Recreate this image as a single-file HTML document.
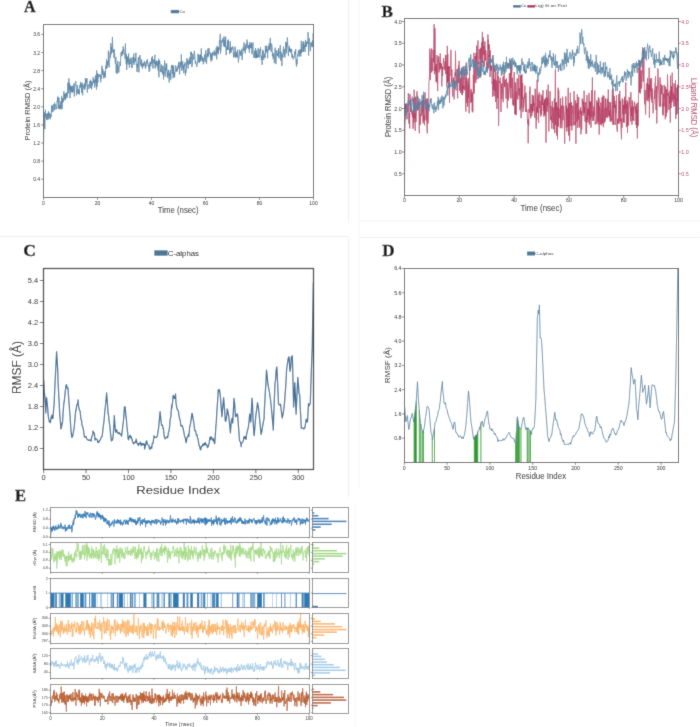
<!DOCTYPE html>
<html><head><meta charset="utf-8"><style>
html,body{margin:0;padding:0;background:#fff;width:700px;height:727px;overflow:hidden;}
svg{display:block;}
#w{}
text{-webkit-font-smoothing:antialiased;}
</style></head><body><div id="w"><svg width="700" height="727" viewBox="0 0 700 727"><defs><clipPath id="c0"><rect x="50.50" y="507.50" width="258.70" height="29.70"/></clipPath><clipPath id="c1"><rect x="50.50" y="542.90" width="258.70" height="29.50"/></clipPath><clipPath id="c2"><rect x="50.50" y="613.60" width="258.70" height="29.40"/></clipPath><clipPath id="c3"><rect x="50.50" y="648.90" width="258.70" height="29.40"/></clipPath><clipPath id="c4"><rect x="50.50" y="684.20" width="258.70" height="29.40"/></clipPath><filter id="bl" x="-0.02" y="-0.02" width="1.04" height="1.04"><feConvolveMatrix order="3" kernelMatrix="0.02 0.08 0.02 0.08 0.6 0.08 0.02 0.08 0.02" divisor="1" edgeMode="duplicate" preserveAlpha="true"/></filter></defs><g filter="url(#bl)"><rect x="-10" y="-10" width="720" height="747" fill="#fff"/><line x1="348.4" y1="0" x2="348.4" y2="223" stroke="#efefef" stroke-width="1"/><line x1="348.4" y1="236.6" x2="348.4" y2="497" stroke="#efefef" stroke-width="1"/><line x1="0" y1="236.6" x2="348" y2="236.6" stroke="#efefef" stroke-width="1"/><line x1="359.5" y1="221" x2="700" y2="221" stroke="#efefef" stroke-width="1"/><line x1="359.5" y1="237.4" x2="700" y2="237.4" stroke="#efefef" stroke-width="1"/><line x1="359.3" y1="0" x2="359.3" y2="488" stroke="#f6f6f6" stroke-width="1"/><line x1="355" y1="504" x2="355" y2="727" stroke="#f6f6f6" stroke-width="1"/><polyline points="43.5,145.3 43.8,129.4 44.0,122.6 44.3,112.4 44.6,128.0 44.9,129.0 45.1,118.0 45.4,109.7 45.7,116.2 45.9,117.3 46.2,113.7 46.5,119.1 46.7,115.8 47.0,120.1 47.3,116.3 47.6,113.2 47.8,115.0 48.1,119.7 48.4,111.2 48.6,111.7 48.9,117.9 49.2,117.8 49.4,112.7 49.7,113.7 50.0,118.9 50.3,119.3 50.5,113.9 50.8,114.6 51.1,117.2 51.3,113.8 51.6,105.0 51.9,112.3 52.1,109.7 52.4,106.0 52.7,108.5 53.0,111.7 53.2,106.3 53.5,104.1 53.8,106.7 54.0,107.1 54.3,110.3 54.6,102.7 54.9,104.2 55.1,106.1 55.4,104.8 55.7,106.5 55.9,109.4 56.2,108.7 56.5,106.8 56.7,108.6 57.0,101.1 57.3,101.7 57.6,96.6 57.8,101.6 58.1,97.8 58.4,108.9 58.6,106.4 58.9,97.4 59.2,107.2 59.4,105.1 59.7,109.2 60.0,106.4 60.3,106.5 60.5,107.8 60.8,101.4 61.1,109.5 61.3,108.8 61.6,95.9 61.9,105.0 62.1,108.9 62.4,101.2 62.7,98.3 63.0,102.2 63.2,101.1 63.5,102.1 63.8,91.4 64.0,98.3 64.3,99.1 64.6,93.8 64.9,95.2 65.1,100.3 65.4,94.0 65.7,98.9 65.9,93.2 66.2,92.6 66.5,95.7 66.7,93.5 67.0,98.1 67.3,97.3 67.6,91.5 67.8,82.7 68.1,93.5 68.4,93.0 68.6,90.5 68.9,78.3 69.2,89.8 69.4,83.7 69.7,83.0 70.0,98.1 70.3,85.4 70.5,90.3 70.8,86.2 71.1,92.5 71.3,86.2 71.6,89.7 71.9,91.8 72.1,88.9 72.4,92.5 72.7,85.7 73.0,92.0 73.2,92.1 73.5,87.8 73.8,86.4 74.0,83.5 74.3,96.5 74.6,87.0 74.9,85.8 75.1,84.2 75.4,82.5 75.7,81.0 75.9,82.1 76.2,87.9 76.5,95.4 76.7,90.6 77.0,89.7 77.3,85.1 77.6,85.3 77.8,93.8 78.1,89.1 78.4,90.0 78.6,93.6 78.9,91.9 79.2,90.2 79.4,94.7 79.7,86.2 80.0,85.0 80.3,87.5 80.5,81.9 80.8,86.0 81.1,83.9 81.3,84.5 81.6,93.0 81.9,84.3 82.1,82.6 82.4,90.7 82.7,95.3 83.0,84.3 83.2,85.7 83.5,87.4 83.8,86.8 84.0,87.1 84.3,89.4 84.6,83.5 84.9,89.4 85.1,85.2 85.4,78.2 85.7,86.6 85.9,78.2 86.2,83.3 86.5,81.3 86.7,82.8 87.0,78.3 87.3,92.5 87.6,87.0 87.8,85.9 88.1,84.2 88.4,87.8 88.6,88.0 88.9,88.9 89.2,88.8 89.4,87.3 89.7,81.0 90.0,82.4 90.3,82.6 90.5,79.7 90.8,88.0 91.1,81.1 91.3,85.3 91.6,89.4 91.9,87.0 92.1,81.9 92.4,85.5 92.7,82.7 93.0,80.2 93.2,77.1 93.5,82.3 93.8,81.0 94.0,83.1 94.3,79.5 94.6,87.6 94.9,84.6 95.1,85.0 95.4,75.4 95.7,82.4 95.9,79.5 96.2,84.4 96.5,89.6 96.7,70.3 97.0,87.0 97.3,73.3 97.6,78.3 97.8,82.7 98.1,79.7 98.4,77.2 98.6,74.1 98.9,74.9 99.2,74.1 99.4,76.7 99.7,76.6 100.0,77.0 100.3,74.7 100.5,80.9 100.8,82.2 101.1,75.4 101.3,78.6 101.6,77.8 101.9,65.8 102.1,70.3 102.4,74.9 102.7,68.6 103.0,71.6 103.2,70.9 103.5,74.0 103.8,78.6 104.0,74.6 104.3,76.7 104.6,72.7 104.9,74.5 105.1,71.0 105.4,77.4 105.7,66.0 105.9,65.5 106.2,69.0 106.5,59.2 106.7,63.2 107.0,68.1 107.3,62.9 107.6,61.3 107.8,65.0 108.1,62.5 108.4,50.5 108.6,62.1 108.9,66.1 109.2,67.4 109.4,62.5 109.7,59.8 110.0,53.0 110.3,51.7 110.5,58.0 110.8,43.3 111.1,54.3 111.3,46.8 111.6,49.9 111.9,50.9 112.1,52.7 112.4,36.9 112.7,45.4 113.0,51.0 113.2,50.3 113.5,52.0 113.8,50.1 114.0,57.9 114.3,49.3 114.6,53.6 114.9,57.5 115.1,60.9 115.4,64.1 115.7,59.9 115.9,57.1 116.2,73.1 116.5,64.0 116.7,65.7 117.0,69.2 117.3,74.0 117.6,64.3 117.8,61.1 118.1,65.5 118.4,65.8 118.6,69.9 118.9,72.5 119.2,67.1 119.4,66.2 119.7,66.4 120.0,61.8 120.3,63.7 120.5,65.6 120.8,54.2 121.1,52.1 121.3,52.0 121.6,54.9 121.9,56.2 122.1,51.2 122.4,54.3 122.7,49.9 123.0,52.8 123.2,46.3 123.5,50.5 123.8,49.0 124.0,54.5 124.3,53.6 124.6,54.3 124.9,55.6 125.1,58.9 125.4,43.6 125.7,54.3 125.9,54.5 126.2,64.1 126.5,54.0 126.7,69.9 127.0,56.3 127.3,62.4 127.6,60.2 127.8,57.0 128.1,64.6 128.4,62.2 128.6,53.4 128.9,60.2 129.2,59.9 129.4,67.8 129.7,62.4 130.0,58.7 130.3,62.9 130.5,64.1 130.8,62.0 131.1,57.6 131.3,59.5 131.6,67.9 131.9,65.8 132.1,68.0 132.4,63.2 132.7,62.5 133.0,57.0 133.2,62.9 133.5,55.5 133.8,53.6 134.0,64.8 134.3,61.1 134.6,57.9 134.9,58.2 135.1,58.6 135.4,61.6 135.7,56.9 135.9,52.7 136.2,62.5 136.5,66.2 136.7,66.3 137.0,72.0 137.3,64.0 137.6,67.6 137.8,62.8 138.1,60.5 138.4,57.0 138.6,58.2 138.9,72.4 139.2,60.8 139.4,58.0 139.7,55.8 140.0,55.0 140.3,59.1 140.5,64.3 140.8,62.6 141.1,65.3 141.3,66.3 141.6,59.2 141.9,66.3 142.1,63.6 142.4,68.8 142.7,63.9 143.0,64.6 143.2,66.6 143.5,63.1 143.8,62.7 144.0,65.3 144.3,61.0 144.6,62.3 144.9,64.0 145.1,66.2 145.4,68.5 145.7,63.4 145.9,67.2 146.2,61.3 146.5,61.6 146.7,60.7 147.0,63.1 147.3,59.2 147.6,63.9 147.8,62.8 148.1,65.9 148.4,64.9 148.6,67.4 148.9,67.3 149.2,71.8 149.4,64.9 149.7,70.6 150.0,61.7 150.3,64.5 150.5,62.9 150.8,66.3 151.1,61.5 151.3,60.9 151.6,57.7 151.9,64.0 152.1,58.1 152.4,56.2 152.7,63.6 153.0,68.5 153.2,62.5 153.5,60.7 153.8,59.4 154.0,62.0 154.3,63.6 154.6,58.7 154.9,54.8 155.1,68.5 155.4,65.4 155.7,61.8 155.9,66.6 156.2,60.5 156.5,63.5 156.7,65.3 157.0,63.2 157.3,61.1 157.6,68.5 157.8,69.2 158.1,70.6 158.4,69.7 158.6,58.7 158.9,77.3 159.2,60.1 159.4,63.9 159.7,61.1 160.0,63.7 160.3,67.1 160.5,71.7 160.8,69.8 161.1,72.2 161.3,71.2 161.6,64.6 161.9,66.3 162.1,67.0 162.4,74.2 162.7,74.0 163.0,65.9 163.2,68.6 163.5,79.5 163.8,71.8 164.0,73.1 164.3,67.1 164.6,60.5 164.9,65.1 165.1,76.5 165.4,69.8 165.7,67.9 165.9,69.6 166.2,63.5 166.5,70.7 166.7,63.7 167.0,71.5 167.3,77.3 167.6,71.6 167.8,77.5 168.1,72.7 168.4,69.8 168.6,73.6 168.9,76.6 169.2,82.5 169.4,73.2 169.7,76.3 170.0,72.1 170.3,70.1 170.5,72.8 170.8,79.7 171.1,71.4 171.3,66.2 171.6,65.3 171.9,67.5 172.1,64.9 172.4,73.6 172.7,65.9 173.0,66.4 173.2,78.1 173.5,65.7 173.8,75.5 174.0,73.5 174.3,72.3 174.6,77.4 174.9,73.6 175.1,71.7 175.4,65.4 175.7,66.8 175.9,66.2 176.2,71.9 176.5,68.9 176.7,70.1 177.0,71.6 177.3,67.6 177.6,69.5 177.8,66.6 178.1,65.4 178.4,66.7 178.6,62.2 178.9,68.3 179.2,67.1 179.4,70.1 179.7,74.4 180.0,61.7 180.3,67.4 180.5,62.7 180.8,63.8 181.1,65.1 181.3,54.4 181.6,62.0 181.9,70.7 182.1,65.4 182.4,65.5 182.7,61.3 183.0,69.1 183.2,66.7 183.5,65.2 183.8,73.3 184.0,69.5 184.3,64.0 184.6,65.7 184.9,65.7 185.1,62.3 185.4,75.5 185.7,70.1 185.9,72.9 186.2,70.6 186.5,67.8 186.7,59.2 187.0,58.1 187.3,62.8 187.6,64.3 187.8,60.4 188.1,68.5 188.4,65.9 188.6,63.4 188.9,60.7 189.2,59.3 189.4,64.3 189.7,61.1 190.0,56.8 190.3,61.8 190.5,63.9 190.8,51.8 191.1,55.1 191.3,51.8 191.6,60.5 191.9,67.1 192.1,64.7 192.4,65.2 192.7,53.7 193.0,55.1 193.2,57.0 193.5,59.5 193.8,59.4 194.0,58.4 194.3,50.8 194.6,52.7 194.9,57.2 195.1,61.3 195.4,63.8 195.7,61.1 195.9,61.5 196.2,64.0 196.5,65.8 196.7,67.0 197.0,64.7 197.3,64.5 197.6,64.5 197.8,54.0 198.1,53.9 198.4,54.7 198.6,56.0 198.9,62.2 199.2,54.8 199.4,62.9 199.7,58.6 200.0,61.2 200.3,57.0 200.5,54.5 200.8,61.3 201.1,53.3 201.3,48.5 201.6,58.6 201.9,56.3 202.1,60.4 202.4,58.3 202.7,61.5 203.0,57.7 203.2,64.3 203.5,64.0 203.8,62.1 204.0,58.6 204.3,59.0 204.6,54.5 204.9,58.2 205.1,61.9 205.4,57.0 205.7,50.3 205.9,51.7 206.2,60.9 206.5,64.1 206.7,62.3 207.0,56.2 207.3,53.4 207.6,57.2 207.8,48.7 208.1,52.3 208.4,56.3 208.6,56.5 208.9,48.0 209.2,49.7 209.4,51.4 209.7,53.5 210.0,52.3 210.3,55.1 210.5,59.3 210.8,53.3 211.1,61.5 211.3,57.7 211.6,53.8 211.9,59.2 212.1,60.1 212.4,54.0 212.7,51.9 213.0,55.5 213.2,53.7 213.5,52.7 213.8,53.6 214.0,52.2 214.3,50.5 214.6,51.0 214.9,56.2 215.1,52.1 215.4,52.5 215.7,54.9 215.9,54.2 216.2,47.7 216.5,52.0 216.7,59.3 217.0,46.3 217.3,45.9 217.6,52.8 217.8,51.4 218.1,47.4 218.4,54.3 218.6,47.2 218.9,49.5 219.2,50.2 219.4,40.6 219.7,43.2 220.0,37.9 220.3,33.8 220.5,53.7 220.8,51.0 221.1,47.3 221.3,47.3 221.6,44.4 221.9,40.2 222.1,42.3 222.4,40.9 222.7,38.2 223.0,38.6 223.2,39.8 223.5,45.7 223.8,43.9 224.0,36.5 224.3,47.1 224.6,43.4 224.9,40.2 225.1,47.1 225.4,46.3 225.7,36.7 225.9,48.6 226.2,55.1 226.5,51.6 226.7,46.8 227.0,49.9 227.3,48.6 227.6,40.6 227.8,49.8 228.1,48.7 228.4,39.5 228.6,46.8 228.9,49.9 229.2,48.8 229.4,49.2 229.7,54.1 230.0,44.2 230.3,41.2 230.5,51.5 230.8,47.6 231.1,52.7 231.3,47.8 231.6,47.7 231.9,50.1 232.1,49.2 232.4,46.3 232.7,46.9 233.0,46.6 233.2,47.8 233.5,57.7 233.8,52.3 234.0,55.6 234.3,55.5 234.6,56.8 234.9,51.7 235.1,46.7 235.4,55.0 235.7,58.0 235.9,56.2 236.2,51.6 236.5,55.8 236.7,56.8 237.0,54.1 237.3,57.4 237.6,49.5 237.8,51.6 238.1,57.4 238.4,62.5 238.6,60.2 238.9,57.9 239.2,57.9 239.4,53.8 239.7,49.7 240.0,53.3 240.3,54.7 240.5,51.5 240.8,53.9 241.1,56.1 241.3,54.1 241.6,50.2 241.9,48.9 242.1,60.1 242.4,54.7 242.7,54.2 243.0,50.5 243.2,46.9 243.5,47.5 243.8,50.9 244.0,42.5 244.3,50.2 244.6,49.5 244.9,48.6 245.1,52.7 245.4,53.3 245.7,44.6 245.9,48.9 246.2,49.1 246.5,42.5 246.7,41.7 247.0,39.6 247.3,44.4 247.6,42.7 247.8,47.8 248.1,45.3 248.4,49.1 248.6,48.2 248.9,45.0 249.2,49.5 249.4,52.7 249.7,42.2 250.0,43.2 250.3,47.8 250.5,48.2 250.8,44.1 251.1,47.8 251.3,42.5 251.6,46.1 251.9,54.3 252.1,52.3 252.4,48.4 252.7,45.5 253.0,42.5 253.2,52.7 253.5,54.5 253.8,57.9 254.0,57.7 254.3,54.4 254.6,52.1 254.9,50.7 255.1,58.0 255.4,48.0 255.7,50.3 255.9,58.3 256.2,50.3 256.5,57.7 256.7,52.7 257.0,56.8 257.3,57.9 257.6,54.9 257.8,57.5 258.1,48.2 258.4,54.9 258.6,56.4 258.9,56.0 259.2,57.4 259.4,54.9 259.7,49.5 260.0,50.9 260.3,51.8 260.5,47.2 260.8,54.9 261.1,58.1 261.3,60.1 261.6,57.8 261.9,55.5 262.1,64.8 262.4,55.8 262.7,49.7 263.0,54.6 263.2,51.0 263.5,58.3 263.8,59.9 264.0,56.3 264.3,57.1 264.6,53.8 264.9,55.2 265.1,57.8 265.4,45.8 265.7,53.6 265.9,48.9 266.2,49.2 266.5,51.4 266.7,45.7 267.0,51.8 267.3,49.5 267.6,58.3 267.8,52.3 268.1,51.4 268.4,46.0 268.6,47.3 268.9,50.1 269.2,43.4 269.4,46.8 269.7,49.7 270.0,44.3 270.3,37.9 270.5,46.9 270.8,46.5 271.1,51.7 271.3,44.5 271.6,43.5 271.9,45.0 272.1,46.7 272.4,56.5 272.7,54.0 273.0,52.8 273.2,59.2 273.5,57.6 273.8,53.7 274.0,55.7 274.3,63.1 274.6,60.9 274.9,61.1 275.1,47.7 275.4,59.4 275.7,61.8 275.9,64.1 276.2,60.9 276.5,50.2 276.7,50.0 277.0,50.4 277.3,55.7 277.6,53.3 277.8,53.6 278.1,55.5 278.4,56.8 278.6,48.0 278.9,58.3 279.2,52.4 279.4,52.3 279.7,52.9 280.0,49.5 280.3,45.0 280.5,50.3 280.8,60.6 281.1,51.8 281.3,57.0 281.6,57.0 281.9,65.9 282.1,55.0 282.4,54.0 282.7,56.4 283.0,57.6 283.2,49.7 283.5,46.5 283.8,54.2 284.0,52.4 284.3,49.2 284.6,56.9 284.9,57.0 285.1,57.4 285.4,51.7 285.7,41.9 285.9,47.1 286.2,46.5 286.5,53.4 286.7,42.6 287.0,45.9 287.3,37.5 287.6,41.0 287.8,47.4 288.1,49.6 288.4,56.1 288.6,52.4 288.9,48.8 289.2,45.9 289.4,51.4 289.7,47.9 290.0,48.4 290.3,52.2 290.5,49.2 290.8,51.3 291.1,51.8 291.3,53.2 291.6,48.9 291.9,57.5 292.1,54.8 292.4,54.1 292.7,57.7 293.0,56.3 293.2,59.4 293.5,58.8 293.8,58.2 294.0,58.3 294.3,57.8 294.6,51.9 294.9,55.3 295.1,51.0 295.4,52.7 295.7,49.0 295.9,60.0 296.2,64.4 296.5,66.7 296.7,59.3 297.0,64.4 297.3,56.8 297.6,54.6 297.8,55.8 298.1,54.9 298.4,50.2 298.6,52.6 298.9,52.6 299.2,56.7 299.4,51.4 299.7,53.8 300.0,49.2 300.3,52.8 300.5,50.0 300.8,56.4 301.1,48.0 301.3,40.8 301.6,53.0 301.9,49.5 302.1,51.9 302.4,49.6 302.7,44.3 303.0,45.0 303.2,41.2 303.5,51.8 303.8,42.5 304.0,47.5 304.3,45.0 304.6,48.8 304.9,50.2 305.1,52.0 305.4,39.9 305.7,41.4 305.9,46.8 306.2,43.1 306.5,47.0 306.7,41.6 307.0,41.6 307.3,43.6 307.6,42.9 307.8,43.3 308.1,32.1 308.4,45.6 308.6,55.6 308.9,43.8 309.2,40.9 309.4,38.4 309.7,41.4 310.0,46.3 310.3,51.2 310.5,50.0 310.8,42.9 311.1,44.5 311.3,42.5 311.6,45.4 311.9,45.4 312.1,47.2 312.4,40.5 312.7,40.5 313.0,46.6 313.2,33.4 313.5,42.9" fill="none" stroke="#5a87a6" stroke-width="0.85" stroke-linejoin="round"/><rect x="43.5" y="24.5" width="270" height="173" fill="none" stroke="#5a5a5a" stroke-width="1.0"/><line x1="41" y1="179.2" x2="43.5" y2="179.2" stroke="#444" stroke-width="0.6"/><text x="40.1" y="179.2" font-family='"Liberation Sans", sans-serif' font-size="5" font-weight="normal" fill="#222" text-anchor="end" dominant-baseline="central">0.4</text><line x1="41" y1="161.1" x2="43.5" y2="161.1" stroke="#444" stroke-width="0.6"/><text x="40.1" y="161.1" font-family='"Liberation Sans", sans-serif' font-size="5" font-weight="normal" fill="#222" text-anchor="end" dominant-baseline="central">0.8</text><line x1="41" y1="143" x2="43.5" y2="143" stroke="#444" stroke-width="0.6"/><text x="40.1" y="143" font-family='"Liberation Sans", sans-serif' font-size="5" font-weight="normal" fill="#222" text-anchor="end" dominant-baseline="central">1.2</text><line x1="41" y1="124.9" x2="43.5" y2="124.9" stroke="#444" stroke-width="0.6"/><text x="40.1" y="124.9" font-family='"Liberation Sans", sans-serif' font-size="5" font-weight="normal" fill="#222" text-anchor="end" dominant-baseline="central">1.6</text><line x1="41" y1="106.8" x2="43.5" y2="106.8" stroke="#444" stroke-width="0.6"/><text x="40.1" y="106.8" font-family='"Liberation Sans", sans-serif' font-size="5" font-weight="normal" fill="#222" text-anchor="end" dominant-baseline="central">2.0</text><line x1="41" y1="88.7" x2="43.5" y2="88.7" stroke="#444" stroke-width="0.6"/><text x="40.1" y="88.7" font-family='"Liberation Sans", sans-serif' font-size="5" font-weight="normal" fill="#222" text-anchor="end" dominant-baseline="central">2.4</text><line x1="41" y1="70.6" x2="43.5" y2="70.6" stroke="#444" stroke-width="0.6"/><text x="40.1" y="70.6" font-family='"Liberation Sans", sans-serif' font-size="5" font-weight="normal" fill="#222" text-anchor="end" dominant-baseline="central">2.8</text><line x1="41" y1="52.5" x2="43.5" y2="52.5" stroke="#444" stroke-width="0.6"/><text x="40.1" y="52.5" font-family='"Liberation Sans", sans-serif' font-size="5" font-weight="normal" fill="#222" text-anchor="end" dominant-baseline="central">3.2</text><line x1="41" y1="34.4" x2="43.5" y2="34.4" stroke="#444" stroke-width="0.6"/><text x="40.1" y="34.4" font-family='"Liberation Sans", sans-serif' font-size="5" font-weight="normal" fill="#222" text-anchor="end" dominant-baseline="central">3.6</text><line x1="43.5" y1="197.5" x2="43.5" y2="200" stroke="#444" stroke-width="0.6"/><text x="43.5" y="202.6" font-family='"Liberation Sans", sans-serif' font-size="5" font-weight="normal" fill="#222" text-anchor="middle" dominant-baseline="central">0</text><line x1="97.5" y1="197.5" x2="97.5" y2="200" stroke="#444" stroke-width="0.6"/><text x="97.5" y="202.6" font-family='"Liberation Sans", sans-serif' font-size="5" font-weight="normal" fill="#222" text-anchor="middle" dominant-baseline="central">20</text><line x1="151.5" y1="197.5" x2="151.5" y2="200" stroke="#444" stroke-width="0.6"/><text x="151.5" y="202.6" font-family='"Liberation Sans", sans-serif' font-size="5" font-weight="normal" fill="#222" text-anchor="middle" dominant-baseline="central">40</text><line x1="205.5" y1="197.5" x2="205.5" y2="200" stroke="#444" stroke-width="0.6"/><text x="205.5" y="202.6" font-family='"Liberation Sans", sans-serif' font-size="5" font-weight="normal" fill="#222" text-anchor="middle" dominant-baseline="central">60</text><line x1="259.5" y1="197.5" x2="259.5" y2="200" stroke="#444" stroke-width="0.6"/><text x="259.5" y="202.6" font-family='"Liberation Sans", sans-serif' font-size="5" font-weight="normal" fill="#222" text-anchor="middle" dominant-baseline="central">80</text><line x1="313.5" y1="197.5" x2="313.5" y2="200" stroke="#444" stroke-width="0.6"/><text x="313.5" y="202.6" font-family='"Liberation Sans", sans-serif' font-size="5" font-weight="normal" fill="#222" text-anchor="middle" dominant-baseline="central">100</text><text x="178.2" y="210" font-family='"Liberation Sans", sans-serif' font-size="8.6" font-weight="normal" fill="#222" text-anchor="middle" dominant-baseline="central" textLength="40.8" lengthAdjust="spacingAndGlyphs">Time (nsec)</text><text x="27.7" y="110.5" font-family='"Liberation Sans", sans-serif' font-size="7.6" font-weight="normal" fill="#222" text-anchor="middle" dominant-baseline="central" transform="rotate(-90 27.7 110.5)" textLength="60" lengthAdjust="spacingAndGlyphs">Protein RMSD (Å)</text><rect x="170.8" y="9.9" width="8.3" height="3.4" fill="#4f7c9c"/><text x="179.6" y="11.7" font-family='"Liberation Sans", sans-serif' font-size="4" font-weight="normal" fill="#333" text-anchor="start" dominant-baseline="central">Cα</text><text x="24" y="12.1" font-family='"Liberation Serif", serif' font-size="16" font-weight="bold" fill="#111" text-anchor="start" dominant-baseline="auto" stroke="#111" stroke-width="0.35">A</text><polyline points="404.5,195.5 404.8,138.9 405.0,121.8 405.3,117.8 405.6,103.9 405.9,109.4 406.1,104.2 406.4,103.0 406.7,113.5 407.0,119.3 407.2,110.4 407.5,108.4 407.8,111.7 408.1,107.3 408.3,93.1 408.6,108.6 408.9,123.6 409.2,117.5 409.4,113.0 409.7,128.4 410.0,94.0 410.3,104.8 410.5,111.9 410.8,98.9 411.1,111.1 411.4,108.7 411.6,113.8 411.9,113.0 412.2,116.2 412.5,117.4 412.7,110.6 413.0,128.8 413.3,118.4 413.6,98.2 413.8,122.6 414.1,89.7 414.4,96.1 414.6,118.6 414.9,113.5 415.2,131.0 415.5,101.9 415.7,96.7 416.0,122.1 416.3,115.4 416.6,109.4 416.8,92.2 417.1,91.2 417.4,110.5 417.7,101.9 417.9,97.1 418.2,101.9 418.5,109.4 418.8,101.3 419.0,115.9 419.3,133.2 419.6,108.4 419.9,102.8 420.1,106.1 420.4,124.8 420.7,117.7 421.0,114.2 421.2,115.8 421.5,110.5 421.8,114.3 422.1,101.4 422.3,112.2 422.6,100.3 422.9,123.2 423.2,123.3 423.4,94.7 423.7,120.5 424.0,115.3 424.2,117.2 424.5,125.4 424.8,101.4 425.1,92.5 425.3,103.3 425.6,100.3 425.9,119.5 426.2,120.6 426.4,102.6 426.7,121.6 427.0,129.9 427.3,133.4 427.5,98.6 427.8,107.4 428.1,123.4 428.4,116.1 428.6,109.3 428.9,82.2 429.2,80.2 429.5,75.0 429.7,48.7 430.0,68.9 430.3,80.1 430.6,60.5 430.8,55.0 431.1,51.7 431.4,48.4 431.7,72.5 431.9,58.1 432.2,63.1 432.5,65.6 432.8,70.9 433.0,49.7 433.3,57.8 433.6,62.3 433.8,48.2 434.1,24.2 434.4,74.3 434.7,53.5 434.9,28.1 435.2,35.5 435.5,71.2 435.8,66.7 436.0,81.6 436.3,63.9 436.6,81.2 436.9,82.7 437.1,55.0 437.4,84.0 437.7,91.1 438.0,68.1 438.2,59.9 438.5,61.9 438.8,56.5 439.1,72.5 439.3,64.7 439.6,62.3 439.9,69.9 440.2,53.4 440.4,57.6 440.7,68.5 441.0,64.3 441.3,66.5 441.5,63.0 441.8,86.5 442.1,74.5 442.3,66.5 442.6,76.1 442.9,67.7 443.2,69.0 443.4,58.2 443.7,62.3 444.0,61.7 444.3,62.4 444.5,68.3 444.8,70.3 445.1,67.6 445.4,55.2 445.6,74.2 445.9,54.8 446.2,59.2 446.5,66.0 446.7,86.4 447.0,83.0 447.3,45.8 447.6,82.5 447.8,54.0 448.1,81.4 448.4,69.6 448.7,66.4 448.9,84.2 449.2,66.1 449.5,102.9 449.8,74.2 450.0,75.3 450.3,69.8 450.6,59.5 450.9,49.8 451.1,55.4 451.4,76.0 451.7,81.8 451.9,69.6 452.2,83.8 452.5,96.4 452.8,95.0 453.0,79.8 453.3,81.3 453.6,77.6 453.9,77.4 454.1,99.4 454.4,81.2 454.7,88.3 455.0,72.4 455.2,76.6 455.5,50.8 455.8,71.3 456.1,79.8 456.3,84.3 456.6,81.1 456.9,69.5 457.2,69.2 457.4,93.7 457.7,98.3 458.0,71.6 458.3,83.0 458.5,65.5 458.8,71.7 459.1,60.8 459.4,72.8 459.6,90.6 459.9,83.7 460.2,78.0 460.5,93.0 460.7,82.9 461.0,75.9 461.3,67.9 461.5,70.7 461.8,94.7 462.1,68.9 462.4,95.2 462.6,85.3 462.9,93.0 463.2,77.6 463.5,88.9 463.7,87.8 464.0,86.5 464.3,90.3 464.6,84.9 464.8,69.4 465.1,79.3 465.4,78.4 465.7,108.7 465.9,111.6 466.2,62.6 466.5,80.0 466.8,102.8 467.0,80.7 467.3,92.3 467.6,106.6 467.9,100.5 468.1,78.1 468.4,98.2 468.7,84.7 469.0,98.6 469.2,113.3 469.5,65.4 469.8,87.8 470.1,89.3 470.3,94.3 470.6,94.3 470.9,103.0 471.1,90.1 471.4,89.3 471.7,101.7 472.0,92.6 472.2,111.4 472.5,92.8 472.8,112.3 473.1,90.5 473.3,74.9 473.6,92.4 473.9,52.9 474.2,93.6 474.4,73.2 474.7,68.5 475.0,56.0 475.3,56.7 475.5,62.8 475.8,83.0 476.1,52.8 476.4,60.8 476.6,45.7 476.9,79.5 477.2,60.0 477.5,59.7 477.7,45.5 478.0,40.4 478.3,63.1 478.6,64.2 478.8,61.9 479.1,75.1 479.4,49.1 479.7,50.2 479.9,54.8 480.2,58.9 480.5,47.8 480.7,77.5 481.0,57.0 481.3,48.9 481.6,42.4 481.8,67.9 482.1,45.6 482.4,31.9 482.7,62.7 482.9,37.1 483.2,38.2 483.5,38.5 483.8,54.8 484.0,46.0 484.3,66.8 484.6,56.5 484.9,41.4 485.1,45.8 485.4,60.5 485.7,50.0 486.0,52.1 486.2,55.3 486.5,69.1 486.8,71.6 487.1,62.4 487.3,70.0 487.6,49.5 487.9,34.5 488.2,49.3 488.4,39.6 488.7,67.9 489.0,54.8 489.3,57.0 489.5,44.5 489.8,57.8 490.1,76.9 490.3,50.6 490.6,70.2 490.9,65.3 491.2,70.9 491.4,65.8 491.7,67.0 492.0,83.3 492.3,82.0 492.5,96.9 492.8,96.2 493.1,67.4 493.4,89.8 493.6,62.9 493.9,94.0 494.2,96.3 494.5,79.1 494.7,86.5 495.0,91.1 495.3,70.1 495.6,102.1 495.8,92.6 496.1,80.4 496.4,82.0 496.7,100.3 496.9,109.0 497.2,71.7 497.5,98.2 497.8,97.5 498.0,94.2 498.3,75.6 498.6,125.8 498.9,100.4 499.1,83.5 499.4,80.9 499.7,81.8 499.9,83.0 500.2,77.5 500.5,80.7 500.8,102.1 501.0,112.0 501.3,83.4 501.6,89.8 501.9,99.2 502.1,95.5 502.4,92.0 502.7,82.5 503.0,76.5 503.2,102.3 503.5,96.0 503.8,82.3 504.1,69.9 504.3,80.4 504.6,87.1 504.9,80.2 505.2,79.5 505.4,79.8 505.7,88.2 506.0,98.7 506.3,86.0 506.5,78.1 506.8,86.5 507.1,99.5 507.4,108.3 507.6,84.7 507.9,82.6 508.2,90.3 508.4,100.4 508.7,89.8 509.0,87.5 509.3,73.3 509.5,79.6 509.8,88.8 510.1,94.2 510.4,98.3 510.6,60.4 510.9,88.2 511.2,63.7 511.5,74.8 511.7,70.8 512.0,98.5 512.3,77.6 512.6,98.5 512.8,104.5 513.1,99.4 513.4,105.9 513.7,92.5 513.9,85.1 514.2,72.0 514.5,100.7 514.8,114.3 515.0,88.5 515.3,82.4 515.6,114.6 515.9,91.5 516.1,111.3 516.4,115.2 516.7,86.6 517.0,83.2 517.2,78.4 517.5,96.3 517.8,99.5 518.0,97.1 518.3,93.0 518.6,87.8 518.9,74.6 519.1,95.5 519.4,89.7 519.7,88.4 520.0,110.2 520.2,89.4 520.5,75.3 520.8,88.2 521.1,118.2 521.3,75.1 521.6,107.6 521.9,74.2 522.2,82.1 522.4,99.0 522.7,83.1 523.0,112.1 523.3,97.8 523.5,108.3 523.8,103.1 524.1,99.8 524.4,95.2 524.6,97.7 524.9,85.6 525.2,105.9 525.5,111.8 525.7,97.0 526.0,92.7 526.3,95.9 526.6,112.0 526.8,109.6 527.1,111.5 527.4,118.1 527.6,123.8 527.9,119.2 528.2,143.3 528.5,119.5 528.7,125.8 529.0,108.8 529.3,112.7 529.6,91.5 529.8,93.2 530.1,86.6 530.4,112.0 530.7,118.3 530.9,103.9 531.2,110.5 531.5,104.4 531.8,116.2 532.0,109.1 532.3,94.8 532.6,112.7 532.9,99.8 533.1,111.2 533.4,102.3 533.7,95.5 534.0,105.2 534.2,103.0 534.5,108.3 534.8,117.7 535.1,88.7 535.3,93.7 535.6,99.1 535.9,115.5 536.2,128.7 536.4,107.0 536.7,120.3 537.0,84.7 537.2,79.7 537.5,112.6 537.8,96.3 538.1,95.0 538.3,107.6 538.6,122.9 538.9,98.8 539.2,92.4 539.4,98.5 539.7,108.3 540.0,100.7 540.3,113.3 540.5,109.8 540.8,116.6 541.1,94.4 541.4,100.7 541.6,114.9 541.9,105.4 542.2,96.3 542.5,103.6 542.7,105.0 543.0,90.1 543.3,110.9 543.6,103.3 543.8,116.7 544.1,105.6 544.4,99.3 544.7,115.5 544.9,100.8 545.2,113.7 545.5,97.7 545.8,125.3 546.0,142.7 546.3,120.4 546.6,89.8 546.8,107.3 547.1,111.7 547.4,105.6 547.7,97.8 547.9,105.8 548.2,84.5 548.5,109.3 548.8,131.4 549.0,124.2 549.3,109.0 549.6,104.3 549.9,96.7 550.1,91.2 550.4,98.6 550.7,120.3 551.0,106.2 551.2,119.0 551.5,116.8 551.8,128.8 552.1,107.1 552.3,101.0 552.6,112.2 552.9,122.9 553.2,107.5 553.4,113.1 553.7,129.4 554.0,115.0 554.3,98.6 554.5,102.5 554.8,133.1 555.1,96.0 555.4,69.4 555.6,125.1 555.9,103.3 556.2,110.0 556.4,102.0 556.7,135.5 557.0,117.7 557.3,106.9 557.5,139.5 557.8,114.2 558.1,87.7 558.4,126.5 558.6,89.8 558.9,92.2 559.2,116.6 559.5,116.9 559.7,118.2 560.0,108.6 560.3,128.2 560.6,98.2 560.8,124.0 561.1,109.7 561.4,107.7 561.7,105.5 561.9,128.3 562.2,122.6 562.5,96.7 562.8,97.8 563.0,120.2 563.3,115.7 563.6,105.8 563.9,111.2 564.1,113.2 564.4,126.7 564.7,143.8 565.0,116.1 565.2,114.9 565.5,101.2 565.8,96.4 566.0,98.3 566.3,127.5 566.6,105.7 566.9,131.5 567.1,113.1 567.4,108.4 567.7,127.2 568.0,123.3 568.2,87.8 568.5,135.5 568.8,103.7 569.1,126.0 569.3,102.9 569.6,141.1 569.9,126.6 570.2,113.3 570.4,92.7 570.7,120.4 571.0,125.9 571.3,117.1 571.5,102.0 571.8,130.5 572.1,113.6 572.4,111.9 572.6,112.3 572.9,105.4 573.2,125.7 573.5,112.2 573.7,112.5 574.0,91.1 574.3,105.8 574.6,111.9 574.8,125.2 575.1,121.8 575.4,124.9 575.6,100.3 575.9,143.7 576.2,105.7 576.5,103.4 576.7,103.5 577.0,122.0 577.3,94.3 577.6,114.9 577.8,128.0 578.1,112.2 578.4,119.4 578.7,97.1 578.9,116.4 579.2,116.7 579.5,127.4 579.8,112.8 580.0,109.7 580.3,114.1 580.6,107.0 580.9,134.4 581.1,128.2 581.4,110.9 581.7,129.6 582.0,108.5 582.2,98.5 582.5,104.1 582.8,100.3 583.1,115.7 583.3,102.2 583.6,107.8 583.9,112.9 584.1,90.7 584.4,112.9 584.7,107.1 585.0,121.6 585.2,104.5 585.5,102.1 585.8,107.7 586.1,133.7 586.3,116.7 586.6,133.9 586.9,94.9 587.2,116.9 587.4,119.7 587.7,108.4 588.0,122.6 588.3,109.0 588.5,115.6 588.8,105.8 589.1,92.9 589.4,124.8 589.6,101.4 589.9,108.4 590.2,119.5 590.5,101.6 590.7,109.2 591.0,127.7 591.3,103.6 591.6,90.2 591.8,117.4 592.1,109.6 592.4,77.4 592.7,102.3 592.9,120.9 593.2,111.1 593.5,120.7 593.7,121.0 594.0,106.4 594.3,115.9 594.6,100.9 594.8,90.5 595.1,124.6 595.4,124.0 595.7,121.7 595.9,122.6 596.2,123.8 596.5,107.3 596.8,100.3 597.0,121.8 597.3,107.5 597.6,102.4 597.9,102.8 598.1,124.4 598.4,96.9 598.7,121.8 599.0,98.5 599.2,134.5 599.5,106.1 599.8,107.5 600.1,107.8 600.3,113.6 600.6,124.5 600.9,102.3 601.2,107.7 601.4,108.7 601.7,125.4 602.0,97.1 602.3,104.6 602.5,123.2 602.8,100.7 603.1,95.2 603.3,127.3 603.6,126.6 603.9,96.0 604.2,113.1 604.4,114.7 604.7,123.0 605.0,108.5 605.3,120.8 605.5,98.4 605.8,110.2 606.1,107.5 606.4,109.6 606.6,117.6 606.9,105.8 607.2,98.7 607.5,110.7 607.7,117.9 608.0,105.7 608.3,89.5 608.6,111.8 608.8,115.9 609.1,101.8 609.4,117.1 609.7,110.7 609.9,115.6 610.2,121.4 610.5,102.0 610.8,122.0 611.0,117.8 611.3,120.4 611.6,114.0 611.9,107.2 612.1,100.9 612.4,89.8 612.7,122.2 612.9,124.7 613.2,88.4 613.5,125.0 613.8,106.2 614.0,107.7 614.3,95.9 614.6,107.4 614.9,100.9 615.1,125.0 615.4,118.6 615.7,104.8 616.0,111.9 616.2,112.8 616.5,95.0 616.8,128.4 617.1,127.9 617.3,131.9 617.6,118.8 617.9,122.3 618.2,123.6 618.4,122.2 618.7,94.2 619.0,123.7 619.3,116.7 619.5,104.1 619.8,90.8 620.1,121.5 620.4,118.8 620.6,100.8 620.9,125.1 621.2,133.4 621.5,139.3 621.7,118.6 622.0,127.8 622.3,98.2 622.5,113.9 622.8,99.6 623.1,108.9 623.4,122.3 623.6,104.9 623.9,106.2 624.2,122.9 624.5,96.8 624.7,109.1 625.0,100.9 625.3,113.9 625.6,87.8 625.8,82.4 626.1,112.0 626.4,127.1 626.7,104.1 626.9,109.2 627.2,100.4 627.5,133.1 627.8,102.4 628.0,106.6 628.3,112.1 628.6,125.5 628.9,105.1 629.1,96.9 629.4,100.4 629.7,104.7 630.0,107.3 630.2,108.6 630.5,121.4 630.8,92.0 631.1,98.2 631.3,116.1 631.6,106.8 631.9,124.7 632.1,121.0 632.4,100.5 632.7,120.1 633.0,120.0 633.2,106.5 633.5,108.5 633.8,121.0 634.1,102.5 634.3,102.3 634.6,101.6 634.9,109.5 635.2,109.8 635.4,113.1 635.7,106.0 636.0,124.8 636.3,103.6 636.5,127.9 636.8,118.6 637.1,109.8 637.4,138.5 637.6,110.3 637.9,102.5 638.2,125.9 638.5,98.9 638.7,68.0 639.0,69.4 639.3,60.0 639.6,92.6 639.8,78.4 640.1,63.1 640.4,93.4 640.7,90.7 640.9,73.9 641.2,70.3 641.5,88.4 641.7,86.0 642.0,75.1 642.3,72.8 642.6,47.1 642.8,67.2 643.1,81.0 643.4,81.6 643.7,69.6 643.9,49.9 644.2,83.5 644.5,102.5 644.8,104.4 645.0,90.1 645.3,107.0 645.6,114.6 645.9,100.6 646.1,98.4 646.4,84.1 646.7,83.1 647.0,100.5 647.2,91.5 647.5,77.9 647.8,91.5 648.1,101.4 648.3,84.5 648.6,97.6 648.9,91.9 649.2,67.7 649.4,117.8 649.7,85.1 650.0,91.4 650.2,78.4 650.5,81.1 650.8,95.7 651.1,97.2 651.3,99.5 651.6,78.0 651.9,102.6 652.2,88.7 652.4,88.6 652.7,102.2 653.0,113.4 653.3,110.9 653.5,105.7 653.8,103.9 654.1,100.4 654.4,89.8 654.6,98.6 654.9,83.1 655.2,82.4 655.5,76.0 655.7,93.7 656.0,110.0 656.3,86.1 656.6,87.7 656.8,123.5 657.1,98.4 657.4,88.9 657.7,78.0 657.9,68.5 658.2,77.8 658.5,84.5 658.8,92.1 659.0,99.4 659.3,106.5 659.6,105.2 659.8,94.4 660.1,77.4 660.4,94.0 660.7,106.7 660.9,89.9 661.2,84.1 661.5,94.1 661.8,94.0 662.0,88.0 662.3,85.7 662.6,114.3 662.9,103.4 663.1,115.5 663.4,93.5 663.7,93.8 664.0,106.5 664.2,84.9 664.5,97.9 664.8,97.4 665.1,108.4 665.3,119.3 665.6,86.6 665.9,101.5 666.2,116.7 666.4,92.6 666.7,89.3 667.0,112.8 667.3,92.9 667.5,74.2 667.8,87.7 668.1,96.2 668.4,93.6 668.6,92.8 668.9,109.9 669.2,101.8 669.4,96.4 669.7,103.5 670.0,90.5 670.3,122.7 670.5,75.6 670.8,101.1 671.1,108.1 671.4,98.9 671.6,86.1 671.9,102.5 672.2,72.7 672.5,83.9 672.7,100.1 673.0,99.9 673.3,92.8 673.6,93.4 673.8,106.9 674.1,83.2 674.4,98.5 674.7,95.6 674.9,105.7 675.2,104.1 675.5,80.1 675.8,118.9 676.0,98.3 676.3,104.8 676.6,114.8 676.9,87.5 677.1,101.0 677.4,84.7 677.7,98.2 678.0,113.9 678.2,97.5 678.5,116.9" fill="none" stroke="#b43a62" stroke-width="0.75" stroke-linejoin="round"/><polyline points="404.5,125.9 404.8,121.2 405.0,118.4 405.3,112.7 405.6,108.8 405.9,114.5 406.1,110.9 406.4,114.8 406.7,114.1 407.0,110.4 407.2,104.0 407.5,108.3 407.8,106.3 408.1,100.5 408.3,102.0 408.6,103.2 408.9,101.0 409.2,100.3 409.4,104.6 409.7,104.0 410.0,102.7 410.3,101.1 410.5,105.7 410.8,108.9 411.1,110.6 411.4,105.2 411.6,106.0 411.9,101.8 412.2,96.6 412.5,100.9 412.7,100.2 413.0,105.1 413.3,113.1 413.6,104.2 413.8,102.8 414.1,100.4 414.4,103.0 414.6,111.8 414.9,111.5 415.2,108.1 415.5,109.7 415.7,108.8 416.0,105.2 416.3,106.3 416.6,105.6 416.8,104.7 417.1,109.4 417.4,105.4 417.7,95.6 417.9,102.8 418.2,109.7 418.5,104.2 418.8,103.4 419.0,107.9 419.3,101.7 419.6,98.8 419.9,99.2 420.1,103.0 420.4,102.6 420.7,104.6 421.0,101.0 421.2,102.6 421.5,113.4 421.8,103.9 422.1,95.1 422.3,102.7 422.6,105.9 422.9,104.9 423.2,102.6 423.4,100.5 423.7,91.7 424.0,96.0 424.2,99.7 424.5,104.7 424.8,104.3 425.1,109.2 425.3,107.9 425.6,106.2 425.9,105.3 426.2,105.4 426.4,98.5 426.7,106.7 427.0,105.9 427.3,107.8 427.5,105.7 427.8,109.8 428.1,104.7 428.4,108.7 428.6,103.4 428.9,111.4 429.2,109.7 429.5,104.5 429.7,107.3 430.0,102.7 430.3,98.9 430.6,101.4 430.8,103.1 431.1,98.1 431.4,103.2 431.7,105.8 431.9,106.6 432.2,108.4 432.5,109.2 432.8,104.4 433.0,105.1 433.3,106.9 433.6,107.2 433.8,113.3 434.1,103.0 434.4,102.5 434.7,103.9 434.9,109.4 435.2,108.6 435.5,107.3 435.8,111.9 436.0,106.1 436.3,106.7 436.6,109.1 436.9,109.3 437.1,105.1 437.4,101.2 437.7,105.6 438.0,102.4 438.2,96.9 438.5,110.2 438.8,103.8 439.1,99.5 439.3,104.2 439.6,103.5 439.9,101.3 440.2,103.0 440.4,99.9 440.7,103.8 441.0,97.2 441.3,97.6 441.5,101.7 441.8,98.8 442.1,95.6 442.3,98.1 442.6,100.4 442.9,108.3 443.2,103.2 443.4,99.2 443.7,96.8 444.0,105.6 444.3,101.5 444.5,98.3 444.8,96.8 445.1,99.2 445.4,94.5 445.6,95.9 445.9,96.0 446.2,97.0 446.5,91.4 446.7,91.8 447.0,90.4 447.3,86.0 447.6,91.2 447.8,95.4 448.1,88.0 448.4,83.2 448.7,88.1 448.9,83.9 449.2,85.3 449.5,87.3 449.8,86.8 450.0,83.5 450.3,86.3 450.6,85.4 450.9,86.4 451.1,86.8 451.4,81.5 451.7,82.7 451.9,81.6 452.2,82.4 452.5,83.8 452.8,87.7 453.0,86.8 453.3,82.8 453.6,79.9 453.9,80.9 454.1,81.5 454.4,84.4 454.7,85.5 455.0,89.1 455.2,86.1 455.5,80.7 455.8,82.8 456.1,90.5 456.3,81.2 456.6,85.3 456.9,81.3 457.2,80.8 457.4,80.7 457.7,68.7 458.0,71.1 458.3,68.8 458.5,73.7 458.8,74.5 459.1,73.2 459.4,79.2 459.6,77.9 459.9,70.7 460.2,70.7 460.5,74.5 460.7,73.2 461.0,73.4 461.3,74.5 461.5,73.1 461.8,74.2 462.1,67.5 462.4,69.4 462.6,74.9 462.9,69.0 463.2,66.3 463.5,79.4 463.7,70.0 464.0,66.0 464.3,69.6 464.6,74.9 464.8,73.5 465.1,75.9 465.4,66.5 465.7,65.6 465.9,70.4 466.2,68.7 466.5,69.8 466.8,73.6 467.0,72.3 467.3,74.9 467.6,69.3 467.9,68.5 468.1,65.5 468.4,60.9 468.7,59.9 469.0,60.8 469.2,57.7 469.5,64.7 469.8,68.5 470.1,64.6 470.3,70.7 470.6,54.6 470.9,54.4 471.1,63.0 471.4,64.4 471.7,66.9 472.0,64.2 472.2,60.7 472.5,59.0 472.8,62.9 473.1,62.9 473.3,68.4 473.6,60.5 473.9,67.2 474.2,66.6 474.4,63.0 474.7,61.8 475.0,66.5 475.3,63.3 475.5,64.5 475.8,66.9 476.1,67.6 476.4,69.9 476.6,70.7 476.9,64.3 477.2,60.9 477.5,64.2 477.7,75.5 478.0,66.1 478.3,78.7 478.6,76.9 478.8,77.7 479.1,70.7 479.4,77.6 479.7,70.6 479.9,67.5 480.2,74.5 480.5,75.4 480.7,66.5 481.0,75.3 481.3,60.4 481.6,61.3 481.8,67.9 482.1,71.6 482.4,70.5 482.7,70.4 482.9,68.1 483.2,67.5 483.5,61.1 483.8,74.3 484.0,71.0 484.3,74.9 484.6,71.9 484.9,73.8 485.1,70.8 485.4,75.2 485.7,71.1 486.0,67.3 486.2,68.3 486.5,68.7 486.8,70.7 487.1,66.3 487.3,72.8 487.6,65.2 487.9,69.6 488.2,67.8 488.4,66.5 488.7,61.5 489.0,62.5 489.3,58.9 489.5,64.6 489.8,63.2 490.1,62.3 490.3,61.9 490.6,62.9 490.9,62.0 491.2,58.9 491.4,62.1 491.7,62.7 492.0,61.4 492.3,58.9 492.5,55.5 492.8,67.9 493.1,55.2 493.4,61.7 493.6,61.2 493.9,66.0 494.2,65.6 494.5,71.9 494.7,65.7 495.0,70.7 495.3,71.1 495.6,65.3 495.8,65.8 496.1,65.9 496.4,63.7 496.7,70.9 496.9,68.0 497.2,68.0 497.5,65.8 497.8,64.5 498.0,74.4 498.3,69.3 498.6,67.1 498.9,68.4 499.1,68.0 499.4,69.5 499.7,70.4 499.9,69.3 500.2,64.5 500.5,69.2 500.8,68.4 501.0,67.7 501.3,75.9 501.6,74.8 501.9,66.9 502.1,74.5 502.4,66.4 502.7,64.5 503.0,69.6 503.2,65.8 503.5,61.7 503.8,71.4 504.1,65.5 504.3,67.4 504.6,70.4 504.9,73.5 505.2,63.3 505.4,62.1 505.7,69.3 506.0,71.6 506.3,69.6 506.5,56.8 506.8,66.8 507.1,68.0 507.4,66.2 507.6,62.8 507.9,69.0 508.2,63.4 508.4,67.2 508.7,65.2 509.0,63.1 509.3,68.6 509.5,58.4 509.8,63.8 510.1,63.6 510.4,62.0 510.6,65.1 510.9,64.2 511.2,58.4 511.5,58.6 511.7,64.1 512.0,70.6 512.3,64.3 512.6,64.7 512.8,57.8 513.1,63.8 513.4,63.0 513.7,61.6 513.9,65.3 514.2,62.6 514.5,59.9 514.8,62.6 515.0,67.1 515.3,62.0 515.6,66.1 515.9,62.7 516.1,66.4 516.4,65.7 516.7,68.4 517.0,66.0 517.2,74.3 517.5,65.7 517.8,68.5 518.0,66.0 518.3,65.4 518.6,70.7 518.9,65.0 519.1,67.5 519.4,72.6 519.7,65.1 520.0,65.2 520.2,74.2 520.5,65.1 520.8,65.6 521.1,70.4 521.3,63.7 521.6,63.2 521.9,58.3 522.2,64.0 522.4,65.0 522.7,62.1 523.0,61.8 523.3,62.7 523.5,71.1 523.8,70.2 524.1,67.8 524.4,66.0 524.6,72.2 524.9,64.1 525.2,73.1 525.5,71.6 525.7,73.6 526.0,70.4 526.3,72.8 526.6,69.7 526.8,67.1 527.1,64.6 527.4,68.0 527.6,67.8 527.9,61.6 528.2,68.4 528.5,64.9 528.7,63.9 529.0,59.7 529.3,58.2 529.6,65.4 529.8,62.3 530.1,66.2 530.4,69.2 530.7,67.2 530.9,71.5 531.2,64.0 531.5,63.9 531.8,62.1 532.0,62.4 532.3,62.4 532.6,62.0 532.9,71.2 533.1,66.0 533.4,69.9 533.7,70.3 534.0,69.0 534.2,64.0 534.5,71.0 534.8,66.0 535.1,72.0 535.3,68.7 535.6,65.1 535.9,73.7 536.2,69.9 536.4,70.6 536.7,68.2 537.0,66.0 537.2,72.2 537.5,74.5 537.8,78.8 538.1,81.9 538.3,72.7 538.6,74.7 538.9,75.1 539.2,75.2 539.4,71.6 539.7,67.9 540.0,73.9 540.3,72.5 540.5,70.0 540.8,70.4 541.1,66.3 541.4,67.5 541.6,60.7 541.9,57.5 542.2,64.1 542.5,63.9 542.7,61.1 543.0,56.7 543.3,58.2 543.6,60.2 543.8,62.5 544.1,55.5 544.4,64.5 544.7,60.1 544.9,65.5 545.2,67.6 545.5,52.8 545.8,56.4 546.0,65.4 546.3,62.8 546.6,57.7 546.8,66.3 547.1,60.0 547.4,61.3 547.7,59.0 547.9,59.0 548.2,63.9 548.5,55.8 548.8,57.7 549.0,54.7 549.3,55.0 549.6,57.0 549.9,50.4 550.1,51.3 550.4,56.1 550.7,57.8 551.0,60.2 551.2,56.4 551.5,58.5 551.8,66.2 552.1,68.0 552.3,57.2 552.6,56.9 552.9,57.6 553.2,61.8 553.4,53.0 553.7,58.9 554.0,64.8 554.3,62.4 554.5,65.7 554.8,65.0 555.1,59.8 555.4,54.7 555.6,60.9 555.9,68.3 556.2,67.7 556.4,61.2 556.7,62.6 557.0,65.1 557.3,61.0 557.5,65.4 557.8,67.8 558.1,65.8 558.4,71.8 558.6,68.9 558.9,68.7 559.2,64.8 559.5,65.9 559.7,66.0 560.0,65.4 560.3,70.0 560.6,63.5 560.8,70.8 561.1,70.8 561.4,69.6 561.7,70.3 561.9,70.7 562.2,59.3 562.5,65.3 562.8,64.3 563.0,59.5 563.3,62.2 563.6,62.7 563.9,64.7 564.1,69.6 564.4,52.4 564.7,60.1 565.0,55.2 565.2,63.8 565.5,57.1 565.8,55.7 566.0,52.9 566.3,60.2 566.6,66.7 566.9,51.8 567.1,48.9 567.4,57.9 567.7,62.2 568.0,59.8 568.2,58.4 568.5,63.0 568.8,57.2 569.1,58.3 569.3,54.8 569.6,55.3 569.9,52.0 570.2,53.1 570.4,57.2 570.7,58.3 571.0,59.3 571.3,59.6 571.5,58.3 571.8,54.5 572.1,55.5 572.4,49.7 572.6,54.3 572.9,51.6 573.2,59.2 573.5,56.7 573.7,66.2 574.0,56.3 574.3,62.9 574.6,53.6 574.8,53.8 575.1,52.7 575.4,53.4 575.6,55.5 575.9,56.1 576.2,55.5 576.5,54.4 576.7,49.1 577.0,53.7 577.3,49.9 577.6,45.8 577.8,47.1 578.1,52.3 578.4,52.9 578.7,53.4 578.9,53.0 579.2,49.2 579.5,47.5 579.8,42.5 580.0,32.6 580.3,39.0 580.6,44.0 580.9,36.7 581.1,35.3 581.4,35.3 581.7,29.2 582.0,32.4 582.2,43.7 582.5,41.9 582.8,36.8 583.1,41.2 583.3,42.8 583.6,45.4 583.9,43.5 584.1,48.4 584.4,53.2 584.7,54.1 585.0,49.3 585.2,49.8 585.5,47.4 585.8,50.1 586.1,51.5 586.3,60.8 586.6,54.3 586.9,57.1 587.2,50.9 587.4,63.2 587.7,58.6 588.0,56.0 588.3,68.4 588.5,57.9 588.8,59.4 589.1,68.8 589.4,59.5 589.6,61.2 589.9,62.1 590.2,63.9 590.5,66.7 590.7,54.1 591.0,64.5 591.3,64.0 591.6,61.8 591.8,62.7 592.1,67.0 592.4,60.3 592.7,62.9 592.9,64.4 593.2,64.2 593.5,66.4 593.7,67.4 594.0,68.4 594.3,67.7 594.6,63.4 594.8,62.9 595.1,61.7 595.4,71.5 595.7,66.7 595.9,63.4 596.2,54.9 596.5,61.1 596.8,63.9 597.0,74.7 597.3,62.8 597.6,64.1 597.9,69.7 598.1,73.5 598.4,70.8 598.7,64.7 599.0,72.5 599.2,72.7 599.5,71.2 599.8,71.9 600.1,68.1 600.3,61.1 600.6,63.5 600.9,74.3 601.2,68.1 601.4,68.8 601.7,67.3 602.0,69.9 602.3,73.1 602.5,70.7 602.8,67.3 603.1,70.4 603.3,62.6 603.6,68.7 603.9,74.2 604.2,77.1 604.4,71.2 604.7,72.8 605.0,73.6 605.3,62.0 605.5,76.3 605.8,68.7 606.1,68.1 606.4,69.1 606.6,68.2 606.9,66.5 607.2,72.5 607.5,77.4 607.7,76.4 608.0,71.8 608.3,74.8 608.6,76.2 608.8,75.0 609.1,77.4 609.4,76.0 609.7,79.8 609.9,68.2 610.2,78.8 610.5,76.2 610.8,76.9 611.0,78.0 611.3,80.1 611.6,74.6 611.9,84.4 612.1,81.0 612.4,84.0 612.7,89.8 612.9,82.1 613.2,79.5 613.5,82.7 613.8,85.4 614.0,86.5 614.3,84.1 614.6,85.8 614.9,86.6 615.1,86.3 615.4,83.6 615.7,91.2 616.0,85.6 616.2,84.6 616.5,78.1 616.8,75.4 617.1,86.8 617.3,91.0 617.6,86.8 617.9,83.0 618.2,82.6 618.4,81.9 618.7,81.5 619.0,83.9 619.3,81.3 619.5,86.6 619.8,81.9 620.1,81.6 620.4,82.4 620.6,80.7 620.9,79.2 621.2,79.8 621.5,79.6 621.7,76.9 622.0,80.5 622.3,82.2 622.5,81.9 622.8,75.8 623.1,82.2 623.4,79.4 623.6,79.4 623.9,79.0 624.2,79.2 624.5,71.1 624.7,76.4 625.0,73.0 625.3,74.9 625.6,72.3 625.8,75.5 626.1,80.8 626.4,79.4 626.7,77.2 626.9,77.0 627.2,69.3 627.5,70.6 627.8,76.6 628.0,78.2 628.3,77.7 628.6,71.0 628.9,72.6 629.1,72.7 629.4,75.1 629.7,72.0 630.0,71.9 630.2,76.7 630.5,78.1 630.8,75.5 631.1,85.4 631.3,71.6 631.6,70.9 631.9,73.3 632.1,64.6 632.4,71.3 632.7,76.5 633.0,67.3 633.2,63.0 633.5,67.7 633.8,67.7 634.1,67.4 634.3,66.0 634.6,72.7 634.9,62.9 635.2,63.7 635.4,68.1 635.7,66.5 636.0,66.6 636.3,66.7 636.5,61.5 636.8,68.7 637.1,72.9 637.4,70.4 637.6,67.2 637.9,63.0 638.2,66.1 638.5,64.4 638.7,59.8 639.0,65.9 639.3,66.2 639.6,62.6 639.8,61.1 640.1,66.5 640.4,61.8 640.7,60.3 640.9,67.3 641.2,64.2 641.5,60.4 641.7,58.2 642.0,63.6 642.3,51.6 642.6,57.6 642.8,57.1 643.1,50.9 643.4,53.6 643.7,48.4 643.9,58.4 644.2,53.2 644.5,52.6 644.8,47.1 645.0,59.0 645.3,55.1 645.6,53.3 645.9,50.9 646.1,53.9 646.4,60.5 646.7,50.6 647.0,49.9 647.2,48.6 647.5,43.7 647.8,46.3 648.1,48.1 648.3,54.3 648.6,59.2 648.9,48.8 649.2,48.7 649.4,48.0 649.7,45.4 650.0,48.0 650.2,52.3 650.5,51.7 650.8,50.1 651.1,52.9 651.3,56.7 651.6,54.8 651.9,54.1 652.2,53.4 652.4,52.4 652.7,48.3 653.0,59.6 653.3,59.7 653.5,59.3 653.8,64.5 654.1,59.9 654.4,53.6 654.6,66.3 654.9,68.1 655.2,60.7 655.5,60.9 655.7,59.7 656.0,63.1 656.3,53.7 656.6,59.2 656.8,60.3 657.1,59.8 657.4,59.7 657.7,61.5 657.9,59.2 658.2,62.8 658.5,62.3 658.8,59.9 659.0,56.7 659.3,51.6 659.6,59.0 659.8,65.8 660.1,60.6 660.4,59.0 660.7,64.9 660.9,61.8 661.2,64.4 661.5,60.7 661.8,65.1 662.0,62.8 662.3,62.5 662.6,62.1 662.9,60.7 663.1,57.5 663.4,60.7 663.7,58.7 664.0,65.0 664.2,61.3 664.5,57.3 664.8,54.9 665.1,60.3 665.3,57.6 665.6,58.9 665.9,60.4 666.2,58.0 666.4,60.9 666.7,59.4 667.0,60.5 667.3,58.8 667.5,62.5 667.8,58.7 668.1,60.1 668.4,60.1 668.6,58.7 668.9,65.7 669.2,65.6 669.4,56.9 669.7,56.6 670.0,66.3 670.3,50.2 670.5,57.9 670.8,51.2 671.1,53.3 671.4,51.5 671.6,54.2 671.9,54.5 672.2,56.5 672.5,57.8 672.7,56.2 673.0,51.4 673.3,57.8 673.6,59.5 673.8,55.4 674.1,57.2 674.4,56.4 674.7,54.7 674.9,51.0 675.2,53.0 675.5,51.4 675.8,47.4 676.0,50.0 676.3,48.6 676.6,54.4 676.9,52.1 677.1,60.2 677.4,65.8 677.7,68.8 678.0,54.3 678.2,57.5 678.5,59.1" fill="none" stroke="#5684a3" stroke-width="0.8" stroke-linejoin="round"/><rect x="404.5" y="18.5" width="274" height="177" fill="none" stroke="#5a5a5a" stroke-width="1.0"/><line x1="402" y1="173.75" x2="404.5" y2="173.75" stroke="#444" stroke-width="0.6"/><text x="401.7" y="173.75" font-family='"Liberation Sans", sans-serif' font-size="5.4" font-weight="normal" fill="#222" text-anchor="end" dominant-baseline="central">0.5</text><line x1="678.5" y1="173.75" x2="681" y2="173.75" stroke="#b43a62" stroke-width="0.6"/><text x="681.3" y="173.75" font-family='"Liberation Sans", sans-serif' font-size="5.4" font-weight="normal" fill="#b43a62" text-anchor="start" dominant-baseline="central">0.5</text><line x1="402" y1="152" x2="404.5" y2="152" stroke="#444" stroke-width="0.6"/><text x="401.7" y="152" font-family='"Liberation Sans", sans-serif' font-size="5.4" font-weight="normal" fill="#222" text-anchor="end" dominant-baseline="central">1.0</text><line x1="678.5" y1="152" x2="681" y2="152" stroke="#b43a62" stroke-width="0.6"/><text x="681.3" y="152" font-family='"Liberation Sans", sans-serif' font-size="5.4" font-weight="normal" fill="#b43a62" text-anchor="start" dominant-baseline="central">1.0</text><line x1="402" y1="130.25" x2="404.5" y2="130.25" stroke="#444" stroke-width="0.6"/><text x="401.7" y="130.25" font-family='"Liberation Sans", sans-serif' font-size="5.4" font-weight="normal" fill="#222" text-anchor="end" dominant-baseline="central">1.5</text><line x1="678.5" y1="130.25" x2="681" y2="130.25" stroke="#b43a62" stroke-width="0.6"/><text x="681.3" y="130.25" font-family='"Liberation Sans", sans-serif' font-size="5.4" font-weight="normal" fill="#b43a62" text-anchor="start" dominant-baseline="central">1.5</text><line x1="402" y1="108.5" x2="404.5" y2="108.5" stroke="#444" stroke-width="0.6"/><text x="401.7" y="108.5" font-family='"Liberation Sans", sans-serif' font-size="5.4" font-weight="normal" fill="#222" text-anchor="end" dominant-baseline="central">2.0</text><line x1="678.5" y1="108.5" x2="681" y2="108.5" stroke="#b43a62" stroke-width="0.6"/><text x="681.3" y="108.5" font-family='"Liberation Sans", sans-serif' font-size="5.4" font-weight="normal" fill="#b43a62" text-anchor="start" dominant-baseline="central">2.0</text><line x1="402" y1="86.75" x2="404.5" y2="86.75" stroke="#444" stroke-width="0.6"/><text x="401.7" y="86.75" font-family='"Liberation Sans", sans-serif' font-size="5.4" font-weight="normal" fill="#222" text-anchor="end" dominant-baseline="central">2.5</text><line x1="678.5" y1="86.75" x2="681" y2="86.75" stroke="#b43a62" stroke-width="0.6"/><text x="681.3" y="86.75" font-family='"Liberation Sans", sans-serif' font-size="5.4" font-weight="normal" fill="#b43a62" text-anchor="start" dominant-baseline="central">2.5</text><line x1="402" y1="65" x2="404.5" y2="65" stroke="#444" stroke-width="0.6"/><text x="401.7" y="65" font-family='"Liberation Sans", sans-serif' font-size="5.4" font-weight="normal" fill="#222" text-anchor="end" dominant-baseline="central">3.0</text><line x1="678.5" y1="65" x2="681" y2="65" stroke="#b43a62" stroke-width="0.6"/><text x="681.3" y="65" font-family='"Liberation Sans", sans-serif' font-size="5.4" font-weight="normal" fill="#b43a62" text-anchor="start" dominant-baseline="central">3.0</text><line x1="402" y1="43.25" x2="404.5" y2="43.25" stroke="#444" stroke-width="0.6"/><text x="401.7" y="43.25" font-family='"Liberation Sans", sans-serif' font-size="5.4" font-weight="normal" fill="#222" text-anchor="end" dominant-baseline="central">3.5</text><line x1="678.5" y1="43.25" x2="681" y2="43.25" stroke="#b43a62" stroke-width="0.6"/><text x="681.3" y="43.25" font-family='"Liberation Sans", sans-serif' font-size="5.4" font-weight="normal" fill="#b43a62" text-anchor="start" dominant-baseline="central">3.5</text><line x1="402" y1="21.5" x2="404.5" y2="21.5" stroke="#444" stroke-width="0.6"/><text x="401.7" y="21.5" font-family='"Liberation Sans", sans-serif' font-size="5.4" font-weight="normal" fill="#222" text-anchor="end" dominant-baseline="central">4.0</text><line x1="678.5" y1="21.5" x2="681" y2="21.5" stroke="#b43a62" stroke-width="0.6"/><text x="681.3" y="21.5" font-family='"Liberation Sans", sans-serif' font-size="5.4" font-weight="normal" fill="#b43a62" text-anchor="start" dominant-baseline="central">4.0</text><line x1="404.5" y1="195.5" x2="404.5" y2="198" stroke="#444" stroke-width="0.6"/><text x="404.5" y="200.4" font-family='"Liberation Sans", sans-serif' font-size="5.2" font-weight="normal" fill="#222" text-anchor="middle" dominant-baseline="central">0</text><line x1="459.3" y1="195.5" x2="459.3" y2="198" stroke="#444" stroke-width="0.6"/><text x="459.3" y="200.4" font-family='"Liberation Sans", sans-serif' font-size="5.2" font-weight="normal" fill="#222" text-anchor="middle" dominant-baseline="central">20</text><line x1="514.1" y1="195.5" x2="514.1" y2="198" stroke="#444" stroke-width="0.6"/><text x="514.1" y="200.4" font-family='"Liberation Sans", sans-serif' font-size="5.2" font-weight="normal" fill="#222" text-anchor="middle" dominant-baseline="central">40</text><line x1="568.9" y1="195.5" x2="568.9" y2="198" stroke="#444" stroke-width="0.6"/><text x="568.9" y="200.4" font-family='"Liberation Sans", sans-serif' font-size="5.2" font-weight="normal" fill="#222" text-anchor="middle" dominant-baseline="central">60</text><line x1="623.7" y1="195.5" x2="623.7" y2="198" stroke="#444" stroke-width="0.6"/><text x="623.7" y="200.4" font-family='"Liberation Sans", sans-serif' font-size="5.2" font-weight="normal" fill="#222" text-anchor="middle" dominant-baseline="central">80</text><line x1="678.5" y1="195.5" x2="678.5" y2="198" stroke="#444" stroke-width="0.6"/><text x="678.5" y="200.4" font-family='"Liberation Sans", sans-serif' font-size="5.2" font-weight="normal" fill="#222" text-anchor="middle" dominant-baseline="central">100</text><text x="541.3" y="207.8" font-family='"Liberation Sans", sans-serif' font-size="8.8" font-weight="normal" fill="#222" text-anchor="middle" dominant-baseline="central" textLength="41.5" lengthAdjust="spacingAndGlyphs">Time (nsec)</text><text x="387.9" y="106.8" font-family='"Liberation Sans", sans-serif' font-size="8.4" font-weight="normal" fill="#222" text-anchor="middle" dominant-baseline="central" transform="rotate(-90 387.9 106.8)" textLength="60.4" lengthAdjust="spacingAndGlyphs">Protein RMSD (Å)</text><text x="693.5" y="107.7" font-family='"Liberation Sans", sans-serif' font-size="8.4" font-weight="normal" fill="#b43a62" text-anchor="middle" dominant-baseline="central" transform="rotate(90 693.5 107.7)" textLength="59.4" lengthAdjust="spacingAndGlyphs">Ligand RMSD (Å)</text><rect x="513.1" y="5" width="7.6" height="2.6" fill="#4f7c9c"/><text x="521" y="6.3" font-family='"Liberation Sans", sans-serif' font-size="3.8" font-weight="normal" fill="#333" text-anchor="start" dominant-baseline="central">Cα</text><rect x="527.3" y="5" width="7.7" height="2.6" fill="#b4345e"/><text x="535.3" y="6.3" font-family='"Liberation Sans", sans-serif' font-size="3.8" font-weight="normal" fill="#333" text-anchor="start" dominant-baseline="central" textLength="31.5" lengthAdjust="spacingAndGlyphs">Lig) fit on Prot</text><text x="381.5" y="17.1" font-family='"Liberation Serif", serif' font-size="17" font-weight="bold" fill="#111" text-anchor="start" dominant-baseline="auto" stroke="#111" stroke-width="0.35">B</text><polyline points="43.6,380.0 44.4,392.6 44.8,395.5 45.3,403.5 45.8,412.9 46.1,403.4 46.6,397.5 47.0,401.3 47.8,409.2 48.2,415.2 48.7,419.2 49.5,422.2 49.9,421.2 50.4,422.7 51.2,417.1 51.8,415.1 52.1,418.1 52.9,418.5 53.8,407.0 54.1,404.4 54.6,393.1 55.5,373.4 56.3,357.8 56.6,351.7 57.2,360.0 57.8,372.1 58.0,380.3 58.9,398.8 59.0,398.2 59.7,414.4 60.6,423.8 60.9,428.9 61.4,427.7 62.3,422.3 62.5,422.8 63.1,412.4 64.0,401.6 64.2,402.1 64.8,395.9 65.7,387.7 66.1,385.0 66.5,384.7 67.4,388.7 68.1,388.2 68.2,391.8 69.1,403.6 69.7,412.5 69.9,414.0 70.8,427.7 71.6,436.1 71.7,437.1 72.5,436.9 73.3,432.7 74.2,427.3 75.0,418.4 75.7,410.2 75.9,411.1 76.7,405.2 77.6,403.8 78.1,399.9 78.4,405.5 79.3,409.6 80.1,411.3 81.0,419.6 81.7,421.1 81.8,424.2 82.7,427.0 83.5,430.2 84.1,434.9 84.4,436.9 85.2,437.3 86.0,436.4 86.9,439.1 87.7,439.8 88.6,440.4 89.4,439.9 90.3,440.3 91.1,441.2 91.3,439.0 92.0,436.0 92.8,434.6 93.0,431.0 93.7,432.2 94.5,434.0 95.0,440.2 95.4,438.6 96.2,438.9 97.1,439.5 97.9,442.5 98.6,441.5 98.8,442.5 99.6,440.5 100.5,439.6 101.3,437.0 102.2,436.4 103.0,428.5 103.9,422.0 104.6,414.3 104.7,412.2 105.6,404.7 106.4,395.5 106.6,392.8 107.3,401.5 108.1,413.4 108.3,413.1 109.0,420.1 109.8,426.0 110.7,435.3 111.4,440.9 111.5,440.9 112.4,440.1 113.0,437.8 113.2,435.3 114.1,421.4 114.3,415.5 114.9,424.6 115.5,431.6 115.8,432.3 116.6,429.7 117.5,432.7 117.9,432.6 118.3,433.7 119.2,432.5 120.0,434.1 120.9,434.2 121.5,436.3 121.7,434.9 122.6,428.1 122.7,426.5 123.4,421.7 124.3,409.0 124.4,407.0 125.1,406.7 126.0,417.1 126.4,419.0 126.8,425.0 127.7,433.2 128.1,438.3 128.5,439.8 129.3,436.7 130.2,435.2 131.0,438.1 131.2,436.6 131.9,439.3 132.7,442.0 133.6,443.9 134.4,442.4 135.3,442.6 136.0,439.9 136.1,439.0 137.0,443.0 137.8,444.0 138.4,445.6 138.7,443.7 139.5,444.0 140.4,442.1 140.8,443.7 141.2,445.6 142.1,443.3 142.9,445.1 143.8,443.7 144.5,444.7 144.6,449.0 145.5,445.9 146.3,441.0 146.8,440.8 147.2,444.1 148.0,444.7 148.9,445.2 149.2,447.3 149.7,449.4 150.6,447.8 151.4,446.7 151.7,448.4 152.3,443.2 153.1,443.2 154.0,435.8 154.1,436.2 154.8,437.3 155.7,437.4 156.5,437.3 157.4,435.9 158.2,430.5 158.5,429.2 159.1,422.8 159.9,413.4 160.1,411.6 160.8,418.8 161.4,423.5 161.6,425.4 162.5,425.1 163.1,428.8 163.3,428.1 164.2,436.0 165.0,438.8 165.9,437.7 166.7,436.9 167.4,436.8 167.6,437.8 168.4,433.1 169.3,428.9 169.8,424.6 170.1,419.8 170.9,416.4 171.7,404.9 171.8,408.3 172.6,401.7 173.1,395.9 173.5,395.3 174.3,398.3 175.2,398.2 175.5,393.9 176.0,403.0 176.7,406.9 176.9,408.3 177.7,410.3 178.4,410.6 178.6,413.2 179.4,418.0 180.3,420.7 180.8,425.5 181.1,426.1 182.0,425.4 182.8,427.3 183.3,429.5 183.7,431.3 184.5,435.9 185.4,438.4 185.7,440.8 186.2,442.9 187.1,437.4 187.9,436.0 188.8,433.6 188.9,436.5 189.6,427.7 190.5,423.8 191.3,418.6 191.8,413.5 192.2,413.3 193.0,418.1 193.9,423.1 194.7,430.6 195.0,430.3 195.6,430.9 196.4,435.2 197.3,435.2 197.4,437.8 198.1,439.1 199.0,445.4 199.8,446.7 200.2,449.2 200.7,449.9 201.5,446.1 202.4,446.2 202.6,444.2 203.2,445.6 204.1,443.6 204.9,445.1 205.1,442.3 205.8,444.1 206.6,444.5 207.5,447.6 208.3,446.6 209.2,442.9 210.0,437.2 210.6,439.7 210.9,436.8 211.7,437.2 212.6,440.3 213.0,440.0 213.4,438.8 214.2,442.7 214.7,443.8 215.1,438.4 215.9,426.1 216.4,420.7 216.8,412.5 217.6,401.2 218.3,389.8 218.5,391.8 219.3,389.3 220.2,394.1 221.0,405.0 221.9,416.7 222.7,408.3 223.6,397.6 224.4,407.5 225.3,420.6 225.5,421.4 226.1,420.2 227.0,413.6 227.2,408.9 227.8,410.8 228.7,415.8 229.5,423.0 230.4,432.9 231.2,422.3 231.6,419.8 232.1,418.3 232.8,423.0 232.9,419.5 233.8,401.8 234.0,398.4 234.6,402.9 235.5,416.7 235.6,416.5 236.3,416.1 237.2,413.6 237.6,414.9 238.0,419.6 238.9,431.9 239.5,440.1 239.7,441.2 240.6,442.2 241.2,446.6 241.4,443.0 242.3,442.7 243.1,441.5 243.6,439.2 244.0,436.5 244.8,438.5 245.7,436.6 246.1,439.4 246.5,434.9 247.4,430.9 248.2,427.8 248.5,426.3 249.1,420.9 249.7,414.0 249.9,415.8 250.8,420.6 250.8,422.0 251.6,405.2 252.0,398.1 252.5,404.6 253.3,424.6 254.0,435.2 254.2,435.5 255.0,425.7 255.7,417.0 255.8,415.3 256.7,409.6 257.5,402.7 258.4,407.3 259.2,414.7 259.8,421.3 260.1,423.6 260.9,433.3 261.2,434.4 261.8,431.4 262.6,426.2 263.5,421.4 264.1,418.6 264.3,411.2 265.2,394.9 266.0,381.4 266.5,370.1 266.9,372.9 267.7,381.6 268.2,385.6 268.6,387.8 269.4,391.6 270.1,397.5 270.3,397.5 271.1,405.2 272.0,414.9 272.8,423.9 273.3,430.1 273.7,416.8 274.5,395.6 275.0,383.1 275.4,381.7 276.2,370.1 276.8,366.9 277.1,371.7 277.9,389.0 278.5,403.5 278.8,404.5 279.6,405.0 280.5,404.1 281.3,410.8 282.2,418.0 283.0,414.3 283.9,408.5 284.5,402.7 284.7,399.8 285.6,388.1 286.4,374.4 286.5,371.1 287.3,364.5 288.1,359.2 288.6,356.9 289.0,357.0 289.8,369.1 290.1,371.4 290.7,367.2 291.3,357.3 291.5,356.6 292.4,355.9 292.4,357.6 293.2,389.6 293.6,407.0 294.1,397.5 294.8,382.6 294.9,384.7 295.8,407.5 296.1,414.1 296.6,402.8 297.5,383.8 297.8,377.4 298.3,382.8 299.1,393.7 299.7,394.8 300.0,402.7 300.8,417.9 301.4,428.4 301.7,427.8 302.5,428.0 303.3,428.1 303.4,428.9 304.2,428.5 304.5,428.7 305.1,426.5 305.9,421.0 306.2,419.2 306.8,421.5 307.4,422.1 307.6,420.1 308.5,403.6 308.6,406.5 309.3,405.2 310.2,403.5 310.3,403.5 311.0,380.6 311.9,355.1 312.2,349.1 312.7,320.1 313.4,282.2" fill="none" stroke="#3e6e96" stroke-width="1.25" stroke-linejoin="round"/><rect x="43.5" y="268.5" width="270" height="201" fill="none" stroke="#1e1e1e" stroke-width="1.25"/><line x1="39.8" y1="448.5" x2="43.6" y2="448.5" stroke="#333" stroke-width="0.7"/><text x="38.3" y="448.5" font-family='"Liberation Sans", sans-serif' font-size="7.5" font-weight="normal" fill="#222" text-anchor="end" dominant-baseline="central">0.6</text><line x1="39.8" y1="427.5" x2="43.6" y2="427.5" stroke="#333" stroke-width="0.7"/><text x="38.3" y="427.5" font-family='"Liberation Sans", sans-serif' font-size="7.5" font-weight="normal" fill="#222" text-anchor="end" dominant-baseline="central">1.2</text><line x1="39.8" y1="406.5" x2="43.6" y2="406.5" stroke="#333" stroke-width="0.7"/><text x="38.3" y="406.5" font-family='"Liberation Sans", sans-serif' font-size="7.5" font-weight="normal" fill="#222" text-anchor="end" dominant-baseline="central">1.8</text><line x1="39.8" y1="385.5" x2="43.6" y2="385.5" stroke="#333" stroke-width="0.7"/><text x="38.3" y="385.5" font-family='"Liberation Sans", sans-serif' font-size="7.5" font-weight="normal" fill="#222" text-anchor="end" dominant-baseline="central">2.4</text><line x1="39.8" y1="364.5" x2="43.6" y2="364.5" stroke="#333" stroke-width="0.7"/><text x="38.3" y="364.5" font-family='"Liberation Sans", sans-serif' font-size="7.5" font-weight="normal" fill="#222" text-anchor="end" dominant-baseline="central">3.0</text><line x1="39.8" y1="343.5" x2="43.6" y2="343.5" stroke="#333" stroke-width="0.7"/><text x="38.3" y="343.5" font-family='"Liberation Sans", sans-serif' font-size="7.5" font-weight="normal" fill="#222" text-anchor="end" dominant-baseline="central">3.6</text><line x1="39.8" y1="322.5" x2="43.6" y2="322.5" stroke="#333" stroke-width="0.7"/><text x="38.3" y="322.5" font-family='"Liberation Sans", sans-serif' font-size="7.5" font-weight="normal" fill="#222" text-anchor="end" dominant-baseline="central">4.2</text><line x1="39.8" y1="301.5" x2="43.6" y2="301.5" stroke="#333" stroke-width="0.7"/><text x="38.3" y="301.5" font-family='"Liberation Sans", sans-serif' font-size="7.5" font-weight="normal" fill="#222" text-anchor="end" dominant-baseline="central">4.8</text><line x1="39.8" y1="280.5" x2="43.6" y2="280.5" stroke="#333" stroke-width="0.7"/><text x="38.3" y="280.5" font-family='"Liberation Sans", sans-serif' font-size="7.5" font-weight="normal" fill="#222" text-anchor="end" dominant-baseline="central">5.4</text><line x1="43.6" y1="469.5" x2="43.6" y2="473.3" stroke="#333" stroke-width="0.7"/><text x="43.6" y="477.6" font-family='"Liberation Sans", sans-serif' font-size="7.5" font-weight="normal" fill="#222" text-anchor="middle" dominant-baseline="central">0</text><line x1="86.05" y1="469.5" x2="86.05" y2="473.3" stroke="#333" stroke-width="0.7"/><text x="86.05" y="477.6" font-family='"Liberation Sans", sans-serif' font-size="7.5" font-weight="normal" fill="#222" text-anchor="middle" dominant-baseline="central">50</text><line x1="128.5" y1="469.5" x2="128.5" y2="473.3" stroke="#333" stroke-width="0.7"/><text x="128.5" y="477.6" font-family='"Liberation Sans", sans-serif' font-size="7.5" font-weight="normal" fill="#222" text-anchor="middle" dominant-baseline="central">100</text><line x1="170.95" y1="469.5" x2="170.95" y2="473.3" stroke="#333" stroke-width="0.7"/><text x="170.95" y="477.6" font-family='"Liberation Sans", sans-serif' font-size="7.5" font-weight="normal" fill="#222" text-anchor="middle" dominant-baseline="central">150</text><line x1="213.4" y1="469.5" x2="213.4" y2="473.3" stroke="#333" stroke-width="0.7"/><text x="213.4" y="477.6" font-family='"Liberation Sans", sans-serif' font-size="7.5" font-weight="normal" fill="#222" text-anchor="middle" dominant-baseline="central">200</text><line x1="255.85" y1="469.5" x2="255.85" y2="473.3" stroke="#333" stroke-width="0.7"/><text x="255.85" y="477.6" font-family='"Liberation Sans", sans-serif' font-size="7.5" font-weight="normal" fill="#222" text-anchor="middle" dominant-baseline="central">250</text><line x1="298.3" y1="469.5" x2="298.3" y2="473.3" stroke="#333" stroke-width="0.7"/><text x="298.3" y="477.6" font-family='"Liberation Sans", sans-serif' font-size="7.5" font-weight="normal" fill="#222" text-anchor="middle" dominant-baseline="central">300</text><text x="178.2" y="489.6" font-family='"Liberation Sans", sans-serif' font-size="11.6" font-weight="normal" fill="#111" text-anchor="middle" dominant-baseline="central" textLength="83.7" lengthAdjust="spacingAndGlyphs">Residue Index</text><text x="16.6" y="367.5" font-family='"Liberation Sans", sans-serif' font-size="12.4" font-weight="normal" fill="#111" text-anchor="middle" dominant-baseline="central" transform="rotate(-90 16.6 367.5)" textLength="53" lengthAdjust="spacingAndGlyphs">RMSF (Å)</text><rect x="154.3" y="250.3" width="13.3" height="5.4" fill="#4a7796"/><text x="167.8" y="253.2" font-family='"Liberation Sans", sans-serif' font-size="6.8" font-weight="normal" fill="#111" text-anchor="start" dominant-baseline="central" textLength="31.2" lengthAdjust="spacingAndGlyphs">C-alphas</text><text x="23.2" y="255.8" font-family='"Liberation Serif", serif' font-size="17.5" font-weight="bold" fill="#111" text-anchor="start" dominant-baseline="auto" stroke="#111" stroke-width="0.35">C</text><line x1="414.14" y1="462.4" x2="414.14" y2="419.74" stroke="#2a9a2a" stroke-width="0.9"/><line x1="414.57" y1="462.4" x2="414.57" y2="416.19" stroke="#2a9a2a" stroke-width="0.9"/><line x1="415" y1="462.4" x2="415" y2="412.49" stroke="#2a9a2a" stroke-width="0.9"/><line x1="415.43" y1="462.4" x2="415.43" y2="408.78" stroke="#2a9a2a" stroke-width="0.9"/><line x1="415.86" y1="462.4" x2="415.86" y2="405.39" stroke="#2a9a2a" stroke-width="0.9"/><line x1="416.28" y1="462.4" x2="416.28" y2="400.57" stroke="#2a9a2a" stroke-width="0.9"/><line x1="419.28" y1="462.4" x2="419.28" y2="410.24" stroke="#2a9a2a" stroke-width="0.9"/><line x1="420.74" y1="462.4" x2="420.74" y2="423.91" stroke="#2a9a2a" stroke-width="0.9"/><line x1="422.28" y1="462.4" x2="422.28" y2="431.16" stroke="#2a9a2a" stroke-width="0.9"/><line x1="423.56" y1="462.4" x2="423.56" y2="430.31" stroke="#2a9a2a" stroke-width="0.9"/><line x1="432.29" y1="462.4" x2="432.29" y2="438.36" stroke="#2a9a2a" stroke-width="0.9"/><line x1="434.52" y1="462.4" x2="434.52" y2="427.33" stroke="#2a9a2a" stroke-width="0.9"/><line x1="474.32" y1="462.4" x2="474.32" y2="438.36" stroke="#2a9a2a" stroke-width="0.9"/><line x1="474.75" y1="462.4" x2="474.75" y2="437.85" stroke="#2a9a2a" stroke-width="0.9"/><line x1="475.18" y1="462.4" x2="475.18" y2="436.22" stroke="#2a9a2a" stroke-width="0.9"/><line x1="475.6" y1="462.4" x2="475.6" y2="435.69" stroke="#2a9a2a" stroke-width="0.9"/><line x1="476.03" y1="462.4" x2="476.03" y2="435.9" stroke="#2a9a2a" stroke-width="0.9"/><line x1="476.46" y1="462.4" x2="476.46" y2="435.45" stroke="#2a9a2a" stroke-width="0.9"/><line x1="476.89" y1="462.4" x2="476.89" y2="434.57" stroke="#2a9a2a" stroke-width="0.9"/><line x1="477.32" y1="462.4" x2="477.32" y2="434.07" stroke="#2a9a2a" stroke-width="0.9"/><line x1="477.74" y1="462.4" x2="477.74" y2="431.89" stroke="#2a9a2a" stroke-width="0.9"/><line x1="480.91" y1="462.4" x2="480.91" y2="423.28" stroke="#2a9a2a" stroke-width="0.9"/><line x1="515.58" y1="462.4" x2="515.58" y2="442.74" stroke="#2a9a2a" stroke-width="0.9"/><line x1="516.44" y1="462.4" x2="516.44" y2="432.66" stroke="#2a9a2a" stroke-width="0.9"/><line x1="517.29" y1="462.4" x2="517.29" y2="417.63" stroke="#2a9a2a" stroke-width="0.9"/><line x1="517.98" y1="462.4" x2="517.98" y2="420.37" stroke="#2a9a2a" stroke-width="0.9"/><line x1="518.58" y1="462.4" x2="518.58" y2="424.62" stroke="#2a9a2a" stroke-width="0.9"/><line x1="519.26" y1="462.4" x2="519.26" y2="427.47" stroke="#2a9a2a" stroke-width="0.9"/><line x1="520.97" y1="462.4" x2="520.97" y2="429.72" stroke="#2a9a2a" stroke-width="0.9"/><line x1="527.22" y1="462.4" x2="527.22" y2="427.9" stroke="#2a9a2a" stroke-width="0.9"/><line x1="528.08" y1="462.4" x2="528.08" y2="428.08" stroke="#2a9a2a" stroke-width="0.9"/><line x1="529.96" y1="462.4" x2="529.96" y2="430.53" stroke="#2a9a2a" stroke-width="0.9"/><line x1="530.39" y1="462.4" x2="530.39" y2="431.36" stroke="#2a9a2a" stroke-width="0.9"/><polyline points="404.3,402.6 405.2,413.4 405.9,421.8 406.0,420.7 406.9,417.6 407.5,415.5 407.7,419.0 408.6,428.3 408.8,429.6 409.4,426.9 410.3,420.6 410.9,417.7 411.1,417.8 412.0,414.4 412.3,413.3 412.9,416.8 413.7,422.0 413.9,421.9 414.6,416.2 415.4,408.8 415.9,405.4 416.3,400.6 417.1,387.6 417.5,381.6 418.0,392.6 418.9,405.3 419.7,415.1 420.6,423.1 420.9,424.7 421.4,427.9 422.3,431.2 422.9,432.8 423.1,432.0 424.0,428.7 424.8,424.1 424.9,422.0 425.7,416.4 426.6,409.5 426.9,406.7 427.4,406.5 428.3,407.0 428.9,408.6 429.1,410.4 430.0,420.9 430.8,429.5 430.9,432.3 431.7,434.3 432.5,440.1 433.4,433.4 434.3,428.9 434.9,424.7 435.1,422.6 436.0,421.4 436.8,417.8 437.7,415.4 437.9,413.6 438.5,410.6 439.4,408.5 439.9,403.3 440.3,401.4 441.1,391.3 442.0,384.7 442.3,381.5 442.8,390.8 443.7,397.4 443.9,402.0 444.5,404.0 445.4,403.5 445.5,402.7 446.2,408.4 447.1,409.5 448.0,414.2 448.8,416.7 449.7,418.9 450.5,421.6 451.0,421.9 451.4,423.6 452.2,426.3 452.9,428.7 453.1,429.3 453.9,423.3 454.5,421.9 454.8,422.4 455.7,431.0 455.9,432.6 456.5,432.3 457.4,434.7 458.2,434.7 458.9,437.3 459.1,436.8 459.9,436.2 460.8,435.9 461.7,438.8 462.5,437.0 463.4,438.7 463.5,437.1 464.2,435.6 465.1,431.1 465.9,425.7 466.8,415.3 467.6,402.5 468.5,390.9 469.4,400.1 470.2,411.4 470.9,421.1 471.1,422.2 471.9,427.4 472.8,433.8 473.6,439.3 473.9,437.2 474.5,438.8 475.3,435.6 476.2,436.0 476.9,434.6 477.1,435.4 477.9,431.0 478.8,430.8 479.6,427.2 479.9,428.8 480.5,424.9 481.3,421.7 481.9,422.2 482.2,421.3 483.1,425.5 483.5,427.1 483.9,424.1 484.8,420.0 484.9,418.8 485.6,417.9 486.5,413.6 487.3,411.0 487.5,410.9 488.2,417.7 489.0,424.4 489.5,425.0 489.9,429.3 490.8,429.3 491.6,430.6 491.9,428.7 492.5,429.6 493.3,431.8 493.9,432.4 494.2,434.4 495.0,433.2 495.9,435.9 496.7,436.4 497.6,439.1 497.9,441.8 498.5,439.7 499.3,440.7 499.9,440.3 500.2,440.4 501.0,440.5 501.9,440.9 502.7,440.3 502.9,438.7 503.6,440.0 504.5,440.0 505.3,438.0 505.9,438.4 506.2,437.6 507.0,435.6 507.9,433.8 508.7,433.1 508.9,432.3 509.6,433.0 510.4,436.3 511.0,437.5 511.3,437.2 512.2,437.6 513.0,438.8 513.9,438.5 514.0,439.1 514.7,442.3 515.6,442.7 516.4,432.7 517.3,417.6 517.5,416.7 518.1,421.8 519.0,427.4 519.9,427.6 520.7,428.4 521.0,429.7 521.6,425.9 522.4,421.8 523.3,417.9 523.7,417.1 524.1,418.4 525.0,426.1 525.9,429.9 526.7,427.5 527.6,428.2 528.4,428.0 528.7,428.7 529.3,429.6 530.1,430.8 531.0,432.7 531.6,434.5 531.8,430.9 532.7,428.4 533.6,428.6 534.4,425.4 535.3,411.1 535.9,398.5 536.1,385.8 537.0,336.1 537.3,317.8 537.8,314.7 538.2,310.1 538.7,311.6 538.9,313.9 539.4,304.9 539.5,311.4 540.2,337.8 540.4,337.1 541.3,339.1 541.7,343.1 542.1,349.1 543.0,368.5 543.8,384.9 544.0,389.6 544.7,396.8 545.5,407.7 546.1,414.2 546.4,418.2 547.3,431.1 547.5,435.4 548.1,437.7 549.0,441.6 549.8,438.6 550.7,437.4 551.5,434.2 551.8,434.7 552.4,429.2 553.2,423.5 554.1,417.2 554.7,412.1 555.0,414.0 555.8,420.1 556.7,419.6 557.5,424.1 557.6,423.8 558.4,427.7 559.2,428.8 560.1,430.9 560.4,434.8 560.9,433.7 561.8,438.2 562.7,440.5 563.3,441.8 563.5,440.1 564.4,444.5 565.2,444.4 566.1,444.6 566.3,444.2 566.9,444.7 567.8,443.9 568.7,444.9 569.5,443.0 570.4,442.4 570.5,444.3 571.2,442.3 572.1,439.1 572.9,437.0 573.4,435.6 573.8,436.8 574.6,435.3 575.5,434.6 576.4,432.1 577.2,431.6 578.1,430.1 578.9,428.6 579.2,427.3 579.8,422.4 580.6,419.5 581.2,414.1 581.5,414.1 582.3,413.9 583.2,416.2 583.5,416.0 584.1,419.0 584.9,423.2 585.8,426.2 586.5,427.9 586.6,427.6 587.5,430.1 588.3,432.4 589.2,432.5 589.4,436.7 590.1,435.2 590.9,431.7 591.8,433.2 592.2,433.9 592.6,434.1 593.5,431.7 594.3,431.3 594.5,431.1 595.2,427.6 596.0,419.6 596.6,416.0 596.9,416.8 597.8,422.4 598.6,424.0 599.5,424.2 600.3,427.9 600.8,426.5 601.2,426.9 602.0,430.7 602.9,434.6 603.7,437.4 604.6,439.3 605.5,439.9 606.3,442.3 606.7,441.8 607.2,441.6 608.0,440.4 608.9,436.0 609.6,437.7 609.7,434.0 610.6,435.4 611.5,430.3 612.3,428.8 613.0,428.7 613.2,428.3 614.0,431.4 614.9,434.1 615.3,433.7 615.7,435.0 616.6,434.4 617.4,430.4 618.2,429.9 618.3,430.0 619.2,427.2 620.0,423.3 620.9,420.5 621.1,420.1 621.7,421.8 622.6,422.0 623.4,423.5 624.0,425.6 624.3,422.5 625.1,422.4 626.0,419.7 626.9,415.9 627.7,411.1 628.6,405.3 629.2,401.8 629.4,396.7 630.3,384.2 631.1,368.8 631.2,367.6 632.0,374.4 632.9,377.8 633.5,384.2 633.7,384.1 634.6,379.5 635.0,379.3 635.4,385.9 636.3,402.5 636.4,408.6 637.1,412.1 637.9,419.8 638.0,417.6 638.8,405.0 639.3,399.2 639.7,395.1 640.6,384.9 641.3,375.6 641.4,375.2 642.3,385.9 642.8,392.4 643.1,389.9 644.0,389.3 644.8,385.0 645.7,395.1 646.5,404.2 647.4,398.4 648.3,390.1 648.6,385.4 649.1,393.0 650.0,404.6 650.1,407.8 650.8,399.1 651.7,387.7 652.0,384.8 652.5,384.6 653.4,385.7 654.3,386.0 654.3,385.3 655.1,388.6 655.8,391.8 656.0,394.2 656.8,400.2 657.2,404.6 657.7,406.6 658.5,410.4 659.2,412.0 659.4,411.6 660.2,414.6 661.1,418.4 661.5,419.4 662.0,418.7 662.8,413.1 663.6,411.3 663.7,412.6 664.5,419.8 665.4,428.6 665.9,433.0 666.2,432.4 667.1,435.8 667.9,436.6 668.7,437.7 668.8,437.7 669.7,438.5 670.2,440.9 670.5,439.3 671.4,439.7 672.2,433.7 672.5,433.0 673.1,429.3 673.9,424.9 674.5,422.0 674.8,411.6 675.7,382.0 676.0,369.6 676.5,341.3 677.4,292.7 677.8,267.9" fill="none" stroke="#4d7a9a" stroke-width="0.8" stroke-linejoin="round"/><rect x="404.5" y="268.5" width="274" height="194" fill="none" stroke="#5a5a5a" stroke-width="1.0"/><line x1="401.8" y1="438.16" x2="404.3" y2="438.16" stroke="#444" stroke-width="0.6"/><text x="401.5" y="438.16" font-family='"Liberation Sans", sans-serif' font-size="5.3" font-weight="normal" fill="#222" text-anchor="end" dominant-baseline="central">0.8</text><line x1="401.8" y1="413.92" x2="404.3" y2="413.92" stroke="#444" stroke-width="0.6"/><text x="401.5" y="413.92" font-family='"Liberation Sans", sans-serif' font-size="5.3" font-weight="normal" fill="#222" text-anchor="end" dominant-baseline="central">1.6</text><line x1="401.8" y1="389.68" x2="404.3" y2="389.68" stroke="#444" stroke-width="0.6"/><text x="401.5" y="389.68" font-family='"Liberation Sans", sans-serif' font-size="5.3" font-weight="normal" fill="#222" text-anchor="end" dominant-baseline="central">2.4</text><line x1="401.8" y1="365.44" x2="404.3" y2="365.44" stroke="#444" stroke-width="0.6"/><text x="401.5" y="365.44" font-family='"Liberation Sans", sans-serif' font-size="5.3" font-weight="normal" fill="#222" text-anchor="end" dominant-baseline="central">3.2</text><line x1="401.8" y1="341.2" x2="404.3" y2="341.2" stroke="#444" stroke-width="0.6"/><text x="401.5" y="341.2" font-family='"Liberation Sans", sans-serif' font-size="5.3" font-weight="normal" fill="#222" text-anchor="end" dominant-baseline="central">4.0</text><line x1="401.8" y1="316.96" x2="404.3" y2="316.96" stroke="#444" stroke-width="0.6"/><text x="401.5" y="316.96" font-family='"Liberation Sans", sans-serif' font-size="5.3" font-weight="normal" fill="#222" text-anchor="end" dominant-baseline="central">4.8</text><line x1="401.8" y1="292.72" x2="404.3" y2="292.72" stroke="#444" stroke-width="0.6"/><text x="401.5" y="292.72" font-family='"Liberation Sans", sans-serif' font-size="5.3" font-weight="normal" fill="#222" text-anchor="end" dominant-baseline="central">5.6</text><line x1="401.8" y1="268.48" x2="404.3" y2="268.48" stroke="#444" stroke-width="0.6"/><text x="401.5" y="268.48" font-family='"Liberation Sans", sans-serif' font-size="5.3" font-weight="normal" fill="#222" text-anchor="end" dominant-baseline="central">6.4</text><line x1="404.3" y1="462.4" x2="404.3" y2="464.9" stroke="#444" stroke-width="0.6"/><text x="404.3" y="468.2" font-family='"Liberation Sans", sans-serif' font-size="5.2" font-weight="normal" fill="#222" text-anchor="middle" dominant-baseline="central">0</text><line x1="447.1" y1="462.4" x2="447.1" y2="464.9" stroke="#444" stroke-width="0.6"/><text x="447.1" y="468.2" font-family='"Liberation Sans", sans-serif' font-size="5.2" font-weight="normal" fill="#222" text-anchor="middle" dominant-baseline="central">50</text><line x1="489.9" y1="462.4" x2="489.9" y2="464.9" stroke="#444" stroke-width="0.6"/><text x="489.9" y="468.2" font-family='"Liberation Sans", sans-serif' font-size="5.2" font-weight="normal" fill="#222" text-anchor="middle" dominant-baseline="central">100</text><line x1="532.7" y1="462.4" x2="532.7" y2="464.9" stroke="#444" stroke-width="0.6"/><text x="532.7" y="468.2" font-family='"Liberation Sans", sans-serif' font-size="5.2" font-weight="normal" fill="#222" text-anchor="middle" dominant-baseline="central">150</text><line x1="575.5" y1="462.4" x2="575.5" y2="464.9" stroke="#444" stroke-width="0.6"/><text x="575.5" y="468.2" font-family='"Liberation Sans", sans-serif' font-size="5.2" font-weight="normal" fill="#222" text-anchor="middle" dominant-baseline="central">200</text><line x1="618.3" y1="462.4" x2="618.3" y2="464.9" stroke="#444" stroke-width="0.6"/><text x="618.3" y="468.2" font-family='"Liberation Sans", sans-serif' font-size="5.2" font-weight="normal" fill="#222" text-anchor="middle" dominant-baseline="central">250</text><line x1="661.1" y1="462.4" x2="661.1" y2="464.9" stroke="#444" stroke-width="0.6"/><text x="661.1" y="468.2" font-family='"Liberation Sans", sans-serif' font-size="5.2" font-weight="normal" fill="#222" text-anchor="middle" dominant-baseline="central">300</text><text x="540.9" y="476.4" font-family='"Liberation Sans", sans-serif' font-size="8.8" font-weight="normal" fill="#222" text-anchor="middle" dominant-baseline="central" textLength="50.4" lengthAdjust="spacingAndGlyphs">Residue Index</text><text x="387.8" y="365.2" font-family='"Liberation Sans", sans-serif' font-size="8" font-weight="normal" fill="#222" text-anchor="middle" dominant-baseline="central" transform="rotate(-90 387.8 365.2)" textLength="36" lengthAdjust="spacingAndGlyphs">RMSF (Å)</text><rect x="527" y="251.5" width="8" height="4" fill="#4a7796"/><text x="535.3" y="253.6" font-family='"Liberation Sans", sans-serif' font-size="4.4" font-weight="normal" fill="#333" text-anchor="start" dominant-baseline="central" textLength="18.3" lengthAdjust="spacingAndGlyphs">C-alphas</text><text x="382.3" y="255.7" font-family='"Liberation Serif", serif' font-size="17" font-weight="bold" fill="#111" text-anchor="start" dominant-baseline="auto" stroke="#111" stroke-width="0.35">D</text><polyline points="50.6,537.1 50.9,532.8 51.1,528.8 51.4,527.6 51.6,531.2 51.9,528.5 52.2,527.0 52.4,531.4 52.7,528.9 52.9,526.3 53.2,527.4 53.4,525.7 53.7,529.6 54.0,528.0 54.2,526.6 54.5,529.9 54.7,530.9 55.0,528.8 55.3,529.5 55.5,528.3 55.8,525.5 56.0,527.8 56.3,528.8 56.6,527.5 56.8,529.8 57.1,529.9 57.3,527.4 57.6,527.4 57.8,528.4 58.1,526.2 58.4,524.3 58.6,528.9 58.9,526.1 59.1,525.7 59.4,526.2 59.7,527.1 59.9,527.6 60.2,528.6 60.4,525.5 60.7,522.8 61.0,523.8 61.2,527.4 61.5,524.7 61.7,526.7 62.0,526.1 62.2,528.8 62.5,527.5 62.8,528.4 63.0,529.3 63.3,527.4 63.5,526.7 63.8,528.5 64.1,527.4 64.3,527.0 64.6,528.4 64.8,526.7 65.1,524.7 65.3,531.5 65.6,528.2 65.9,528.4 66.1,527.3 66.4,528.2 66.6,530.8 66.9,528.6 67.2,529.4 67.4,527.2 67.7,528.7 67.9,528.4 68.2,525.7 68.5,526.1 68.7,525.7 69.0,529.0 69.2,524.6 69.5,524.7 69.7,527.2 70.0,528.4 70.3,528.4 70.5,527.6 70.8,529.0 71.0,528.0 71.3,525.2 71.6,526.9 71.8,532.3 72.1,530.3 72.3,529.9 72.6,523.2 72.9,523.9 73.1,521.0 73.4,520.4 73.6,525.2 73.9,523.4 74.1,518.4 74.4,520.2 74.7,518.2 74.9,517.6 75.2,514.7 75.4,518.8 75.7,514.8 76.0,511.4 76.2,510.1 76.5,513.0 76.7,514.6 77.0,511.3 77.3,513.9 77.5,514.0 77.8,517.9 78.0,515.3 78.3,513.7 78.5,516.8 78.8,515.5 79.1,516.0 79.3,514.3 79.6,516.0 79.8,513.5 80.1,517.2 80.4,516.3 80.6,517.9 80.9,517.6 81.1,514.3 81.4,515.2 81.7,515.7 81.9,517.6 82.2,513.9 82.4,514.6 82.7,514.3 82.9,518.4 83.2,517.0 83.5,513.8 83.7,514.6 84.0,515.2 84.2,513.8 84.5,517.0 84.8,516.5 85.0,511.0 85.3,513.8 85.5,516.1 85.8,515.6 86.0,517.8 86.3,518.2 86.6,515.4 86.8,512.1 87.1,514.4 87.3,515.0 87.6,513.7 87.9,512.5 88.1,515.1 88.4,515.5 88.6,515.5 88.9,516.7 89.2,515.8 89.4,514.3 89.7,517.0 89.9,517.7 90.2,517.0 90.4,512.7 90.7,513.7 91.0,514.3 91.2,513.2 91.5,515.1 91.7,515.3 92.0,517.9 92.3,514.4 92.5,513.0 92.8,513.3 93.0,514.7 93.3,515.3 93.6,513.3 93.8,517.4 94.1,516.9 94.3,514.1 94.6,514.1 94.8,515.7 95.1,515.7 95.4,519.8 95.6,519.1 95.9,518.1 96.1,517.8 96.4,514.1 96.7,512.6 96.9,516.0 97.2,511.2 97.4,513.8 97.7,512.0 98.0,515.5 98.2,517.4 98.5,513.4 98.7,516.9 99.0,516.4 99.2,513.4 99.5,515.0 99.8,517.5 100.0,515.1 100.3,517.2 100.5,514.8 100.8,519.7 101.1,517.6 101.3,515.1 101.6,516.0 101.8,517.4 102.1,517.5 102.4,518.6 102.6,514.9 102.9,519.2 103.1,516.4 103.4,518.8 103.6,521.5 103.9,519.3 104.2,520.8 104.4,517.5 104.7,518.5 104.9,518.9 105.2,522.3 105.5,518.4 105.7,520.6 106.0,520.1 106.2,518.5 106.5,520.6 106.8,521.3 107.0,524.4 107.3,522.2 107.5,523.4 107.8,520.4 108.0,521.1 108.3,522.8 108.6,522.2 108.8,525.3 109.1,520.6 109.3,526.6 109.6,527.6 109.9,525.5 110.1,523.8 110.4,525.2 110.6,524.1 110.9,524.7 111.1,525.6 111.4,522.4 111.7,523.2 111.9,524.1 112.2,521.9 112.4,522.3 112.7,522.4 113.0,520.6 113.2,525.1 113.5,525.4 113.7,526.7 114.0,526.3 114.3,522.2 114.5,519.1 114.8,523.5 115.0,522.7 115.3,522.3 115.5,522.4 115.8,521.9 116.1,520.6 116.3,523.4 116.6,522.8 116.8,523.8 117.1,520.2 117.4,519.4 117.6,522.9 117.9,522.4 118.1,522.5 118.4,519.7 118.7,522.3 118.9,523.5 119.2,523.0 119.4,520.4 119.7,521.3 119.9,523.4 120.2,523.3 120.5,525.2 120.7,519.7 121.0,524.0 121.2,522.3 121.5,524.2 121.8,522.4 122.0,523.9 122.3,524.3 122.5,525.6 122.8,525.0 123.1,522.1 123.3,524.2 123.6,521.2 123.8,522.0 124.1,520.0 124.3,520.5 124.6,519.6 124.9,519.8 125.1,521.0 125.4,524.5 125.6,520.9 125.9,524.1 126.2,523.8 126.4,522.0 126.7,519.7 126.9,522.8 127.2,523.9 127.5,520.8 127.7,520.8 128.0,523.0 128.2,525.0 128.5,520.4 128.7,521.0 129.0,521.3 129.3,519.0 129.5,517.7 129.8,520.2 130.0,521.6 130.3,520.7 130.6,517.5 130.8,517.9 131.1,520.4 131.3,518.5 131.6,522.2 131.9,521.4 132.1,521.9 132.4,518.7 132.6,519.8 132.9,521.2 133.1,520.7 133.4,519.7 133.7,522.7 133.9,519.2 134.2,520.9 134.4,522.7 134.7,520.4 135.0,519.5 135.2,519.2 135.5,521.2 135.7,524.8 136.0,520.8 136.2,520.9 136.5,525.1 136.8,523.1 137.0,521.2 137.3,522.1 137.5,520.4 137.8,523.5 138.1,517.6 138.3,520.8 138.6,521.3 138.8,519.7 139.1,520.3 139.4,520.3 139.6,518.7 139.9,517.0 140.1,520.5 140.4,525.9 140.6,522.3 140.9,520.5 141.2,520.8 141.4,522.4 141.7,523.7 141.9,521.9 142.2,519.5 142.5,524.7 142.7,522.0 143.0,521.7 143.2,519.4 143.5,521.8 143.8,521.6 144.0,522.3 144.3,520.7 144.5,518.1 144.8,521.0 145.0,522.4 145.3,520.6 145.6,527.2 145.8,523.0 146.1,522.8 146.3,520.5 146.6,523.3 146.9,524.0 147.1,523.0 147.4,521.3 147.6,523.6 147.9,520.3 148.2,521.9 148.4,520.7 148.7,522.3 148.9,521.8 149.2,522.7 149.4,520.4 149.7,522.9 150.0,523.6 150.2,522.8 150.5,521.6 150.7,521.1 151.0,525.4 151.3,521.3 151.5,521.6 151.8,519.8 152.0,522.8 152.3,520.4 152.6,521.2 152.8,520.4 153.1,523.2 153.3,522.9 153.6,521.1 153.8,520.3 154.1,522.1 154.4,522.6 154.6,521.6 154.9,523.9 155.1,519.2 155.4,519.3 155.7,521.4 155.9,521.8 156.2,522.9 156.4,524.3 156.7,519.0 156.9,520.3 157.2,521.7 157.5,523.2 157.7,522.4 158.0,520.5 158.2,521.8 158.5,519.7 158.8,520.1 159.0,520.1 159.3,522.0 159.5,522.3 159.8,520.3 160.1,520.7 160.3,521.5 160.6,524.9 160.8,522.5 161.1,523.2 161.3,521.9 161.6,522.6 161.9,522.4 162.1,517.6 162.4,521.1 162.6,522.0 162.9,521.2 163.2,525.5 163.4,522.5 163.7,519.1 163.9,520.6 164.2,522.4 164.5,522.4 164.7,521.6 165.0,522.5 165.2,519.3 165.5,525.7 165.7,523.3 166.0,521.2 166.3,524.1 166.5,520.6 166.8,520.3 167.0,521.1 167.3,519.7 167.6,520.3 167.8,522.7 168.1,520.4 168.3,520.7 168.6,522.8 168.9,523.3 169.1,521.2 169.4,520.6 169.6,519.7 169.9,522.5 170.1,522.0 170.4,515.2 170.7,517.2 170.9,518.3 171.2,519.3 171.4,520.2 171.7,522.5 172.0,519.7 172.2,522.5 172.5,521.1 172.7,520.7 173.0,518.6 173.3,521.1 173.5,521.8 173.8,522.0 174.0,520.5 174.3,521.0 174.5,521.1 174.8,520.0 175.1,522.7 175.3,519.0 175.6,520.0 175.8,521.9 176.1,522.9 176.4,522.8 176.6,524.4 176.9,521.2 177.1,523.5 177.4,521.2 177.7,518.4 177.9,520.3 178.2,523.4 178.4,520.2 178.7,518.4 178.9,518.9 179.2,520.3 179.5,521.6 179.7,521.0 180.0,520.5 180.2,520.9 180.5,523.0 180.8,521.9 181.0,520.2 181.3,521.6 181.5,520.9 181.8,520.9 182.0,519.7 182.3,521.2 182.6,520.3 182.8,522.0 183.1,521.0 183.3,518.8 183.6,523.5 183.9,521.5 184.1,519.1 184.4,519.1 184.6,520.1 184.9,518.9 185.2,520.6 185.4,521.0 185.7,520.2 185.9,518.6 186.2,521.2 186.4,524.9 186.7,519.4 187.0,519.8 187.2,519.5 187.5,518.7 187.7,521.6 188.0,522.2 188.3,521.9 188.5,521.8 188.8,519.2 189.0,522.8 189.3,521.5 189.6,522.4 189.8,522.2 190.1,523.4 190.3,516.0 190.6,520.5 190.8,518.5 191.1,523.4 191.4,523.1 191.6,523.5 191.9,521.8 192.1,522.1 192.4,519.9 192.7,520.1 192.9,523.2 193.2,521.8 193.4,520.6 193.7,519.0 194.0,523.2 194.2,520.2 194.5,524.2 194.7,519.9 195.0,521.0 195.2,521.5 195.5,521.7 195.8,520.9 196.0,523.0 196.3,520.7 196.5,523.2 196.8,521.7 197.1,521.5 197.3,522.6 197.6,518.6 197.8,519.0 198.1,522.7 198.4,522.6 198.6,521.1 198.9,517.5 199.1,523.1 199.4,520.9 199.6,524.1 199.9,522.5 200.2,519.8 200.4,518.6 200.7,521.1 200.9,520.6 201.2,521.4 201.5,522.4 201.7,518.0 202.0,521.9 202.2,522.9 202.5,519.0 202.8,521.4 203.0,520.7 203.3,520.0 203.5,518.7 203.8,521.0 204.0,523.6 204.3,521.4 204.6,517.7 204.8,518.8 205.1,520.4 205.3,525.3 205.6,517.6 205.9,520.1 206.1,521.6 206.4,518.2 206.6,524.3 206.9,520.8 207.1,523.2 207.4,521.6 207.7,521.6 207.9,518.9 208.2,521.5 208.4,520.7 208.7,522.1 209.0,519.4 209.2,520.7 209.5,519.4 209.7,521.5 210.0,520.1 210.3,521.4 210.5,520.8 210.8,520.9 211.0,519.6 211.3,517.5 211.5,525.9 211.8,519.9 212.1,523.9 212.3,523.3 212.6,521.5 212.8,520.6 213.1,521.1 213.4,525.2 213.6,520.8 213.9,519.1 214.1,522.4 214.4,523.3 214.7,520.2 214.9,519.7 215.2,520.9 215.4,521.9 215.7,520.3 215.9,518.9 216.2,515.7 216.5,520.1 216.7,524.1 217.0,519.8 217.2,518.4 217.5,525.1 217.8,521.9 218.0,520.5 218.3,520.6 218.5,519.9 218.8,517.0 219.1,519.6 219.3,520.7 219.6,518.5 219.8,524.8 220.1,523.4 220.3,523.3 220.6,523.0 220.9,525.6 221.1,518.8 221.4,523.7 221.6,522.5 221.9,521.0 222.2,522.4 222.4,520.9 222.7,520.2 222.9,521.4 223.2,519.2 223.5,520.9 223.7,521.4 224.0,519.2 224.2,517.7 224.5,518.6 224.7,524.0 225.0,520.2 225.3,525.1 225.5,523.5 225.8,522.1 226.0,518.1 226.3,521.6 226.6,521.8 226.8,520.9 227.1,524.0 227.3,521.2 227.6,520.3 227.8,522.4 228.1,521.3 228.4,523.1 228.6,522.3 228.9,522.0 229.1,520.5 229.4,522.8 229.7,521.1 229.9,522.8 230.2,520.0 230.4,522.1 230.7,521.1 231.0,517.8 231.2,524.6 231.5,522.2 231.7,522.5 232.0,518.8 232.2,519.6 232.5,516.0 232.8,522.2 233.0,521.0 233.3,521.3 233.5,519.7 233.8,522.1 234.1,522.5 234.3,520.5 234.6,517.4 234.8,519.7 235.1,518.2 235.4,519.8 235.6,520.9 235.9,522.7 236.1,521.5 236.4,523.4 236.6,523.2 236.9,521.9 237.2,520.5 237.4,519.8 237.7,523.2 237.9,521.3 238.2,519.2 238.5,521.7 238.7,519.1 239.0,518.3 239.2,519.8 239.5,519.6 239.8,521.5 240.0,517.1 240.3,520.4 240.5,519.9 240.8,520.7 241.0,518.5 241.3,518.3 241.6,523.2 241.8,522.4 242.1,520.4 242.3,524.0 242.6,520.8 242.9,523.0 243.1,522.1 243.4,523.8 243.6,522.6 243.9,521.4 244.2,524.2 244.4,522.3 244.7,522.2 244.9,518.6 245.2,520.1 245.4,523.5 245.7,524.3 246.0,520.7 246.2,520.7 246.5,520.5 246.7,520.0 247.0,521.8 247.3,523.6 247.5,520.7 247.8,521.6 248.0,522.4 248.3,522.9 248.6,519.9 248.8,522.6 249.1,523.7 249.3,518.4 249.6,520.7 249.8,521.4 250.1,521.8 250.4,519.4 250.6,520.0 250.9,520.1 251.1,519.3 251.4,521.0 251.7,522.8 251.9,519.9 252.2,523.1 252.4,521.8 252.7,519.6 252.9,519.9 253.2,520.4 253.5,520.1 253.7,519.2 254.0,518.1 254.2,519.6 254.5,521.3 254.8,522.9 255.0,523.0 255.3,523.5 255.5,520.0 255.8,521.8 256.1,520.8 256.3,524.6 256.6,520.0 256.8,520.4 257.1,522.8 257.3,523.4 257.6,521.4 257.9,521.2 258.1,519.7 258.4,521.6 258.6,521.5 258.9,519.2 259.2,523.1 259.4,519.9 259.7,520.4 259.9,523.7 260.2,522.0 260.5,523.1 260.7,519.8 261.0,520.4 261.2,520.3 261.5,521.2 261.7,523.0 262.0,517.4 262.3,517.5 262.5,522.4 262.8,520.6 263.0,520.5 263.3,518.7 263.6,515.3 263.8,519.4 264.1,521.3 264.3,520.7 264.6,522.5 264.9,523.3 265.1,522.9 265.4,521.5 265.6,524.5 265.9,520.2 266.1,518.5 266.4,520.4 266.7,521.2 266.9,525.5 267.2,517.3 267.4,518.5 267.7,518.9 268.0,518.1 268.2,520.9 268.5,520.4 268.7,518.6 269.0,521.3 269.3,519.6 269.5,521.0 269.8,521.0 270.0,521.4 270.3,525.4 270.5,523.9 270.8,522.8 271.1,522.9 271.3,524.7 271.6,520.0 271.8,521.4 272.1,521.2 272.4,518.7 272.6,523.6 272.9,519.7 273.1,518.6 273.4,520.5 273.7,519.1 273.9,522.1 274.2,521.6 274.4,519.5 274.7,519.9 274.9,524.2 275.2,519.8 275.5,517.6 275.7,521.9 276.0,521.1 276.2,521.7 276.5,520.4 276.8,524.4 277.0,521.2 277.3,522.8 277.5,521.4 277.8,517.3 278.0,522.0 278.3,518.8 278.6,521.3 278.8,522.9 279.1,521.0 279.3,520.8 279.6,520.3 279.9,521.3 280.1,518.4 280.4,518.4 280.6,520.6 280.9,521.0 281.2,521.7 281.4,520.8 281.7,521.5 281.9,522.8 282.2,521.1 282.4,517.6 282.7,523.3 283.0,522.8 283.2,517.6 283.5,516.3 283.7,521.9 284.0,521.0 284.3,521.6 284.5,519.7 284.8,518.4 285.0,522.3 285.3,521.9 285.6,521.6 285.8,520.1 286.1,520.9 286.3,521.0 286.6,520.9 286.8,523.2 287.1,522.8 287.4,522.8 287.6,519.6 287.9,518.2 288.1,521.5 288.4,520.6 288.7,520.8 288.9,519.7 289.2,523.8 289.4,522.7 289.7,521.9 290.0,520.0 290.2,521.3 290.5,520.0 290.7,521.6 291.0,521.7 291.2,522.8 291.5,525.5 291.8,523.8 292.0,519.9 292.3,520.3 292.5,521.5 292.8,519.1 293.1,519.3 293.3,520.1 293.6,519.4 293.8,517.7 294.1,520.8 294.4,518.1 294.6,517.8 294.9,522.6 295.1,521.3 295.4,520.7 295.6,522.6 295.9,520.1 296.2,519.5 296.4,520.5 296.7,524.8 296.9,520.4 297.2,520.6 297.5,521.0 297.7,521.3 298.0,520.5 298.2,517.9 298.5,520.1 298.7,518.1 299.0,519.9 299.3,520.3 299.5,518.2 299.8,520.3 300.0,521.0 300.3,525.2 300.6,523.4 300.8,519.4 301.1,522.8 301.3,523.0 301.6,523.1 301.9,523.8 302.1,518.4 302.4,523.3 302.6,521.9 302.9,524.0 303.1,521.4 303.4,521.0 303.7,519.0 303.9,520.2 304.2,522.7 304.4,521.2 304.7,519.8 305.0,520.9 305.2,520.3 305.5,524.7 305.7,521.7 306.0,518.8 306.3,518.9 306.5,521.3 306.8,517.6 307.0,518.7 307.3,518.5 307.5,520.4 307.8,519.8 308.1,521.9 308.3,520.8 308.6,520.5 308.8,519.4 309.1,519.0" fill="none" stroke="#2a7ab6" stroke-width="0.85" stroke-linejoin="round" clip-path="url(#c0)"/><rect x="50.5" y="507.5" width="259" height="30" fill="none" stroke="#6e6e6e" stroke-width="0.8"/><rect x="312.4" y="512.15" width="1.9" height="1.5" fill="#2a7ab6"/><rect x="312.4" y="514.95" width="5.9" height="1.5" fill="#2a7ab6"/><rect x="312.4" y="517.85" width="16.2" height="1.5" fill="#2a7ab6"/><rect x="312.4" y="520.65" width="34" height="1.5" fill="#2a7ab6"/><rect x="312.4" y="523.55" width="19.3" height="1.5" fill="#2a7ab6"/><rect x="312.4" y="526.35" width="8.3" height="1.5" fill="#2a7ab6"/><rect x="312.4" y="529.25" width="3" height="1.5" fill="#2a7ab6"/><rect x="312.5" y="507.5" width="36" height="30" fill="none" stroke="#6e6e6e" stroke-width="0.8"/><line x1="48.5" y1="537.1" x2="50.5" y2="537.1" stroke="#444" stroke-width="0.5"/><line x1="310.9" y1="537.1" x2="312.4" y2="537.1" stroke="#444" stroke-width="0.5"/><text x="47.7" y="537.1" font-family='"Liberation Sans", sans-serif' font-size="3.6" font-weight="normal" fill="#333" text-anchor="end" dominant-baseline="central">0.0</text><line x1="48.5" y1="528.18" x2="50.5" y2="528.18" stroke="#444" stroke-width="0.5"/><line x1="310.9" y1="528.18" x2="312.4" y2="528.18" stroke="#444" stroke-width="0.5"/><text x="47.7" y="528.18" font-family='"Liberation Sans", sans-serif' font-size="3.6" font-weight="normal" fill="#333" text-anchor="end" dominant-baseline="central">0.4</text><line x1="48.5" y1="519.26" x2="50.5" y2="519.26" stroke="#444" stroke-width="0.5"/><line x1="310.9" y1="519.26" x2="312.4" y2="519.26" stroke="#444" stroke-width="0.5"/><text x="47.7" y="519.26" font-family='"Liberation Sans", sans-serif' font-size="3.6" font-weight="normal" fill="#333" text-anchor="end" dominant-baseline="central">0.8</text><line x1="48.5" y1="510.34" x2="50.5" y2="510.34" stroke="#444" stroke-width="0.5"/><line x1="310.9" y1="510.34" x2="312.4" y2="510.34" stroke="#444" stroke-width="0.5"/><text x="47.7" y="510.34" font-family='"Liberation Sans", sans-serif' font-size="3.6" font-weight="normal" fill="#333" text-anchor="end" dominant-baseline="central">1.2</text><text x="34.6" y="522.35" font-family='"Liberation Sans", sans-serif' font-size="4.4" font-weight="normal" fill="#333" text-anchor="middle" dominant-baseline="central" transform="rotate(-90 34.6 522.35)">RMSD (Å)</text><polyline points="50.6,550.7 50.9,554.2 51.1,559.9 51.4,557.4 51.6,558.7 51.9,547.8 52.2,551.4 52.4,556.5 52.7,551.7 52.9,548.6 53.2,554.8 53.4,558.1 53.7,562.4 54.0,556.7 54.2,561.4 54.5,558.6 54.7,553.9 55.0,557.3 55.3,556.8 55.5,560.4 55.8,557.0 56.0,553.1 56.3,557.3 56.6,555.5 56.8,568.7 57.1,551.1 57.3,563.0 57.6,552.9 57.8,555.8 58.1,552.4 58.4,553.6 58.6,551.9 58.9,556.8 59.1,558.3 59.4,550.4 59.7,557.2 59.9,560.0 60.2,555.4 60.4,551.0 60.7,557.8 61.0,552.9 61.2,551.0 61.5,559.8 61.7,554.9 62.0,549.6 62.2,549.2 62.5,556.1 62.8,553.4 63.0,554.3 63.3,549.9 63.5,554.6 63.8,557.2 64.1,555.0 64.3,554.2 64.6,558.9 64.8,558.4 65.1,561.7 65.3,555.7 65.6,559.3 65.9,559.4 66.1,566.2 66.4,556.1 66.6,559.4 66.9,560.3 67.2,566.1 67.4,556.2 67.7,558.1 67.9,555.7 68.2,556.0 68.5,561.5 68.7,551.5 69.0,558.1 69.2,560.5 69.5,559.5 69.7,555.9 70.0,559.7 70.3,554.7 70.5,558.0 70.8,559.7 71.0,555.4 71.3,559.7 71.6,553.8 71.8,562.2 72.1,560.7 72.3,558.5 72.6,559.8 72.9,561.3 73.1,562.6 73.4,557.7 73.6,560.1 73.9,561.4 74.1,557.5 74.4,552.7 74.7,560.5 74.9,553.7 75.2,556.3 75.4,550.5 75.7,549.8 76.0,551.4 76.2,552.6 76.5,553.6 76.7,557.6 77.0,543.2 77.3,546.6 77.5,550.0 77.8,551.4 78.0,546.6 78.3,543.9 78.5,547.2 78.8,549.9 79.1,556.3 79.3,555.9 79.6,551.5 79.8,560.0 80.1,551.2 80.4,555.6 80.6,559.5 80.9,551.3 81.1,551.6 81.4,558.3 81.7,553.6 81.9,550.3 82.2,554.8 82.4,545.4 82.7,548.4 82.9,548.2 83.2,552.9 83.5,552.6 83.7,554.6 84.0,544.6 84.2,546.4 84.5,559.2 84.8,553.2 85.0,555.0 85.3,555.3 85.5,549.3 85.8,547.4 86.0,544.7 86.3,552.6 86.6,542.2 86.8,553.0 87.1,560.7 87.3,544.8 87.6,550.9 87.9,556.7 88.1,553.1 88.4,550.9 88.6,546.8 88.9,554.2 89.2,549.8 89.4,554.3 89.7,548.7 89.9,558.5 90.2,553.9 90.4,556.5 90.7,554.4 91.0,553.8 91.2,553.4 91.5,558.6 91.7,546.4 92.0,552.9 92.3,556.2 92.5,554.0 92.8,553.4 93.0,548.8 93.3,558.5 93.6,549.9 93.8,558.3 94.1,555.8 94.3,555.8 94.6,554.4 94.8,551.2 95.1,552.6 95.4,558.0 95.6,553.7 95.9,556.8 96.1,546.6 96.4,552.3 96.7,551.6 96.9,555.8 97.2,559.1 97.4,553.4 97.7,550.5 98.0,557.8 98.2,554.5 98.5,553.2 98.7,560.8 99.0,555.7 99.2,549.3 99.5,553.6 99.8,558.6 100.0,557.1 100.3,549.7 100.5,549.1 100.8,549.3 101.1,542.0 101.3,562.9 101.6,555.0 101.8,551.1 102.1,554.3 102.4,553.5 102.6,552.6 102.9,554.1 103.1,545.7 103.4,552.3 103.6,550.2 103.9,548.7 104.2,555.3 104.4,544.1 104.7,546.7 104.9,547.3 105.2,547.4 105.5,558.0 105.7,557.0 106.0,555.7 106.2,552.8 106.5,556.3 106.8,548.8 107.0,560.5 107.3,555.4 107.5,554.6 107.8,556.4 108.0,549.7 108.3,560.8 108.6,559.1 108.8,565.6 109.1,559.0 109.3,564.7 109.6,565.0 109.9,559.0 110.1,563.5 110.4,565.4 110.6,558.8 110.9,555.2 111.1,553.9 111.4,558.8 111.7,564.8 111.9,559.2 112.2,559.2 112.4,550.3 112.7,552.2 113.0,554.2 113.2,549.5 113.5,548.0 113.7,548.9 114.0,550.1 114.3,548.2 114.5,551.4 114.8,550.2 115.0,564.3 115.3,551.4 115.5,549.1 115.8,554.3 116.1,550.1 116.3,551.6 116.6,547.9 116.8,545.5 117.1,558.6 117.4,549.2 117.6,553.9 117.9,552.2 118.1,557.2 118.4,554.1 118.7,558.1 118.9,548.7 119.2,556.8 119.4,551.5 119.7,562.8 119.9,550.4 120.2,547.4 120.5,549.2 120.7,553.5 121.0,552.3 121.2,550.9 121.5,557.4 121.8,548.2 122.0,555.1 122.3,549.7 122.5,549.3 122.8,555.4 123.1,557.4 123.3,553.0 123.6,557.3 123.8,558.9 124.1,552.3 124.3,554.6 124.6,554.3 124.9,558.7 125.1,557.5 125.4,547.0 125.6,547.8 125.9,552.2 126.2,551.1 126.4,552.0 126.7,552.5 126.9,553.8 127.2,549.4 127.5,546.7 127.7,546.8 128.0,555.3 128.2,550.7 128.5,551.1 128.7,554.5 129.0,551.8 129.3,552.2 129.5,550.8 129.8,552.4 130.0,550.8 130.3,555.7 130.6,553.4 130.8,554.1 131.1,548.4 131.3,553.9 131.6,550.9 131.9,552.2 132.1,555.6 132.4,550.0 132.6,551.9 132.9,550.9 133.1,546.4 133.4,552.9 133.7,551.5 133.9,546.9 134.2,548.9 134.4,552.3 134.7,555.4 135.0,553.9 135.2,559.0 135.5,546.8 135.7,549.8 136.0,552.0 136.2,558.3 136.5,552.9 136.8,559.4 137.0,552.1 137.3,557.1 137.5,549.6 137.8,552.2 138.1,548.9 138.3,557.8 138.6,545.5 138.8,544.4 139.1,547.8 139.4,554.3 139.6,555.1 139.9,552.1 140.1,550.6 140.4,549.1 140.6,553.6 140.9,553.5 141.2,547.7 141.4,563.2 141.7,550.5 141.9,559.3 142.2,559.9 142.5,552.0 142.7,552.7 143.0,555.0 143.2,558.1 143.5,549.6 143.8,547.7 144.0,549.2 144.3,545.9 144.5,549.1 144.8,551.0 145.0,551.8 145.3,552.3 145.6,551.8 145.8,557.5 146.1,558.8 146.3,552.8 146.6,551.9 146.9,553.2 147.1,551.6 147.4,555.4 147.6,552.6 147.9,550.6 148.2,552.4 148.4,549.4 148.7,546.3 148.9,550.6 149.2,553.2 149.4,549.2 149.7,551.2 150.0,556.9 150.2,557.6 150.5,557.2 150.7,553.0 151.0,560.1 151.3,554.5 151.5,552.8 151.8,552.2 152.0,554.7 152.3,556.3 152.6,554.9 152.8,554.6 153.1,552.5 153.3,550.1 153.6,551.7 153.8,552.8 154.1,552.0 154.4,559.4 154.6,559.0 154.9,554.0 155.1,556.0 155.4,553.6 155.7,551.9 155.9,554.1 156.2,558.4 156.4,555.7 156.7,548.3 156.9,560.9 157.2,548.5 157.5,551.4 157.7,549.8 158.0,552.9 158.2,557.5 158.5,554.5 158.8,562.0 159.0,552.9 159.3,553.1 159.5,554.2 159.8,548.5 160.1,550.6 160.3,552.7 160.6,546.8 160.8,554.7 161.1,555.8 161.3,552.9 161.6,543.7 161.9,550.2 162.1,556.3 162.4,549.5 162.6,551.7 162.9,552.6 163.2,549.3 163.4,550.7 163.7,547.9 163.9,552.4 164.2,547.6 164.5,553.1 164.7,554.8 165.0,545.2 165.2,551.0 165.5,548.2 165.7,551.2 166.0,547.3 166.3,548.4 166.5,547.1 166.8,552.7 167.0,554.6 167.3,556.3 167.6,562.9 167.8,550.0 168.1,558.2 168.3,548.0 168.6,551.6 168.9,552.8 169.1,550.8 169.4,556.9 169.6,553.2 169.9,550.8 170.1,559.2 170.4,552.9 170.7,556.0 170.9,553.4 171.2,552.0 171.4,551.8 171.7,552.7 172.0,552.7 172.2,553.0 172.5,551.0 172.7,553.0 173.0,545.8 173.3,549.5 173.5,546.5 173.8,548.9 174.0,550.4 174.3,556.9 174.5,552.1 174.8,552.5 175.1,556.0 175.3,552.2 175.6,549.4 175.8,550.2 176.1,550.5 176.4,551.3 176.6,554.1 176.9,557.0 177.1,547.6 177.4,552.9 177.7,548.4 177.9,553.9 178.2,550.6 178.4,552.9 178.7,552.5 178.9,563.3 179.2,551.7 179.5,550.9 179.7,555.8 180.0,549.0 180.2,546.8 180.5,551.2 180.8,553.1 181.0,553.7 181.3,557.8 181.5,548.5 181.8,557.0 182.0,555.1 182.3,551.3 182.6,556.0 182.8,559.4 183.1,551.4 183.3,556.1 183.6,551.1 183.9,553.8 184.1,541.9 184.4,546.6 184.6,551.8 184.9,559.8 185.2,547.9 185.4,547.5 185.7,559.4 185.9,546.9 186.2,556.8 186.4,552.0 186.7,552.0 187.0,552.9 187.2,553.6 187.5,556.0 187.7,561.4 188.0,554.8 188.3,545.2 188.5,554.5 188.8,555.7 189.0,559.4 189.3,548.6 189.6,549.3 189.8,552.5 190.1,553.1 190.3,559.4 190.6,550.1 190.8,555.7 191.1,551.2 191.4,545.9 191.6,551.3 191.9,554.5 192.1,551.0 192.4,554.2 192.7,556.8 192.9,550.2 193.2,559.3 193.4,554.1 193.7,551.2 194.0,552.9 194.2,546.5 194.5,547.8 194.7,551.6 195.0,553.0 195.2,555.0 195.5,555.5 195.8,554.6 196.0,547.4 196.3,553.3 196.5,551.6 196.8,552.0 197.1,554.6 197.3,559.1 197.6,555.0 197.8,553.7 198.1,561.7 198.4,552.0 198.6,555.7 198.9,555.3 199.1,552.6 199.4,553.0 199.6,555.0 199.9,557.8 200.2,550.1 200.4,558.9 200.7,555.5 200.9,550.8 201.2,556.1 201.5,552.8 201.7,553.7 202.0,551.0 202.2,546.1 202.5,545.5 202.8,551.0 203.0,554.6 203.3,555.1 203.5,549.4 203.8,551.8 204.0,560.6 204.3,553.8 204.6,549.6 204.8,555.0 205.1,557.4 205.3,550.2 205.6,551.9 205.9,551.7 206.1,542.0 206.4,553.4 206.6,546.1 206.9,553.1 207.1,550.9 207.4,552.2 207.7,547.7 207.9,553.0 208.2,553.9 208.4,552.5 208.7,555.5 209.0,553.4 209.2,558.7 209.5,557.9 209.7,556.0 210.0,555.0 210.3,556.6 210.5,548.8 210.8,551.5 211.0,552.6 211.3,559.2 211.5,556.5 211.8,547.8 212.1,550.6 212.3,552.5 212.6,554.9 212.8,555.7 213.1,559.5 213.4,552.0 213.6,553.8 213.9,553.9 214.1,556.6 214.4,551.4 214.7,550.8 214.9,552.1 215.2,550.2 215.4,553.6 215.7,553.6 215.9,554.3 216.2,555.1 216.5,554.9 216.7,555.7 217.0,552.9 217.2,558.0 217.5,555.3 217.8,559.5 218.0,562.7 218.3,560.0 218.5,559.8 218.8,553.2 219.1,555.9 219.3,552.2 219.6,550.8 219.8,549.2 220.1,547.5 220.3,549.9 220.6,551.4 220.9,551.4 221.1,553.8 221.4,558.0 221.6,553.3 221.9,553.1 222.2,560.9 222.4,553.6 222.7,554.8 222.9,552.1 223.2,554.4 223.5,546.3 223.7,550.0 224.0,550.6 224.2,544.6 224.5,553.3 224.7,548.8 225.0,550.0 225.3,548.4 225.5,546.7 225.8,546.1 226.0,550.0 226.3,554.0 226.6,553.1 226.8,550.8 227.1,555.1 227.3,556.3 227.6,549.6 227.8,554.8 228.1,556.3 228.4,554.7 228.6,553.1 228.9,549.9 229.1,558.1 229.4,555.7 229.7,550.1 229.9,556.2 230.2,558.6 230.4,557.8 230.7,544.7 231.0,549.2 231.2,560.7 231.5,553.0 231.7,551.6 232.0,554.5 232.2,553.7 232.5,550.2 232.8,547.4 233.0,545.2 233.3,551.5 233.5,546.1 233.8,549.6 234.1,552.3 234.3,557.4 234.6,552.6 234.8,558.3 235.1,556.4 235.4,567.6 235.6,548.4 235.9,556.6 236.1,552.8 236.4,546.0 236.6,547.1 236.9,552.7 237.2,553.9 237.4,553.4 237.7,546.0 237.9,551.5 238.2,545.6 238.5,548.5 238.7,547.3 239.0,551.1 239.2,556.0 239.5,547.7 239.8,543.4 240.0,557.0 240.3,545.9 240.5,547.1 240.8,549.7 241.0,554.9 241.3,553.7 241.6,547.9 241.8,550.6 242.1,552.7 242.3,548.1 242.6,548.3 242.9,554.4 243.1,552.6 243.4,548.0 243.6,548.0 243.9,552.5 244.2,551.8 244.4,554.4 244.7,553.0 244.9,554.4 245.2,554.2 245.4,549.4 245.7,551.6 246.0,553.1 246.2,557.8 246.5,556.1 246.7,551.1 247.0,553.3 247.3,553.2 247.5,555.1 247.8,556.7 248.0,558.5 248.3,550.6 248.6,555.4 248.8,549.1 249.1,547.8 249.3,551.1 249.6,552.0 249.8,556.7 250.1,558.9 250.4,547.3 250.6,551.3 250.9,561.4 251.1,548.3 251.4,548.3 251.7,550.8 251.9,546.6 252.2,548.7 252.4,545.9 252.7,549.2 252.9,542.3 253.2,547.5 253.5,548.9 253.7,553.8 254.0,561.6 254.2,554.3 254.5,550.4 254.8,550.5 255.0,552.1 255.3,549.7 255.5,550.9 255.8,554.6 256.1,551.2 256.3,553.5 256.6,549.8 256.8,549.9 257.1,555.1 257.3,550.7 257.6,553.0 257.9,548.0 258.1,549.4 258.4,557.3 258.6,551.9 258.9,547.8 259.2,546.9 259.4,558.3 259.7,550.1 259.9,556.2 260.2,556.0 260.5,549.5 260.7,552.7 261.0,541.8 261.2,553.0 261.5,556.0 261.7,549.4 262.0,551.7 262.3,554.5 262.5,554.7 262.8,556.7 263.0,548.4 263.3,550.8 263.6,548.9 263.8,548.8 264.1,551.3 264.3,554.0 264.6,552.8 264.9,550.6 265.1,553.5 265.4,558.1 265.6,556.0 265.9,556.4 266.1,559.0 266.4,556.6 266.7,554.6 266.9,555.2 267.2,554.1 267.4,555.4 267.7,552.4 268.0,553.3 268.2,556.0 268.5,550.4 268.7,551.6 269.0,556.6 269.3,557.9 269.5,551.1 269.8,552.4 270.0,558.9 270.3,545.9 270.5,549.3 270.8,548.2 271.1,551.7 271.3,550.7 271.6,547.6 271.8,548.5 272.1,548.7 272.4,550.8 272.6,552.7 272.9,552.1 273.1,559.5 273.4,562.1 273.7,552.3 273.9,554.6 274.2,554.3 274.4,561.9 274.7,550.6 274.9,559.6 275.2,560.2 275.5,559.3 275.7,551.2 276.0,554.0 276.2,548.2 276.5,551.4 276.8,557.7 277.0,555.8 277.3,553.9 277.5,553.0 277.8,554.4 278.0,549.2 278.3,548.8 278.6,548.4 278.8,555.5 279.1,552.3 279.3,558.1 279.6,556.9 279.9,555.9 280.1,550.0 280.4,552.1 280.6,541.8 280.9,553.7 281.2,550.6 281.4,564.4 281.7,555.1 281.9,555.3 282.2,552.4 282.4,552.2 282.7,545.2 283.0,544.9 283.2,552.9 283.5,549.8 283.7,550.6 284.0,551.9 284.3,551.9 284.5,556.7 284.8,553.6 285.0,554.1 285.3,557.1 285.6,553.9 285.8,548.6 286.1,558.8 286.3,554.7 286.6,544.8 286.8,551.6 287.1,554.5 287.4,551.2 287.6,551.1 287.9,551.0 288.1,559.7 288.4,548.3 288.7,552.6 288.9,547.7 289.2,550.9 289.4,557.2 289.7,551.8 290.0,552.1 290.2,550.0 290.5,548.4 290.7,546.2 291.0,544.8 291.2,555.0 291.5,557.6 291.8,553.9 292.0,557.3 292.3,554.6 292.5,559.9 292.8,560.6 293.1,556.8 293.3,549.8 293.6,555.8 293.8,551.9 294.1,558.4 294.4,552.6 294.6,561.9 294.9,560.9 295.1,558.4 295.4,550.3 295.6,551.4 295.9,548.1 296.2,555.2 296.4,547.5 296.7,555.8 296.9,553.5 297.2,550.2 297.5,551.8 297.7,552.1 298.0,547.0 298.2,552.5 298.5,553.2 298.7,556.2 299.0,551.1 299.3,548.7 299.5,553.0 299.8,552.4 300.0,550.2 300.3,554.5 300.6,554.8 300.8,554.7 301.1,547.6 301.3,552.9 301.6,549.1 301.9,545.7 302.1,546.3 302.4,548.2 302.6,551.1 302.9,556.4 303.1,560.4 303.4,555.4 303.7,553.1 303.9,551.6 304.2,550.7 304.4,550.7 304.7,550.2 305.0,550.9 305.2,553.4 305.5,557.8 305.7,551.5 306.0,552.0 306.3,548.0 306.5,561.8 306.8,555.2 307.0,552.4 307.3,551.6 307.5,553.8 307.8,546.0 308.1,550.5 308.3,551.2 308.6,545.9 308.8,552.7 309.1,556.3" fill="none" stroke="#a6da88" stroke-width="0.8" stroke-linejoin="round" clip-path="url(#c1)"/><rect x="50.5" y="542.5" width="259" height="30" fill="none" stroke="#6e6e6e" stroke-width="0.8"/><rect x="312.4" y="544.25" width="1.6" height="1.5" fill="#9ed67e"/><rect x="312.4" y="547.35" width="6.9" height="1.5" fill="#9ed67e"/><rect x="312.4" y="549.95" width="24.5" height="1.5" fill="#9ed67e"/><rect x="312.4" y="552.85" width="34" height="1.5" fill="#9ed67e"/><rect x="312.4" y="555.35" width="30.2" height="1.5" fill="#9ed67e"/><rect x="312.4" y="558.15" width="12.6" height="1.5" fill="#9ed67e"/><rect x="312.4" y="560.85" width="6.9" height="1.5" fill="#9ed67e"/><rect x="312.4" y="563.55" width="1.9" height="1.5" fill="#9ed67e"/><rect x="312.5" y="542.5" width="36" height="30" fill="none" stroke="#6e6e6e" stroke-width="0.8"/><line x1="48.5" y1="568.2" x2="50.5" y2="568.2" stroke="#444" stroke-width="0.5"/><line x1="310.9" y1="568.2" x2="312.4" y2="568.2" stroke="#444" stroke-width="0.5"/><text x="47.7" y="568.2" font-family='"Liberation Sans", sans-serif' font-size="3.6" font-weight="normal" fill="#333" text-anchor="end" dominant-baseline="central">4.8</text><line x1="48.5" y1="560.3" x2="50.5" y2="560.3" stroke="#444" stroke-width="0.5"/><line x1="310.9" y1="560.3" x2="312.4" y2="560.3" stroke="#444" stroke-width="0.5"/><text x="47.7" y="560.3" font-family='"Liberation Sans", sans-serif' font-size="3.6" font-weight="normal" fill="#333" text-anchor="end" dominant-baseline="central">4.9</text><line x1="48.5" y1="552.4" x2="50.5" y2="552.4" stroke="#444" stroke-width="0.5"/><line x1="310.9" y1="552.4" x2="312.4" y2="552.4" stroke="#444" stroke-width="0.5"/><text x="47.7" y="552.4" font-family='"Liberation Sans", sans-serif' font-size="3.6" font-weight="normal" fill="#333" text-anchor="end" dominant-baseline="central">5.0</text><line x1="48.5" y1="544.5" x2="50.5" y2="544.5" stroke="#444" stroke-width="0.5"/><line x1="310.9" y1="544.5" x2="312.4" y2="544.5" stroke="#444" stroke-width="0.5"/><text x="47.7" y="544.5" font-family='"Liberation Sans", sans-serif' font-size="3.6" font-weight="normal" fill="#333" text-anchor="end" dominant-baseline="central">5.1</text><text x="34.6" y="557.65" font-family='"Liberation Sans", sans-serif' font-size="4.4" font-weight="normal" fill="#333" text-anchor="middle" dominant-baseline="central" transform="rotate(-90 34.6 557.65)">rGyr (Å)</text><rect x="50.60" y="593.10" width="3.95" height="14.50" fill="#2a7ab6" fill-opacity="1.00"/><rect x="55.26" y="593.10" width="1.65" height="14.50" fill="#2a7ab6" fill-opacity="1.00"/><rect x="58.79" y="593.10" width="0.76" height="14.50" fill="#2a7ab6" fill-opacity="0.85"/><rect x="60.46" y="593.10" width="3.12" height="14.50" fill="#2a7ab6" fill-opacity="1.00"/><rect x="65.19" y="593.10" width="5.64" height="14.50" fill="#2a7ab6" fill-opacity="1.00"/><rect x="71.71" y="593.10" width="0.90" height="14.50" fill="#2a7ab6" fill-opacity="1.00"/><rect x="75.13" y="593.10" width="3.81" height="14.50" fill="#2a7ab6" fill-opacity="0.60"/><rect x="80.06" y="593.10" width="3.73" height="14.50" fill="#2a7ab6" fill-opacity="1.00"/><rect x="84.59" y="593.10" width="1.71" height="14.50" fill="#2a7ab6" fill-opacity="0.85"/><rect x="89.00" y="593.10" width="1.16" height="14.50" fill="#2a7ab6" fill-opacity="0.85"/><rect x="91.31" y="593.10" width="4.79" height="14.50" fill="#2a7ab6" fill-opacity="0.85"/><rect x="97.52" y="593.10" width="0.35" height="14.50" fill="#2a7ab6" fill-opacity="0.60"/><rect x="100.62" y="593.10" width="0.79" height="14.50" fill="#2a7ab6" fill-opacity="0.85"/><rect x="107.57" y="593.10" width="0.45" height="14.50" fill="#2a7ab6" fill-opacity="0.60"/><rect x="110.66" y="593.10" width="1.12" height="14.50" fill="#2a7ab6" fill-opacity="0.85"/><rect x="112.46" y="593.10" width="1.60" height="14.50" fill="#2a7ab6" fill-opacity="1.00"/><rect x="116.89" y="593.10" width="1.31" height="14.50" fill="#2a7ab6" fill-opacity="1.00"/><rect x="118.78" y="593.10" width="4.30" height="14.50" fill="#2a7ab6" fill-opacity="1.00"/><rect x="123.76" y="593.10" width="1.03" height="14.50" fill="#2a7ab6" fill-opacity="0.60"/><rect x="126.99" y="593.10" width="0.44" height="14.50" fill="#2a7ab6" fill-opacity="0.60"/><rect x="129.91" y="593.10" width="1.63" height="14.50" fill="#2a7ab6" fill-opacity="1.00"/><rect x="132.14" y="593.10" width="1.00" height="14.50" fill="#2a7ab6" fill-opacity="1.00"/><rect x="133.98" y="593.10" width="1.87" height="14.50" fill="#2a7ab6" fill-opacity="0.60"/><rect x="139.36" y="593.10" width="0.59" height="14.50" fill="#2a7ab6" fill-opacity="0.60"/><rect x="143.36" y="593.10" width="3.16" height="14.50" fill="#2a7ab6" fill-opacity="1.00"/><rect x="151.57" y="593.10" width="0.72" height="14.50" fill="#2a7ab6" fill-opacity="0.85"/><rect x="152.90" y="593.10" width="1.49" height="14.50" fill="#2a7ab6" fill-opacity="0.85"/><rect x="156.61" y="593.10" width="2.77" height="14.50" fill="#2a7ab6" fill-opacity="0.85"/><rect x="161.57" y="593.10" width="0.80" height="14.50" fill="#2a7ab6" fill-opacity="0.60"/><rect x="163.56" y="593.10" width="1.32" height="14.50" fill="#2a7ab6" fill-opacity="1.00"/><rect x="168.44" y="593.10" width="2.04" height="14.50" fill="#2a7ab6" fill-opacity="1.00"/><rect x="171.07" y="593.10" width="0.43" height="14.50" fill="#2a7ab6" fill-opacity="1.00"/><rect x="172.98" y="593.10" width="5.67" height="14.50" fill="#2a7ab6" fill-opacity="1.00"/><rect x="182.78" y="593.10" width="2.10" height="14.50" fill="#2a7ab6" fill-opacity="1.00"/><rect x="186.55" y="593.10" width="1.80" height="14.50" fill="#2a7ab6" fill-opacity="0.85"/><rect x="190.27" y="593.10" width="2.62" height="14.50" fill="#2a7ab6" fill-opacity="1.00"/><rect x="196.97" y="593.10" width="2.26" height="14.50" fill="#2a7ab6" fill-opacity="1.00"/><rect x="200.68" y="593.10" width="1.77" height="14.50" fill="#2a7ab6" fill-opacity="0.60"/><rect x="203.24" y="593.10" width="2.02" height="14.50" fill="#2a7ab6" fill-opacity="1.00"/><rect x="207.08" y="593.10" width="0.45" height="14.50" fill="#2a7ab6" fill-opacity="1.00"/><rect x="210.75" y="593.10" width="0.45" height="14.50" fill="#2a7ab6" fill-opacity="0.85"/><rect x="211.99" y="593.10" width="3.43" height="14.50" fill="#2a7ab6" fill-opacity="0.85"/><rect x="216.07" y="593.10" width="2.60" height="14.50" fill="#2a7ab6" fill-opacity="1.00"/><rect x="220.89" y="593.10" width="0.58" height="14.50" fill="#2a7ab6" fill-opacity="0.85"/><rect x="232.26" y="593.10" width="0.87" height="14.50" fill="#2a7ab6" fill-opacity="0.85"/><rect x="236.75" y="593.10" width="1.95" height="14.50" fill="#2a7ab6" fill-opacity="1.00"/><rect x="239.39" y="593.10" width="0.47" height="14.50" fill="#2a7ab6" fill-opacity="0.85"/><rect x="242.47" y="593.10" width="0.60" height="14.50" fill="#2a7ab6" fill-opacity="0.60"/><rect x="243.74" y="593.10" width="1.11" height="14.50" fill="#2a7ab6" fill-opacity="0.60"/><rect x="250.00" y="593.10" width="5.27" height="14.50" fill="#2a7ab6" fill-opacity="0.60"/><rect x="257.12" y="593.10" width="4.88" height="14.50" fill="#2a7ab6" fill-opacity="1.00"/><rect x="263.24" y="593.10" width="1.32" height="14.50" fill="#2a7ab6" fill-opacity="1.00"/><rect x="272.20" y="593.10" width="0.46" height="14.50" fill="#2a7ab6" fill-opacity="0.60"/><rect x="276.46" y="593.10" width="0.40" height="14.50" fill="#2a7ab6" fill-opacity="0.85"/><rect x="281.01" y="593.10" width="0.87" height="14.50" fill="#2a7ab6" fill-opacity="1.00"/><rect x="284.47" y="593.10" width="0.84" height="14.50" fill="#2a7ab6" fill-opacity="1.00"/><rect x="289.97" y="593.10" width="0.35" height="14.50" fill="#2a7ab6" fill-opacity="1.00"/><rect x="295.65" y="593.10" width="1.23" height="14.50" fill="#2a7ab6" fill-opacity="1.00"/><rect x="301.62" y="593.10" width="2.02" height="14.50" fill="#2a7ab6" fill-opacity="1.00"/><rect x="304.19" y="593.10" width="4.91" height="14.50" fill="#2a7ab6" fill-opacity="1.00"/><line x1="50.6" y1="593.1" x2="309.1" y2="593.1" stroke="#2a7ab6" stroke-width="0.9"/><rect x="50.5" y="578.5" width="259" height="29" fill="none" stroke="#6e6e6e" stroke-width="0.8"/><rect x="312.4" y="593.15" width="34" height="0.9" fill="#2a7ab6"/><rect x="312.4" y="605.8" width="5.5" height="1.8" fill="#2a7ab6"/><rect x="312.5" y="578.5" width="36" height="29" fill="none" stroke="#6e6e6e" stroke-width="0.8"/><line x1="48.5" y1="607.6" x2="50.5" y2="607.6" stroke="#444" stroke-width="0.5"/><line x1="310.9" y1="607.6" x2="312.4" y2="607.6" stroke="#444" stroke-width="0.5"/><text x="47.7" y="607.6" font-family='"Liberation Sans", sans-serif' font-size="3.6" font-weight="normal" fill="#333" text-anchor="end" dominant-baseline="central">0</text><line x1="48.5" y1="593.1" x2="50.5" y2="593.1" stroke="#444" stroke-width="0.5"/><line x1="310.9" y1="593.1" x2="312.4" y2="593.1" stroke="#444" stroke-width="0.5"/><text x="47.7" y="593.1" font-family='"Liberation Sans", sans-serif' font-size="3.6" font-weight="normal" fill="#333" text-anchor="end" dominant-baseline="central">1</text><line x1="48.5" y1="578.6" x2="50.5" y2="578.6" stroke="#444" stroke-width="0.5"/><line x1="310.9" y1="578.6" x2="312.4" y2="578.6" stroke="#444" stroke-width="0.5"/><text x="47.7" y="578.6" font-family='"Liberation Sans", sans-serif' font-size="3.6" font-weight="normal" fill="#333" text-anchor="end" dominant-baseline="central">2</text><text x="34.6" y="592.9" font-family='"Liberation Sans", sans-serif' font-size="4.4" font-weight="normal" fill="#333" text-anchor="middle" dominant-baseline="central" transform="rotate(-90 34.6 592.9)">intraHB</text><polyline points="50.6,628.2 50.9,635.5 51.1,630.7 51.4,632.2 51.6,632.4 51.9,633.5 52.2,634.2 52.4,633.8 52.7,630.2 52.9,630.4 53.2,627.7 53.4,636.4 53.7,632.3 54.0,627.9 54.2,631.6 54.5,626.7 54.7,627.5 55.0,630.8 55.3,617.0 55.5,623.0 55.8,629.6 56.0,624.7 56.3,629.2 56.6,631.6 56.8,623.5 57.1,629.0 57.3,625.8 57.6,626.2 57.8,633.0 58.1,625.5 58.4,635.2 58.6,628.7 58.9,633.3 59.1,628.4 59.4,624.4 59.7,625.4 59.9,628.4 60.2,634.3 60.4,637.3 60.7,620.8 61.0,631.7 61.2,629.6 61.5,627.3 61.7,623.5 62.0,620.8 62.2,629.6 62.5,622.5 62.8,627.8 63.0,632.5 63.3,633.9 63.5,627.7 63.8,631.6 64.1,632.5 64.3,632.9 64.6,626.1 64.8,624.8 65.1,630.1 65.3,629.0 65.6,631.8 65.9,630.8 66.1,627.8 66.4,630.8 66.6,623.8 66.9,630.1 67.2,634.5 67.4,632.4 67.7,630.4 67.9,627.7 68.2,620.0 68.5,623.2 68.7,632.3 69.0,626.1 69.2,623.7 69.5,624.5 69.7,629.0 70.0,631.3 70.3,630.8 70.5,632.0 70.8,626.1 71.0,626.7 71.3,624.6 71.6,628.6 71.8,622.4 72.1,633.6 72.3,637.1 72.6,628.6 72.9,636.1 73.1,624.1 73.4,626.5 73.6,626.3 73.9,624.6 74.1,625.4 74.4,627.2 74.7,621.5 74.9,625.2 75.2,630.3 75.4,631.2 75.7,632.5 76.0,630.9 76.2,627.5 76.5,632.3 76.7,629.1 77.0,622.3 77.3,624.3 77.5,624.9 77.8,623.0 78.0,626.5 78.3,630.5 78.5,625.1 78.8,633.9 79.1,625.4 79.3,630.5 79.6,627.3 79.8,631.5 80.1,634.9 80.4,630.7 80.6,624.0 80.9,626.9 81.1,632.8 81.4,626.6 81.7,621.1 81.9,622.9 82.2,621.5 82.4,630.5 82.7,630.1 82.9,629.0 83.2,629.7 83.5,627.7 83.7,621.2 84.0,631.4 84.2,630.8 84.5,635.2 84.8,629.4 85.0,630.1 85.3,628.7 85.5,626.9 85.8,627.7 86.0,629.2 86.3,625.9 86.6,620.4 86.8,630.4 87.1,624.8 87.3,626.9 87.6,620.2 87.9,629.0 88.1,629.4 88.4,623.2 88.6,630.5 88.9,625.1 89.2,634.3 89.4,624.7 89.7,626.3 89.9,631.2 90.2,631.6 90.4,637.9 90.7,627.7 91.0,630.4 91.2,626.6 91.5,631.2 91.7,622.5 92.0,632.4 92.3,635.6 92.5,633.0 92.8,630.5 93.0,623.5 93.3,632.6 93.6,632.0 93.8,639.2 94.1,632.4 94.3,623.6 94.6,619.0 94.8,618.0 95.1,628.4 95.4,621.0 95.6,615.6 95.9,625.3 96.1,627.3 96.4,627.2 96.7,628.8 96.9,627.8 97.2,628.2 97.4,628.5 97.7,629.0 98.0,622.4 98.2,628.3 98.5,628.7 98.7,629.2 99.0,628.0 99.2,628.4 99.5,619.9 99.8,624.8 100.0,627.2 100.3,631.2 100.5,624.3 100.8,629.0 101.1,622.7 101.3,630.3 101.6,628.9 101.8,639.3 102.1,628.5 102.4,625.8 102.6,626.8 102.9,622.3 103.1,623.2 103.4,623.8 103.6,616.9 103.9,631.6 104.2,631.6 104.4,634.0 104.7,631.6 104.9,621.4 105.2,626.6 105.5,632.8 105.7,632.0 106.0,631.8 106.2,633.1 106.5,622.3 106.8,630.2 107.0,630.6 107.3,619.1 107.5,618.7 107.8,627.2 108.0,630.6 108.3,629.2 108.6,629.0 108.8,630.4 109.1,619.9 109.3,626.1 109.6,624.1 109.9,627.1 110.1,636.0 110.4,631.1 110.6,639.9 110.9,632.5 111.1,626.0 111.4,625.6 111.7,633.2 111.9,630.5 112.2,626.0 112.4,629.6 112.7,627.1 113.0,629.7 113.2,627.3 113.5,627.9 113.7,633.2 114.0,625.2 114.3,622.1 114.5,619.4 114.8,625.6 115.0,619.7 115.3,636.4 115.5,632.0 115.8,627.5 116.1,625.7 116.3,630.6 116.6,628.5 116.8,625.2 117.1,622.9 117.4,621.6 117.6,630.9 117.9,625.4 118.1,628.9 118.4,624.4 118.7,626.6 118.9,627.2 119.2,628.9 119.4,627.7 119.7,629.8 119.9,628.6 120.2,623.8 120.5,633.9 120.7,628.7 121.0,631.1 121.2,627.5 121.5,623.9 121.8,630.4 122.0,632.0 122.3,628.7 122.5,619.6 122.8,628.1 123.1,623.0 123.3,627.9 123.6,623.9 123.8,620.9 124.1,633.6 124.3,628.7 124.6,627.1 124.9,623.2 125.1,622.5 125.4,626.3 125.6,629.0 125.9,637.1 126.2,621.5 126.4,625.5 126.7,627.8 126.9,630.6 127.2,634.0 127.5,630.1 127.7,619.5 128.0,627.9 128.2,635.9 128.5,632.1 128.7,627.7 129.0,620.5 129.3,628.8 129.5,630.9 129.8,632.2 130.0,626.0 130.3,626.6 130.6,629.9 130.8,625.2 131.1,633.0 131.3,630.3 131.6,631.1 131.9,630.3 132.1,625.8 132.4,626.1 132.6,633.3 132.9,624.4 133.1,634.2 133.4,630.9 133.7,630.3 133.9,614.3 134.2,624.8 134.4,630.2 134.7,629.8 135.0,631.9 135.2,632.3 135.5,631.1 135.7,631.8 136.0,625.6 136.2,631.7 136.5,629.3 136.8,626.1 137.0,634.4 137.3,635.5 137.5,632.3 137.8,633.4 138.1,623.5 138.3,618.3 138.6,622.5 138.8,625.4 139.1,631.6 139.4,639.1 139.6,628.1 139.9,626.3 140.1,631.5 140.4,629.3 140.6,625.1 140.9,625.4 141.2,624.6 141.4,627.4 141.7,629.7 141.9,632.8 142.2,637.3 142.5,628.4 142.7,627.0 143.0,624.5 143.2,622.7 143.5,625.3 143.8,638.3 144.0,628.8 144.3,623.1 144.5,633.4 144.8,627.2 145.0,625.9 145.3,626.1 145.6,628.0 145.8,631.0 146.1,628.1 146.3,627.3 146.6,635.3 146.9,632.8 147.1,626.5 147.4,635.6 147.6,624.7 147.9,624.3 148.2,630.8 148.4,635.8 148.7,632.1 148.9,626.9 149.2,628.9 149.4,628.1 149.7,622.1 150.0,625.0 150.2,626.0 150.5,633.0 150.7,624.0 151.0,634.2 151.3,630.6 151.5,623.5 151.8,629.7 152.0,627.3 152.3,626.0 152.6,625.1 152.8,624.4 153.1,632.3 153.3,638.5 153.6,634.1 153.8,629.0 154.1,628.7 154.4,628.4 154.6,625.3 154.9,626.5 155.1,627.7 155.4,624.9 155.7,623.7 155.9,638.7 156.2,629.9 156.4,628.7 156.7,630.5 156.9,628.5 157.2,619.6 157.5,618.1 157.7,629.4 158.0,619.3 158.2,625.7 158.5,625.9 158.8,630.5 159.0,626.6 159.3,630.5 159.5,629.9 159.8,627.7 160.1,627.4 160.3,629.7 160.6,629.5 160.8,628.5 161.1,628.9 161.3,626.7 161.6,626.8 161.9,623.0 162.1,621.8 162.4,629.0 162.6,626.9 162.9,620.3 163.2,631.0 163.4,627.6 163.7,626.8 163.9,622.4 164.2,627.7 164.5,623.6 164.7,627.5 165.0,625.7 165.2,627.0 165.5,629.2 165.7,633.5 166.0,633.2 166.3,632.2 166.5,630.5 166.8,629.7 167.0,625.2 167.3,624.5 167.6,625.7 167.8,627.4 168.1,622.9 168.3,627.0 168.6,632.1 168.9,628.2 169.1,626.2 169.4,625.3 169.6,625.9 169.9,629.7 170.1,627.7 170.4,624.6 170.7,624.6 170.9,629.6 171.2,635.7 171.4,629.0 171.7,625.6 172.0,625.3 172.2,627.6 172.5,636.8 172.7,621.9 173.0,633.5 173.3,630.0 173.5,626.2 173.8,628.9 174.0,630.9 174.3,621.9 174.5,628.7 174.8,637.9 175.1,627.3 175.3,629.9 175.6,627.4 175.8,627.7 176.1,622.5 176.4,632.6 176.6,635.1 176.9,627.7 177.1,627.3 177.4,624.5 177.7,616.4 177.9,622.7 178.2,629.4 178.4,625.7 178.7,625.2 178.9,630.3 179.2,630.6 179.5,626.3 179.7,616.6 180.0,631.0 180.2,627.1 180.5,627.8 180.8,629.5 181.0,630.7 181.3,627.4 181.5,629.9 181.8,624.0 182.0,624.8 182.3,620.6 182.6,631.1 182.8,627.6 183.1,627.0 183.3,628.4 183.6,625.9 183.9,631.4 184.1,627.3 184.4,634.7 184.6,632.9 184.9,628.5 185.2,626.0 185.4,617.4 185.7,623.3 185.9,623.6 186.2,631.6 186.4,627.1 186.7,627.1 187.0,627.6 187.2,631.9 187.5,623.3 187.7,627.1 188.0,633.2 188.3,628.2 188.5,627.7 188.8,624.9 189.0,624.0 189.3,623.8 189.6,624.1 189.8,622.6 190.1,624.9 190.3,628.6 190.6,628.3 190.8,626.8 191.1,635.1 191.4,626.6 191.6,619.7 191.9,623.6 192.1,638.7 192.4,630.1 192.7,627.0 192.9,628.9 193.2,631.3 193.4,625.1 193.7,623.5 194.0,628.7 194.2,623.1 194.5,622.5 194.7,629.2 195.0,628.3 195.2,631.3 195.5,629.3 195.8,627.3 196.0,622.0 196.3,622.3 196.5,634.3 196.8,628.3 197.1,626.0 197.3,631.5 197.6,625.6 197.8,625.2 198.1,637.7 198.4,629.3 198.6,627.2 198.9,629.9 199.1,629.0 199.4,624.7 199.6,625.9 199.9,629.1 200.2,629.0 200.4,623.3 200.7,629.5 200.9,624.5 201.2,628.3 201.5,626.9 201.7,624.8 202.0,620.5 202.2,622.5 202.5,632.7 202.8,627.9 203.0,626.5 203.3,632.5 203.5,626.5 203.8,625.3 204.0,626.5 204.3,629.7 204.6,628.1 204.8,621.1 205.1,624.3 205.3,629.0 205.6,628.2 205.9,631.3 206.1,633.0 206.4,629.9 206.6,634.3 206.9,630.6 207.1,634.8 207.4,630.9 207.7,629.3 207.9,625.3 208.2,627.5 208.4,637.2 208.7,631.5 209.0,619.7 209.2,632.4 209.5,620.5 209.7,634.9 210.0,632.9 210.3,626.2 210.5,628.7 210.8,630.4 211.0,626.5 211.3,631.7 211.5,625.1 211.8,632.8 212.1,624.1 212.3,629.6 212.6,634.3 212.8,630.8 213.1,631.8 213.4,624.5 213.6,628.2 213.9,632.2 214.1,623.8 214.4,624.7 214.7,624.6 214.9,629.9 215.2,628.2 215.4,632.1 215.7,624.2 215.9,628.3 216.2,628.0 216.5,627.6 216.7,635.2 217.0,632.3 217.2,622.5 217.5,630.2 217.8,629.6 218.0,625.3 218.3,629.2 218.5,628.1 218.8,627.1 219.1,628.1 219.3,627.3 219.6,627.4 219.8,634.7 220.1,627.2 220.3,628.1 220.6,628.0 220.9,628.1 221.1,627.7 221.4,625.8 221.6,630.7 221.9,625.4 222.2,631.0 222.4,629.1 222.7,629.7 222.9,620.7 223.2,619.7 223.5,629.5 223.7,635.2 224.0,627.6 224.2,628.1 224.5,627.2 224.7,628.9 225.0,626.1 225.3,625.4 225.5,619.5 225.8,625.8 226.0,625.3 226.3,632.5 226.6,627.9 226.8,620.2 227.1,637.9 227.3,623.4 227.6,621.6 227.8,629.9 228.1,627.5 228.4,633.8 228.6,624.3 228.9,627.3 229.1,626.9 229.4,638.4 229.7,628.0 229.9,631.5 230.2,625.6 230.4,623.9 230.7,628.9 231.0,626.4 231.2,635.7 231.5,629.1 231.7,629.1 232.0,638.8 232.2,626.2 232.5,626.7 232.8,628.4 233.0,627.3 233.3,625.3 233.5,632.9 233.8,632.7 234.1,629.1 234.3,625.2 234.6,626.1 234.8,627.4 235.1,633.3 235.4,625.5 235.6,630.0 235.9,631.0 236.1,633.3 236.4,629.6 236.6,628.8 236.9,629.6 237.2,629.3 237.4,623.9 237.7,625.1 237.9,618.6 238.2,631.1 238.5,631.2 238.7,630.9 239.0,631.4 239.2,627.2 239.5,627.1 239.8,625.2 240.0,630.2 240.3,629.1 240.5,632.3 240.8,628.6 241.0,624.5 241.3,627.8 241.6,621.7 241.8,628.1 242.1,628.0 242.3,629.3 242.6,625.3 242.9,625.9 243.1,630.4 243.4,622.7 243.6,628.2 243.9,626.8 244.2,636.7 244.4,629.4 244.7,626.1 244.9,628.8 245.2,626.0 245.4,619.5 245.7,626.9 246.0,625.3 246.2,628.0 246.5,630.2 246.7,628.8 247.0,630.9 247.3,630.5 247.5,628.0 247.8,628.1 248.0,626.8 248.3,624.9 248.6,632.0 248.8,627.3 249.1,626.8 249.3,630.5 249.6,627.2 249.8,632.6 250.1,626.0 250.4,629.2 250.6,627.1 250.9,624.0 251.1,621.9 251.4,626.8 251.7,630.3 251.9,627.6 252.2,628.6 252.4,627.5 252.7,627.7 252.9,621.3 253.2,624.8 253.5,622.9 253.7,627.1 254.0,628.0 254.2,625.9 254.5,619.1 254.8,624.8 255.0,619.6 255.3,624.2 255.5,631.7 255.8,628.3 256.1,627.7 256.3,628.5 256.6,626.5 256.8,630.3 257.1,628.1 257.3,634.4 257.6,638.8 257.9,634.5 258.1,626.6 258.4,624.2 258.6,626.6 258.9,631.3 259.2,631.6 259.4,627.3 259.7,625.6 259.9,634.5 260.2,622.4 260.5,623.5 260.7,622.9 261.0,631.3 261.2,633.4 261.5,636.0 261.7,631.4 262.0,627.0 262.3,629.5 262.5,634.5 262.8,628.8 263.0,625.8 263.3,630.6 263.6,639.4 263.8,635.5 264.1,632.2 264.3,624.5 264.6,623.7 264.9,626.8 265.1,625.0 265.4,625.1 265.6,625.5 265.9,620.3 266.1,623.4 266.4,629.9 266.7,630.6 266.9,638.0 267.2,631.7 267.4,631.5 267.7,634.6 268.0,627.4 268.2,631.0 268.5,636.1 268.7,629.7 269.0,634.2 269.3,636.1 269.5,636.6 269.8,629.7 270.0,626.0 270.3,631.9 270.5,623.5 270.8,630.9 271.1,627.8 271.3,627.3 271.6,627.5 271.8,631.3 272.1,628.0 272.4,631.7 272.6,633.2 272.9,628.9 273.1,624.6 273.4,627.6 273.7,628.0 273.9,626.0 274.2,624.1 274.4,624.5 274.7,620.7 274.9,629.8 275.2,630.3 275.5,630.4 275.7,622.4 276.0,635.4 276.2,626.4 276.5,630.9 276.8,627.6 277.0,622.1 277.3,629.8 277.5,631.1 277.8,629.2 278.0,624.7 278.3,627.7 278.6,628.8 278.8,628.4 279.1,627.9 279.3,631.8 279.6,634.6 279.9,629.8 280.1,622.4 280.4,630.0 280.6,623.4 280.9,630.3 281.2,627.2 281.4,627.4 281.7,630.5 281.9,628.7 282.2,628.9 282.4,633.2 282.7,626.6 283.0,622.1 283.2,623.6 283.5,628.8 283.7,630.0 284.0,630.8 284.3,628.6 284.5,630.0 284.8,628.3 285.0,625.3 285.3,627.4 285.6,628.3 285.8,629.6 286.1,625.7 286.3,629.9 286.6,627.1 286.8,627.7 287.1,626.8 287.4,628.0 287.6,627.0 287.9,634.9 288.1,632.5 288.4,626.3 288.7,633.4 288.9,629.8 289.2,624.8 289.4,629.7 289.7,637.6 290.0,627.9 290.2,622.8 290.5,630.0 290.7,631.5 291.0,630.3 291.2,632.5 291.5,625.1 291.8,631.7 292.0,630.8 292.3,627.2 292.5,627.8 292.8,628.2 293.1,624.2 293.3,625.6 293.6,627.7 293.8,628.1 294.1,624.7 294.4,626.5 294.6,627.3 294.9,631.9 295.1,629.8 295.4,627.3 295.6,628.5 295.9,627.9 296.2,627.0 296.4,631.5 296.7,629.3 296.9,632.0 297.2,624.2 297.5,633.5 297.7,628.8 298.0,622.1 298.2,629.1 298.5,621.5 298.7,634.7 299.0,625.5 299.3,627.1 299.5,623.6 299.8,627.2 300.0,618.5 300.3,628.4 300.6,613.8 300.8,623.6 301.1,627.2 301.3,624.2 301.6,630.6 301.9,628.9 302.1,629.8 302.4,629.7 302.6,634.1 302.9,624.7 303.1,627.9 303.4,624.9 303.7,631.5 303.9,623.7 304.2,632.3 304.4,627.0 304.7,632.6 305.0,624.8 305.2,620.7 305.5,624.9 305.7,627.4 306.0,625.8 306.3,624.6 306.5,626.4 306.8,629.1 307.0,630.5 307.3,626.3 307.5,629.5 307.8,631.1 308.1,625.6 308.3,637.1 308.6,628.3 308.8,628.7 309.1,632.5" fill="none" stroke="#fbb466" stroke-width="0.8" stroke-linejoin="round" clip-path="url(#c2)"/><rect x="50.5" y="613.5" width="259" height="30" fill="none" stroke="#6e6e6e" stroke-width="0.8"/><rect x="312.4" y="618.15" width="2.6" height="1.5" fill="#fbb466"/><rect x="312.4" y="620.65" width="8.3" height="1.5" fill="#fbb466"/><rect x="312.4" y="623.15" width="22.6" height="1.5" fill="#fbb466"/><rect x="312.4" y="625.95" width="29.7" height="1.5" fill="#fbb466"/><rect x="312.4" y="628.85" width="34" height="1.5" fill="#fbb466"/><rect x="312.4" y="631.35" width="24.5" height="1.5" fill="#fbb466"/><rect x="312.4" y="634.25" width="11.9" height="1.5" fill="#fbb466"/><rect x="312.4" y="636.85" width="4" height="1.5" fill="#fbb466"/><rect x="312.5" y="613.5" width="36" height="30" fill="none" stroke="#6e6e6e" stroke-width="0.8"/><line x1="48.5" y1="641.4" x2="50.5" y2="641.4" stroke="#444" stroke-width="0.5"/><line x1="310.9" y1="641.4" x2="312.4" y2="641.4" stroke="#444" stroke-width="0.5"/><text x="47.7" y="641.4" font-family='"Liberation Sans", sans-serif' font-size="3.6" font-weight="normal" fill="#333" text-anchor="end" dominant-baseline="central">297</text><line x1="48.5" y1="633.7" x2="50.5" y2="633.7" stroke="#444" stroke-width="0.5"/><line x1="310.9" y1="633.7" x2="312.4" y2="633.7" stroke="#444" stroke-width="0.5"/><text x="47.7" y="633.7" font-family='"Liberation Sans", sans-serif' font-size="3.6" font-weight="normal" fill="#333" text-anchor="end" dominant-baseline="central">300</text><line x1="48.5" y1="626" x2="50.5" y2="626" stroke="#444" stroke-width="0.5"/><line x1="310.9" y1="626" x2="312.4" y2="626" stroke="#444" stroke-width="0.5"/><text x="47.7" y="626" font-family='"Liberation Sans", sans-serif' font-size="3.6" font-weight="normal" fill="#333" text-anchor="end" dominant-baseline="central">303</text><line x1="48.5" y1="618.3" x2="50.5" y2="618.3" stroke="#444" stroke-width="0.5"/><line x1="310.9" y1="618.3" x2="312.4" y2="618.3" stroke="#444" stroke-width="0.5"/><text x="47.7" y="618.3" font-family='"Liberation Sans", sans-serif' font-size="3.6" font-weight="normal" fill="#333" text-anchor="end" dominant-baseline="central">306</text><text x="34.6" y="628.3" font-family='"Liberation Sans", sans-serif' font-size="4.4" font-weight="normal" fill="#333" text-anchor="middle" dominant-baseline="central" transform="rotate(-90 34.6 628.3)">MolSA (Å²)</text><polyline points="50.6,664.3 50.9,665.7 51.1,665.7 51.4,663.6 51.6,664.5 51.9,661.0 52.2,663.3 52.4,662.5 52.7,663.5 52.9,663.3 53.2,663.9 53.4,665.1 53.7,662.4 54.0,666.8 54.2,663.2 54.5,662.4 54.7,666.6 55.0,666.2 55.3,662.2 55.5,661.1 55.8,664.4 56.0,663.2 56.3,660.5 56.6,662.6 56.8,666.9 57.1,664.4 57.3,664.0 57.6,666.1 57.8,664.6 58.1,664.2 58.4,666.9 58.6,664.7 58.9,664.4 59.1,665.3 59.4,666.4 59.7,667.1 59.9,668.6 60.2,665.1 60.4,664.6 60.7,666.1 61.0,663.8 61.2,662.5 61.5,663.8 61.7,663.1 62.0,665.6 62.2,665.9 62.5,664.2 62.8,665.7 63.0,666.1 63.3,664.8 63.5,665.2 63.8,665.8 64.1,665.4 64.3,665.2 64.6,665.3 64.8,664.1 65.1,665.4 65.3,665.5 65.6,667.4 65.9,667.4 66.1,664.6 66.4,665.2 66.6,666.3 66.9,664.4 67.2,666.5 67.4,661.6 67.7,665.1 67.9,665.3 68.2,665.1 68.5,667.1 68.7,664.7 69.0,668.7 69.2,666.6 69.5,662.5 69.7,663.7 70.0,665.6 70.3,664.6 70.5,663.8 70.8,664.5 71.0,663.0 71.3,659.7 71.6,662.5 71.8,665.5 72.1,664.0 72.3,665.3 72.6,665.8 72.9,663.2 73.1,665.4 73.4,664.8 73.6,662.2 73.9,669.4 74.1,665.3 74.4,665.2 74.7,658.5 74.9,658.8 75.2,658.2 75.4,658.3 75.7,658.2 76.0,656.1 76.2,660.8 76.5,662.1 76.7,661.9 77.0,662.0 77.3,663.6 77.5,659.0 77.8,661.7 78.0,661.3 78.3,664.8 78.5,659.5 78.8,654.6 79.1,658.3 79.3,661.9 79.6,659.9 79.8,659.2 80.1,659.1 80.4,660.1 80.6,657.9 80.9,657.5 81.1,656.6 81.4,656.3 81.7,657.4 81.9,657.9 82.2,660.4 82.4,659.2 82.7,662.7 82.9,658.7 83.2,661.1 83.5,659.1 83.7,657.9 84.0,657.4 84.2,659.1 84.5,660.4 84.8,655.4 85.0,662.7 85.3,660.6 85.5,660.1 85.8,662.6 86.0,660.9 86.3,661.3 86.6,660.5 86.8,658.4 87.1,661.1 87.3,656.3 87.6,659.2 87.9,654.7 88.1,657.6 88.4,659.3 88.6,659.8 88.9,659.8 89.2,662.5 89.4,665.2 89.7,662.2 89.9,660.7 90.2,659.8 90.4,661.3 90.7,661.8 91.0,658.0 91.2,661.4 91.5,659.4 91.7,658.5 92.0,660.6 92.3,659.2 92.5,657.8 92.8,654.9 93.0,659.0 93.3,659.5 93.6,660.5 93.8,661.5 94.1,660.3 94.3,659.3 94.6,660.3 94.8,662.2 95.1,660.6 95.4,661.1 95.6,659.1 95.9,658.8 96.1,660.7 96.4,656.6 96.7,658.7 96.9,656.6 97.2,659.6 97.4,659.1 97.7,661.2 98.0,657.8 98.2,663.9 98.5,660.7 98.7,659.7 99.0,655.4 99.2,657.8 99.5,657.6 99.8,652.6 100.0,655.7 100.3,657.0 100.5,659.3 100.8,661.8 101.1,659.5 101.3,661.1 101.6,657.4 101.8,658.4 102.1,655.8 102.4,658.7 102.6,657.9 102.9,656.9 103.1,659.0 103.4,660.3 103.6,663.8 103.9,662.4 104.2,663.9 104.4,663.0 104.7,660.7 104.9,667.0 105.2,667.9 105.5,666.0 105.7,663.6 106.0,664.6 106.2,669.7 106.5,664.4 106.8,665.3 107.0,664.0 107.3,666.7 107.5,662.1 107.8,662.7 108.0,663.6 108.3,664.1 108.6,664.7 108.8,664.0 109.1,665.4 109.3,666.7 109.6,662.9 109.9,667.9 110.1,663.4 110.4,664.7 110.6,665.8 110.9,665.5 111.1,665.7 111.4,668.2 111.7,664.2 111.9,663.8 112.2,668.7 112.4,665.1 112.7,664.6 113.0,665.7 113.2,668.1 113.5,667.5 113.7,670.1 114.0,668.4 114.3,663.9 114.5,668.8 114.8,670.5 115.0,669.0 115.3,668.2 115.5,667.9 115.8,669.8 116.1,667.4 116.3,669.6 116.6,668.6 116.8,668.0 117.1,671.5 117.4,668.5 117.6,671.0 117.9,669.0 118.1,668.2 118.4,667.1 118.7,665.7 118.9,666.5 119.2,665.9 119.4,665.1 119.7,665.0 119.9,667.0 120.2,664.0 120.5,661.2 120.7,662.6 121.0,663.4 121.2,662.8 121.5,662.7 121.8,662.5 122.0,662.0 122.3,663.5 122.5,659.7 122.8,656.9 123.1,661.6 123.3,658.0 123.6,659.8 123.8,662.9 124.1,664.5 124.3,663.5 124.6,667.1 124.9,669.2 125.1,664.0 125.4,666.6 125.6,664.4 125.9,662.7 126.2,662.4 126.4,666.4 126.7,663.0 126.9,665.0 127.2,669.6 127.5,667.3 127.7,671.3 128.0,669.8 128.2,672.7 128.5,668.4 128.7,668.5 129.0,668.9 129.3,667.1 129.5,665.3 129.8,670.6 130.0,667.1 130.3,666.5 130.6,669.9 130.8,670.7 131.1,665.1 131.3,666.2 131.6,668.4 131.9,668.5 132.1,666.1 132.4,668.9 132.6,667.3 132.9,673.1 133.1,671.6 133.4,667.3 133.7,666.8 133.9,664.9 134.2,667.8 134.4,663.6 134.7,667.6 135.0,665.7 135.2,664.4 135.5,672.6 135.7,670.2 136.0,669.9 136.2,672.5 136.5,673.0 136.8,667.7 137.0,669.1 137.3,670.5 137.5,667.9 137.8,668.4 138.1,666.9 138.3,667.0 138.6,669.5 138.8,669.3 139.1,672.4 139.4,667.7 139.6,668.8 139.9,668.5 140.1,667.8 140.4,668.6 140.6,666.9 140.9,665.0 141.2,669.3 141.4,665.9 141.7,665.3 141.9,665.3 142.2,663.9 142.5,662.7 142.7,667.1 143.0,664.1 143.2,660.7 143.5,660.1 143.8,658.3 144.0,661.5 144.3,657.2 144.5,656.6 144.8,659.0 145.0,657.0 145.3,658.5 145.6,659.3 145.8,658.0 146.1,656.5 146.3,654.2 146.6,658.7 146.9,658.8 147.1,660.0 147.4,657.5 147.6,656.7 147.9,657.8 148.2,656.7 148.4,658.3 148.7,658.3 148.9,653.9 149.2,654.7 149.4,655.9 149.7,652.5 150.0,654.7 150.2,653.6 150.5,651.3 150.7,654.1 151.0,657.4 151.3,654.1 151.5,654.7 151.8,655.4 152.0,655.3 152.3,651.5 152.6,652.2 152.8,654.8 153.1,656.6 153.3,654.6 153.6,655.9 153.8,655.3 154.1,653.4 154.4,653.4 154.6,651.2 154.9,652.3 155.1,656.2 155.4,657.0 155.7,658.8 155.9,659.1 156.2,660.4 156.4,657.2 156.7,655.8 156.9,659.2 157.2,654.9 157.5,656.9 157.7,657.5 158.0,654.2 158.2,656.5 158.5,659.1 158.8,657.7 159.0,657.6 159.3,655.2 159.5,654.5 159.8,655.6 160.1,658.0 160.3,651.5 160.6,656.5 160.8,657.6 161.1,656.5 161.3,656.1 161.6,656.2 161.9,656.6 162.1,659.0 162.4,657.4 162.6,656.9 162.9,658.6 163.2,658.7 163.4,655.3 163.7,661.7 163.9,656.6 164.2,658.8 164.5,659.5 164.7,659.4 165.0,661.8 165.2,662.7 165.5,658.2 165.7,660.3 166.0,661.7 166.3,664.1 166.5,662.1 166.8,663.6 167.0,665.9 167.3,665.6 167.6,665.6 167.8,665.4 168.1,665.0 168.3,669.2 168.6,664.3 168.9,668.8 169.1,665.8 169.4,668.3 169.6,667.8 169.9,668.8 170.1,663.9 170.4,668.7 170.7,670.2 170.9,669.2 171.2,669.7 171.4,670.4 171.7,665.3 172.0,667.1 172.2,670.0 172.5,665.2 172.7,666.7 173.0,664.2 173.3,668.3 173.5,667.9 173.8,665.5 174.0,665.3 174.3,665.3 174.5,666.8 174.8,666.5 175.1,671.2 175.3,669.0 175.6,664.8 175.8,665.1 176.1,667.2 176.4,665.6 176.6,664.0 176.9,664.9 177.1,660.5 177.4,666.0 177.7,665.3 177.9,665.1 178.2,669.0 178.4,665.8 178.7,668.1 178.9,668.2 179.2,661.8 179.5,667.4 179.7,664.8 180.0,664.2 180.2,663.5 180.5,665.3 180.8,669.5 181.0,669.4 181.3,669.0 181.5,671.4 181.8,668.6 182.0,668.2 182.3,667.2 182.6,668.6 182.8,669.4 183.1,663.5 183.3,666.8 183.6,666.6 183.9,667.0 184.1,665.5 184.4,664.7 184.6,663.7 184.9,665.1 185.2,666.4 185.4,668.1 185.7,666.1 185.9,670.2 186.2,668.1 186.4,667.4 186.7,667.0 187.0,669.6 187.2,667.5 187.5,664.3 187.7,666.8 188.0,667.0 188.3,667.2 188.5,667.0 188.8,665.7 189.0,663.3 189.3,666.2 189.6,664.4 189.8,664.6 190.1,666.5 190.3,667.2 190.6,666.8 190.8,665.9 191.1,666.2 191.4,666.5 191.6,668.3 191.9,666.2 192.1,667.1 192.4,665.1 192.7,670.5 192.9,669.8 193.2,667.6 193.4,664.7 193.7,667.1 194.0,665.1 194.2,662.9 194.5,666.2 194.7,665.6 195.0,671.4 195.2,667.8 195.5,663.8 195.8,664.4 196.0,663.8 196.3,667.0 196.5,667.2 196.8,663.1 197.1,660.9 197.3,661.5 197.6,663.7 197.8,658.2 198.1,660.2 198.4,662.6 198.6,663.3 198.9,662.6 199.1,665.3 199.4,664.5 199.6,665.7 199.9,664.8 200.2,662.1 200.4,664.5 200.7,666.5 200.9,668.5 201.2,666.4 201.5,664.8 201.7,664.7 202.0,670.2 202.2,668.3 202.5,668.3 202.8,669.2 203.0,669.2 203.3,668.1 203.5,668.2 203.8,665.6 204.0,670.9 204.3,670.2 204.6,674.7 204.8,669.0 205.1,673.1 205.3,666.5 205.6,670.1 205.9,667.2 206.1,669.5 206.4,668.7 206.6,668.6 206.9,669.1 207.1,670.5 207.4,669.4 207.7,666.3 207.9,672.9 208.2,669.4 208.4,669.0 208.7,672.2 209.0,668.9 209.2,669.4 209.5,669.2 209.7,670.7 210.0,671.0 210.3,673.9 210.5,669.1 210.8,672.1 211.0,668.9 211.3,669.4 211.5,668.0 211.8,668.3 212.1,672.4 212.3,674.1 212.6,674.1 212.8,674.7 213.1,672.1 213.4,672.4 213.6,673.2 213.9,669.9 214.1,671.8 214.4,666.1 214.7,668.3 214.9,672.1 215.2,669.5 215.4,669.0 215.7,669.7 215.9,667.7 216.2,668.0 216.5,670.1 216.7,669.6 217.0,670.3 217.2,668.2 217.5,669.2 217.8,672.1 218.0,670.9 218.3,672.5 218.5,673.6 218.8,669.6 219.1,672.2 219.3,671.4 219.6,670.6 219.8,672.9 220.1,669.6 220.3,666.7 220.6,668.7 220.9,669.0 221.1,671.4 221.4,668.4 221.6,671.6 221.9,670.5 222.2,669.2 222.4,670.2 222.7,669.2 222.9,666.7 223.2,668.6 223.5,669.7 223.7,672.4 224.0,668.7 224.2,669.6 224.5,668.8 224.7,671.2 225.0,671.4 225.3,669.4 225.5,671.0 225.8,668.9 226.0,667.8 226.3,670.1 226.6,674.5 226.8,673.3 227.1,672.4 227.3,669.8 227.6,672.9 227.8,669.5 228.1,672.0 228.4,670.7 228.6,668.7 228.9,669.5 229.1,667.7 229.4,670.3 229.7,671.9 229.9,671.3 230.2,669.9 230.4,668.6 230.7,672.2 231.0,669.9 231.2,669.1 231.5,667.0 231.7,673.0 232.0,669.5 232.2,668.0 232.5,668.2 232.8,669.9 233.0,669.5 233.3,669.4 233.5,672.0 233.8,669.4 234.1,669.6 234.3,668.2 234.6,669.4 234.8,667.2 235.1,667.9 235.4,668.5 235.6,670.2 235.9,671.0 236.1,668.2 236.4,670.1 236.6,667.1 236.9,672.2 237.2,666.8 237.4,666.0 237.7,664.2 237.9,665.7 238.2,671.0 238.5,668.3 238.7,670.9 239.0,668.2 239.2,669.6 239.5,666.2 239.8,671.0 240.0,670.2 240.3,668.3 240.5,669.3 240.8,669.4 241.0,666.7 241.3,664.3 241.6,666.4 241.8,666.6 242.1,668.4 242.3,668.4 242.6,669.8 242.9,665.7 243.1,665.7 243.4,667.3 243.6,668.8 243.9,669.7 244.2,665.1 244.4,665.1 244.7,666.5 244.9,667.9 245.2,668.9 245.4,670.4 245.7,669.4 246.0,668.3 246.2,665.8 246.5,665.9 246.7,664.7 247.0,667.0 247.3,667.7 247.5,666.5 247.8,669.4 248.0,663.4 248.3,668.8 248.6,668.6 248.8,669.6 249.1,669.5 249.3,670.0 249.6,666.1 249.8,668.4 250.1,668.6 250.4,663.6 250.6,668.1 250.9,669.5 251.1,667.8 251.4,666.5 251.7,667.9 251.9,668.1 252.2,668.8 252.4,667.7 252.7,663.3 252.9,668.1 253.2,670.6 253.5,671.4 253.7,668.9 254.0,668.9 254.2,667.4 254.5,671.7 254.8,669.6 255.0,666.4 255.3,666.9 255.5,662.1 255.8,666.8 256.1,666.4 256.3,665.7 256.6,665.2 256.8,669.9 257.1,669.9 257.3,669.7 257.6,667.6 257.9,664.8 258.1,666.4 258.4,667.4 258.6,668.7 258.9,668.9 259.2,667.2 259.4,669.2 259.7,670.9 259.9,665.8 260.2,664.3 260.5,664.2 260.7,668.7 261.0,669.1 261.2,666.6 261.5,668.2 261.7,667.6 262.0,670.0 262.3,668.3 262.5,666.9 262.8,668.0 263.0,666.7 263.3,670.8 263.6,666.1 263.8,669.1 264.1,668.4 264.3,667.7 264.6,669.3 264.9,669.5 265.1,666.3 265.4,667.2 265.6,666.2 265.9,667.8 266.1,667.5 266.4,666.5 266.7,662.8 266.9,666.0 267.2,662.6 267.4,660.8 267.7,662.7 268.0,662.6 268.2,663.1 268.5,662.3 268.7,661.7 269.0,663.7 269.3,664.8 269.5,662.4 269.8,663.9 270.0,663.4 270.3,663.6 270.5,664.1 270.8,664.4 271.1,661.9 271.3,661.0 271.6,665.2 271.8,662.6 272.1,665.0 272.4,665.9 272.6,668.9 272.9,665.3 273.1,665.6 273.4,667.9 273.7,662.3 273.9,661.7 274.2,661.3 274.4,661.7 274.7,662.3 274.9,664.5 275.2,660.2 275.5,664.1 275.7,664.7 276.0,665.6 276.2,664.7 276.5,663.5 276.8,664.8 277.0,665.3 277.3,663.2 277.5,661.3 277.8,659.8 278.0,661.6 278.3,662.0 278.6,662.8 278.8,665.3 279.1,667.0 279.3,665.1 279.6,663.4 279.9,666.6 280.1,662.6 280.4,662.3 280.6,659.3 280.9,664.3 281.2,658.4 281.4,663.8 281.7,664.3 281.9,667.9 282.2,664.4 282.4,664.4 282.7,665.5 283.0,667.4 283.2,664.1 283.5,662.4 283.7,662.3 284.0,661.0 284.3,663.4 284.5,663.5 284.8,660.8 285.0,663.3 285.3,662.3 285.6,664.1 285.8,663.3 286.1,664.3 286.3,664.7 286.6,663.1 286.8,663.7 287.1,661.6 287.4,665.9 287.6,668.7 287.9,670.1 288.1,665.6 288.4,663.1 288.7,663.5 288.9,665.7 289.2,663.8 289.4,662.9 289.7,663.9 290.0,662.4 290.2,663.9 290.5,665.9 290.7,663.7 291.0,658.8 291.2,663.6 291.5,662.5 291.8,666.4 292.0,662.4 292.3,661.6 292.5,661.8 292.8,665.1 293.1,664.6 293.3,665.7 293.6,665.1 293.8,663.0 294.1,666.3 294.4,670.7 294.6,668.0 294.9,668.2 295.1,666.2 295.4,662.9 295.6,664.1 295.9,666.1 296.2,669.3 296.4,667.9 296.7,670.1 296.9,668.7 297.2,667.7 297.5,672.5 297.7,669.4 298.0,670.5 298.2,669.8 298.5,667.9 298.7,673.5 299.0,670.7 299.3,672.7 299.5,668.3 299.8,668.0 300.0,662.8 300.3,669.3 300.6,668.7 300.8,663.5 301.1,666.9 301.3,667.1 301.6,668.3 301.9,665.8 302.1,668.5 302.4,667.8 302.6,667.3 302.9,666.2 303.1,666.5 303.4,668.3 303.7,669.6 303.9,669.9 304.2,667.9 304.4,667.3 304.7,667.3 305.0,665.7 305.2,669.6 305.5,663.5 305.7,665.8 306.0,663.0 306.3,668.2 306.5,667.3 306.8,666.6 307.0,668.6 307.3,667.4 307.5,666.2 307.8,669.9 308.1,669.1 308.3,668.4 308.6,665.5 308.8,668.9 309.1,669.1" fill="none" stroke="#a3cbe6" stroke-width="0.8" stroke-linejoin="round" clip-path="url(#c3)"/><rect x="50.5" y="648.5" width="259" height="30" fill="none" stroke="#6e6e6e" stroke-width="0.8"/><rect x="312.4" y="650.25" width="1" height="1.5" fill="#a3cbe6"/><rect x="312.4" y="653.15" width="5.5" height="1.5" fill="#a3cbe6"/><rect x="312.4" y="655.65" width="9" height="1.5" fill="#a3cbe6"/><rect x="312.4" y="658.55" width="12.6" height="1.5" fill="#a3cbe6"/><rect x="312.4" y="661.35" width="14.5" height="1.5" fill="#a3cbe6"/><rect x="312.4" y="663.95" width="21.2" height="1.5" fill="#a3cbe6"/><rect x="312.4" y="666.65" width="27.3" height="1.5" fill="#a3cbe6"/><rect x="312.4" y="669.55" width="33.3" height="1.5" fill="#a3cbe6"/><rect x="312.4" y="672.15" width="17.6" height="1.5" fill="#a3cbe6"/><rect x="312.4" y="674.65" width="3" height="1.5" fill="#a3cbe6"/><rect x="312.5" y="648.5" width="36" height="30" fill="none" stroke="#6e6e6e" stroke-width="0.8"/><line x1="48.5" y1="672.44" x2="50.5" y2="672.44" stroke="#444" stroke-width="0.5"/><line x1="310.9" y1="672.44" x2="312.4" y2="672.44" stroke="#444" stroke-width="0.5"/><text x="47.7" y="672.44" font-family='"Liberation Sans", sans-serif' font-size="3.6" font-weight="normal" fill="#333" text-anchor="end" dominant-baseline="central">40</text><line x1="48.5" y1="664" x2="50.5" y2="664" stroke="#444" stroke-width="0.5"/><line x1="310.9" y1="664" x2="312.4" y2="664" stroke="#444" stroke-width="0.5"/><text x="47.7" y="664" font-family='"Liberation Sans", sans-serif' font-size="3.6" font-weight="normal" fill="#333" text-anchor="end" dominant-baseline="central">80</text><line x1="48.5" y1="655.56" x2="50.5" y2="655.56" stroke="#444" stroke-width="0.5"/><line x1="310.9" y1="655.56" x2="312.4" y2="655.56" stroke="#444" stroke-width="0.5"/><text x="47.7" y="655.56" font-family='"Liberation Sans", sans-serif' font-size="3.6" font-weight="normal" fill="#333" text-anchor="end" dominant-baseline="central">120</text><text x="34.6" y="663.6" font-family='"Liberation Sans", sans-serif' font-size="4.4" font-weight="normal" fill="#333" text-anchor="middle" dominant-baseline="central" transform="rotate(-90 34.6 663.6)">SASA (Å²)</text><polyline points="50.6,696.1 50.9,700.0 51.1,705.8 51.4,702.1 51.6,700.0 51.9,703.0 52.2,699.1 52.4,695.6 52.7,695.6 52.9,695.6 53.2,699.1 53.4,698.1 53.7,691.4 54.0,695.8 54.2,689.9 54.5,694.9 54.7,701.7 55.0,696.9 55.3,697.1 55.5,695.8 55.8,700.3 56.0,699.5 56.3,692.1 56.6,693.3 56.8,699.3 57.1,694.3 57.3,700.7 57.6,698.2 57.8,698.3 58.1,698.7 58.4,701.4 58.6,699.4 58.9,703.3 59.1,701.3 59.4,694.7 59.7,696.9 59.9,698.9 60.2,696.5 60.4,693.1 60.7,695.0 61.0,699.5 61.2,686.6 61.5,693.1 61.7,702.8 62.0,699.1 62.2,694.6 62.5,692.9 62.8,702.4 63.0,700.3 63.3,698.7 63.5,700.6 63.8,691.9 64.1,702.6 64.3,691.6 64.6,697.8 64.8,703.6 65.1,701.6 65.3,704.9 65.6,700.2 65.9,695.4 66.1,700.8 66.4,711.7 66.6,701.7 66.9,694.2 67.2,696.6 67.4,695.5 67.7,699.2 67.9,702.0 68.2,697.0 68.5,702.0 68.7,695.4 69.0,699.2 69.2,699.4 69.5,695.3 69.7,697.4 70.0,694.5 70.3,697.2 70.5,697.3 70.8,700.5 71.0,693.7 71.3,698.9 71.6,699.0 71.8,701.7 72.1,697.9 72.3,700.0 72.6,698.3 72.9,692.1 73.1,701.2 73.4,701.5 73.6,699.4 73.9,698.3 74.1,697.5 74.4,700.2 74.7,698.4 74.9,695.2 75.2,689.1 75.4,700.0 75.7,697.7 76.0,705.6 76.2,697.5 76.5,692.8 76.7,692.2 77.0,697.0 77.3,697.0 77.5,696.4 77.8,694.6 78.0,700.3 78.3,696.0 78.5,691.8 78.8,692.2 79.1,689.5 79.3,700.0 79.6,690.5 79.8,699.6 80.1,702.3 80.4,698.3 80.6,699.9 80.9,701.7 81.1,696.9 81.4,705.8 81.7,696.4 81.9,692.9 82.2,698.5 82.4,703.2 82.7,695.4 82.9,696.9 83.2,695.0 83.5,702.7 83.7,695.8 84.0,702.0 84.2,696.1 84.5,704.3 84.8,696.6 85.0,696.4 85.3,698.7 85.5,693.7 85.8,701.3 86.0,697.0 86.3,698.2 86.6,706.4 86.8,696.0 87.1,702.2 87.3,697.6 87.6,702.1 87.9,699.3 88.1,697.3 88.4,696.3 88.6,702.3 88.9,697.5 89.2,694.8 89.4,696.3 89.7,692.8 89.9,700.9 90.2,696.4 90.4,694.2 90.7,694.9 91.0,697.9 91.2,700.4 91.5,699.3 91.7,693.7 92.0,698.5 92.3,700.1 92.5,700.8 92.8,697.9 93.0,697.1 93.3,693.8 93.6,699.2 93.8,695.7 94.1,698.3 94.3,696.7 94.6,705.4 94.8,698.5 95.1,705.8 95.4,696.1 95.6,695.7 95.9,696.7 96.1,700.2 96.4,700.2 96.7,699.8 96.9,696.8 97.2,700.0 97.4,700.7 97.7,697.6 98.0,696.8 98.2,702.4 98.5,698.6 98.7,696.4 99.0,696.9 99.2,688.9 99.5,699.8 99.8,695.1 100.0,692.4 100.3,706.2 100.5,699.5 100.8,699.3 101.1,693.7 101.3,694.6 101.6,698.0 101.8,693.0 102.1,694.2 102.4,695.0 102.6,695.6 102.9,697.6 103.1,698.8 103.4,696.6 103.6,695.5 103.9,697.2 104.2,696.3 104.4,696.0 104.7,701.1 104.9,702.0 105.2,701.4 105.5,701.6 105.7,699.5 106.0,701.8 106.2,700.3 106.5,701.5 106.8,700.0 107.0,701.0 107.3,699.9 107.5,696.5 107.8,701.5 108.0,704.3 108.3,699.8 108.6,696.5 108.8,693.7 109.1,696.9 109.3,697.0 109.6,691.3 109.9,700.9 110.1,697.8 110.4,696.2 110.6,697.0 110.9,696.6 111.1,701.4 111.4,698.4 111.7,697.0 111.9,693.3 112.2,693.6 112.4,699.4 112.7,703.1 113.0,699.6 113.2,693.1 113.5,699.3 113.7,699.0 114.0,699.1 114.3,696.7 114.5,699.5 114.8,699.0 115.0,705.5 115.3,700.8 115.5,698.4 115.8,695.6 116.1,697.6 116.3,696.2 116.6,697.6 116.8,702.6 117.1,698.8 117.4,695.8 117.6,696.5 117.9,699.6 118.1,702.4 118.4,700.3 118.7,696.6 118.9,699.2 119.2,699.9 119.4,696.4 119.7,698.8 119.9,696.5 120.2,696.8 120.5,698.4 120.7,694.9 121.0,700.2 121.2,693.7 121.5,700.8 121.8,699.5 122.0,699.3 122.3,694.7 122.5,700.7 122.8,693.5 123.1,701.2 123.3,696.1 123.6,699.1 123.8,702.7 124.1,696.4 124.3,698.5 124.6,699.6 124.9,694.2 125.1,698.1 125.4,695.7 125.6,693.5 125.9,692.5 126.2,696.8 126.4,698.3 126.7,701.6 126.9,695.8 127.2,703.1 127.5,698.2 127.7,699.4 128.0,703.0 128.2,699.1 128.5,696.5 128.7,698.9 129.0,695.3 129.3,702.3 129.5,700.1 129.8,699.6 130.0,694.1 130.3,701.8 130.6,698.6 130.8,702.7 131.1,705.1 131.3,700.9 131.6,700.1 131.9,702.5 132.1,710.0 132.4,703.2 132.6,695.1 132.9,694.4 133.1,694.8 133.4,695.9 133.7,701.6 133.9,697.1 134.2,698.9 134.4,702.0 134.7,701.0 135.0,698.0 135.2,701.3 135.5,701.6 135.7,699.8 136.0,697.4 136.2,693.9 136.5,709.1 136.8,703.3 137.0,708.8 137.3,695.3 137.5,696.6 137.8,700.6 138.1,704.9 138.3,696.3 138.6,696.4 138.8,700.1 139.1,704.5 139.4,695.5 139.6,698.0 139.9,696.7 140.1,698.9 140.4,692.0 140.6,695.8 140.9,700.2 141.2,693.0 141.4,695.7 141.7,703.3 141.9,702.2 142.2,697.9 142.5,693.2 142.7,701.1 143.0,698.9 143.2,693.9 143.5,702.9 143.8,691.5 144.0,696.1 144.3,695.0 144.5,700.9 144.8,695.7 145.0,696.2 145.3,697.0 145.6,702.0 145.8,696.8 146.1,691.2 146.3,694.5 146.6,697.4 146.9,696.6 147.1,701.6 147.4,696.8 147.6,695.9 147.9,698.7 148.2,698.4 148.4,701.0 148.7,697.0 148.9,698.7 149.2,691.8 149.4,703.1 149.7,701.7 150.0,697.1 150.2,695.5 150.5,703.2 150.7,698.6 151.0,703.1 151.3,702.9 151.5,704.1 151.8,698.1 152.0,688.6 152.3,701.8 152.6,695.7 152.8,703.7 153.1,701.6 153.3,699.2 153.6,700.2 153.8,698.2 154.1,702.8 154.4,701.2 154.6,697.7 154.9,693.2 155.1,693.6 155.4,693.9 155.7,699.4 155.9,694.3 156.2,700.0 156.4,703.1 156.7,701.9 156.9,700.8 157.2,698.4 157.5,696.4 157.7,695.0 158.0,700.7 158.2,694.8 158.5,699.8 158.8,706.4 159.0,694.8 159.3,703.1 159.5,694.7 159.8,697.4 160.1,699.0 160.3,695.7 160.6,705.2 160.8,696.6 161.1,698.7 161.3,700.2 161.6,697.3 161.9,698.4 162.1,700.6 162.4,701.8 162.6,705.2 162.9,696.6 163.2,703.1 163.4,695.4 163.7,698.2 163.9,697.8 164.2,700.9 164.5,702.5 164.7,699.4 165.0,701.2 165.2,697.9 165.5,700.8 165.7,702.0 166.0,693.8 166.3,694.8 166.5,700.4 166.8,697.1 167.0,691.5 167.3,688.9 167.6,698.4 167.8,696.0 168.1,699.8 168.3,700.5 168.6,693.8 168.9,701.0 169.1,703.0 169.4,702.8 169.6,691.7 169.9,698.8 170.1,698.3 170.4,698.4 170.7,697.2 170.9,700.9 171.2,696.4 171.4,700.5 171.7,700.2 172.0,696.3 172.2,698.3 172.5,689.8 172.7,699.0 173.0,699.4 173.3,697.3 173.5,698.2 173.8,695.3 174.0,693.6 174.3,692.5 174.5,698.7 174.8,698.6 175.1,695.1 175.3,696.2 175.6,695.4 175.8,698.8 176.1,698.2 176.4,697.8 176.6,699.1 176.9,706.6 177.1,698.9 177.4,693.4 177.7,697.6 177.9,703.6 178.2,699.3 178.4,701.6 178.7,696.3 178.9,697.7 179.2,698.1 179.5,703.0 179.7,695.0 180.0,697.2 180.2,699.8 180.5,699.5 180.8,703.7 181.0,695.0 181.3,694.0 181.5,701.1 181.8,700.0 182.0,699.1 182.3,695.9 182.6,694.7 182.8,700.2 183.1,698.0 183.3,697.9 183.6,703.7 183.9,694.9 184.1,699.1 184.4,697.7 184.6,695.6 184.9,692.6 185.2,699.9 185.4,698.5 185.7,696.8 185.9,690.9 186.2,699.3 186.4,696.6 186.7,693.1 187.0,699.7 187.2,696.5 187.5,699.5 187.7,699.4 188.0,692.4 188.3,695.5 188.5,695.5 188.8,693.7 189.0,697.0 189.3,692.6 189.6,692.1 189.8,695.7 190.1,698.2 190.3,697.5 190.6,700.3 190.8,693.0 191.1,697.8 191.4,698.1 191.6,699.2 191.9,700.4 192.1,693.2 192.4,698.7 192.7,695.0 192.9,698.6 193.2,702.6 193.4,700.0 193.7,698.5 194.0,700.8 194.2,698.3 194.5,701.2 194.7,696.8 195.0,698.9 195.2,708.5 195.5,702.3 195.8,692.9 196.0,696.7 196.3,694.6 196.5,696.8 196.8,705.2 197.1,701.1 197.3,695.3 197.6,702.2 197.8,698.6 198.1,697.7 198.4,696.0 198.6,699.3 198.9,698.9 199.1,695.8 199.4,695.9 199.6,694.6 199.9,698.4 200.2,701.9 200.4,698.4 200.7,698.5 200.9,705.5 201.2,701.0 201.5,703.1 201.7,699.0 202.0,695.9 202.2,703.9 202.5,701.1 202.8,703.2 203.0,697.8 203.3,706.2 203.5,692.2 203.8,701.0 204.0,701.4 204.3,699.7 204.6,697.5 204.8,698.5 205.1,698.1 205.3,693.2 205.6,692.7 205.9,691.5 206.1,700.7 206.4,694.8 206.6,706.3 206.9,696.2 207.1,697.6 207.4,698.2 207.7,698.7 207.9,700.4 208.2,703.1 208.4,695.6 208.7,699.3 209.0,698.6 209.2,698.7 209.5,696.8 209.7,700.1 210.0,694.7 210.3,700.9 210.5,705.2 210.8,696.6 211.0,698.0 211.3,697.0 211.5,695.5 211.8,694.7 212.1,699.9 212.3,699.4 212.6,699.4 212.8,700.1 213.1,696.9 213.4,694.6 213.6,702.8 213.9,698.2 214.1,701.0 214.4,698.4 214.7,695.6 214.9,700.5 215.2,697.7 215.4,692.6 215.7,696.0 215.9,693.9 216.2,695.4 216.5,695.0 216.7,703.0 217.0,692.0 217.2,696.8 217.5,698.5 217.8,694.4 218.0,695.7 218.3,699.8 218.5,696.9 218.8,700.3 219.1,699.0 219.3,696.0 219.6,698.8 219.8,696.5 220.1,697.5 220.3,694.8 220.6,694.2 220.9,697.8 221.1,699.1 221.4,701.7 221.6,699.4 221.9,703.1 222.2,699.2 222.4,702.3 222.7,692.8 222.9,694.6 223.2,694.0 223.5,698.0 223.7,696.9 224.0,698.4 224.2,695.5 224.5,696.2 224.7,698.1 225.0,699.0 225.3,696.2 225.5,697.7 225.8,698.1 226.0,694.7 226.3,689.9 226.6,693.9 226.8,698.8 227.1,687.6 227.3,701.3 227.6,696.5 227.8,699.5 228.1,695.0 228.4,692.2 228.6,701.1 228.9,698.2 229.1,695.4 229.4,700.6 229.7,703.4 229.9,699.9 230.2,697.9 230.4,698.4 230.7,699.0 231.0,696.9 231.2,696.9 231.5,698.7 231.7,694.4 232.0,689.4 232.2,698.4 232.5,693.9 232.8,695.6 233.0,694.1 233.3,699.4 233.5,696.2 233.8,699.6 234.1,697.2 234.3,693.7 234.6,697.9 234.8,701.6 235.1,700.4 235.4,698.6 235.6,698.7 235.9,695.4 236.1,697.2 236.4,686.4 236.6,698.2 236.9,702.6 237.2,695.5 237.4,699.0 237.7,692.5 237.9,697.2 238.2,698.1 238.5,695.5 238.7,699.1 239.0,701.1 239.2,692.7 239.5,697.7 239.8,699.7 240.0,701.3 240.3,698.9 240.5,700.1 240.8,697.1 241.0,705.9 241.3,695.9 241.6,694.8 241.8,700.9 242.1,696.5 242.3,699.5 242.6,700.1 242.9,701.4 243.1,690.1 243.4,698.6 243.6,699.9 243.9,697.3 244.2,692.3 244.4,697.7 244.7,693.4 244.9,694.1 245.2,695.8 245.4,701.7 245.7,698.4 246.0,696.6 246.2,699.0 246.5,701.1 246.7,702.2 247.0,693.6 247.3,700.4 247.5,697.1 247.8,692.4 248.0,699.1 248.3,697.3 248.6,704.4 248.8,701.0 249.1,694.2 249.3,698.7 249.6,701.1 249.8,700.8 250.1,694.5 250.4,697.4 250.6,692.1 250.9,698.1 251.1,691.5 251.4,692.6 251.7,698.3 251.9,695.3 252.2,693.6 252.4,695.2 252.7,702.3 252.9,701.2 253.2,697.0 253.5,705.3 253.7,698.0 254.0,698.0 254.2,701.1 254.5,700.1 254.8,702.1 255.0,705.6 255.3,701.2 255.5,693.5 255.8,706.2 256.1,694.4 256.3,695.3 256.6,692.2 256.8,691.0 257.1,698.2 257.3,698.2 257.6,702.1 257.9,703.7 258.1,695.3 258.4,700.3 258.6,697.6 258.9,696.5 259.2,701.0 259.4,701.0 259.7,695.3 259.9,699.4 260.2,702.2 260.5,700.3 260.7,693.9 261.0,698.5 261.2,693.2 261.5,697.0 261.7,700.3 262.0,702.5 262.3,703.3 262.5,698.6 262.8,701.6 263.0,699.3 263.3,697.2 263.6,699.6 263.8,701.0 264.1,700.8 264.3,699.1 264.6,696.0 264.9,691.2 265.1,696.7 265.4,690.6 265.6,700.3 265.9,699.7 266.1,703.9 266.4,700.2 266.7,700.7 266.9,698.7 267.2,695.1 267.4,694.8 267.7,698.1 268.0,700.4 268.2,693.2 268.5,692.8 268.7,692.3 269.0,695.7 269.3,695.0 269.5,696.0 269.8,693.0 270.0,703.5 270.3,694.5 270.5,701.5 270.8,695.1 271.1,696.6 271.3,700.2 271.6,700.1 271.8,698.2 272.1,703.7 272.4,695.8 272.6,694.2 272.9,695.8 273.1,699.1 273.4,699.0 273.7,695.0 273.9,697.2 274.2,701.5 274.4,700.5 274.7,701.8 274.9,693.1 275.2,692.5 275.5,701.1 275.7,702.0 276.0,697.0 276.2,697.7 276.5,700.6 276.8,707.2 277.0,697.0 277.3,701.6 277.5,701.0 277.8,699.7 278.0,698.0 278.3,691.5 278.6,685.9 278.8,703.1 279.1,697.7 279.3,696.6 279.6,700.9 279.9,700.0 280.1,702.8 280.4,699.1 280.6,698.4 280.9,700.7 281.2,702.2 281.4,699.6 281.7,690.7 281.9,698.4 282.2,698.5 282.4,701.0 282.7,697.2 283.0,698.6 283.2,699.7 283.5,699.5 283.7,693.1 284.0,706.4 284.3,703.2 284.5,695.0 284.8,690.0 285.0,699.2 285.3,703.9 285.6,702.2 285.8,702.8 286.1,702.2 286.3,700.4 286.6,698.6 286.8,699.0 287.1,710.8 287.4,699.8 287.6,695.9 287.9,695.0 288.1,694.3 288.4,701.0 288.7,697.5 288.9,696.7 289.2,697.9 289.4,701.9 289.7,701.2 290.0,696.3 290.2,692.8 290.5,696.9 290.7,698.6 291.0,701.1 291.2,702.0 291.5,696.6 291.8,692.2 292.0,694.9 292.3,692.7 292.5,691.5 292.8,695.1 293.1,699.0 293.3,700.3 293.6,699.1 293.8,694.5 294.1,694.9 294.4,698.1 294.6,698.9 294.9,706.1 295.1,698.2 295.4,698.3 295.6,702.1 295.9,700.6 296.2,698.2 296.4,697.4 296.7,699.1 296.9,706.6 297.2,699.1 297.5,698.8 297.7,696.5 298.0,691.4 298.2,700.6 298.5,700.7 298.7,696.9 299.0,697.9 299.3,701.1 299.5,699.4 299.8,693.4 300.0,695.9 300.3,699.6 300.6,702.1 300.8,704.0 301.1,706.0 301.3,704.3 301.6,692.0 301.9,702.4 302.1,701.1 302.4,696.3 302.6,688.0 302.9,691.9 303.1,693.8 303.4,695.3 303.7,702.2 303.9,702.9 304.2,700.3 304.4,698.0 304.7,703.6 305.0,695.5 305.2,699.3 305.5,707.2 305.7,700.4 306.0,699.2 306.3,691.7 306.5,697.0 306.8,705.0 307.0,693.4 307.3,702.0 307.5,696.9 307.8,697.5 308.1,696.5 308.3,698.4 308.6,694.7 308.8,696.4 309.1,701.3" fill="none" stroke="#b85a28" stroke-width="0.8" stroke-linejoin="round" clip-path="url(#c4)"/><rect x="50.5" y="684.5" width="259" height="29" fill="none" stroke="#6e6e6e" stroke-width="0.8"/><rect x="312.4" y="688.35" width="1.4" height="1.5" fill="#b85a28"/><rect x="312.4" y="691.15" width="7.9" height="1.5" fill="#b85a28"/><rect x="312.4" y="693.85" width="20.7" height="1.5" fill="#b85a28"/><rect x="312.4" y="696.65" width="31.6" height="1.5" fill="#b85a28"/><rect x="312.4" y="699.35" width="33.9" height="1.5" fill="#b85a28"/><rect x="312.4" y="702.15" width="18.5" height="1.5" fill="#b85a28"/><rect x="312.4" y="704.85" width="5.3" height="1.5" fill="#b85a28"/><rect x="312.4" y="707.55" width="1" height="1.5" fill="#b85a28"/><rect x="312.5" y="684.5" width="36" height="29" fill="none" stroke="#6e6e6e" stroke-width="0.8"/><line x1="48.5" y1="712.7" x2="50.5" y2="712.7" stroke="#444" stroke-width="0.5"/><line x1="310.9" y1="712.7" x2="312.4" y2="712.7" stroke="#444" stroke-width="0.5"/><text x="47.7" y="712.7" font-family='"Liberation Sans", sans-serif' font-size="3.6" font-weight="normal" fill="#333" text-anchor="end" dominant-baseline="central">165</text><line x1="48.5" y1="705.15" x2="50.5" y2="705.15" stroke="#444" stroke-width="0.5"/><line x1="310.9" y1="705.15" x2="312.4" y2="705.15" stroke="#444" stroke-width="0.5"/><text x="47.7" y="705.15" font-family='"Liberation Sans", sans-serif' font-size="3.6" font-weight="normal" fill="#333" text-anchor="end" dominant-baseline="central">170</text><line x1="48.5" y1="697.6" x2="50.5" y2="697.6" stroke="#444" stroke-width="0.5"/><line x1="310.9" y1="697.6" x2="312.4" y2="697.6" stroke="#444" stroke-width="0.5"/><text x="47.7" y="697.6" font-family='"Liberation Sans", sans-serif' font-size="3.6" font-weight="normal" fill="#333" text-anchor="end" dominant-baseline="central">175</text><line x1="48.5" y1="690.05" x2="50.5" y2="690.05" stroke="#444" stroke-width="0.5"/><line x1="310.9" y1="690.05" x2="312.4" y2="690.05" stroke="#444" stroke-width="0.5"/><text x="47.7" y="690.05" font-family='"Liberation Sans", sans-serif' font-size="3.6" font-weight="normal" fill="#333" text-anchor="end" dominant-baseline="central">180</text><text x="34.6" y="698.9" font-family='"Liberation Sans", sans-serif' font-size="4.4" font-weight="normal" fill="#333" text-anchor="middle" dominant-baseline="central" transform="rotate(-90 34.6 698.9)">PSA (Å²)</text><line x1="50.6" y1="713.6" x2="50.6" y2="715.6" stroke="#444" stroke-width="0.5"/><text x="50.6" y="718.5" font-family='"Liberation Sans", sans-serif' font-size="4.6" font-weight="normal" fill="#333" text-anchor="middle" dominant-baseline="central">0</text><line x1="50.6" y1="537.2" x2="50.6" y2="538.7" stroke="#444" stroke-width="0.5"/><line x1="50.6" y1="572.4" x2="50.6" y2="573.9" stroke="#444" stroke-width="0.5"/><line x1="50.6" y1="607.6" x2="50.6" y2="609.1" stroke="#444" stroke-width="0.5"/><line x1="50.6" y1="643" x2="50.6" y2="644.5" stroke="#444" stroke-width="0.5"/><line x1="50.6" y1="678.3" x2="50.6" y2="679.8" stroke="#444" stroke-width="0.5"/><line x1="102.3" y1="713.6" x2="102.3" y2="715.6" stroke="#444" stroke-width="0.5"/><text x="102.3" y="718.5" font-family='"Liberation Sans", sans-serif' font-size="4.6" font-weight="normal" fill="#333" text-anchor="middle" dominant-baseline="central">20</text><line x1="102.3" y1="537.2" x2="102.3" y2="538.7" stroke="#444" stroke-width="0.5"/><line x1="102.3" y1="572.4" x2="102.3" y2="573.9" stroke="#444" stroke-width="0.5"/><line x1="102.3" y1="607.6" x2="102.3" y2="609.1" stroke="#444" stroke-width="0.5"/><line x1="102.3" y1="643" x2="102.3" y2="644.5" stroke="#444" stroke-width="0.5"/><line x1="102.3" y1="678.3" x2="102.3" y2="679.8" stroke="#444" stroke-width="0.5"/><line x1="154" y1="713.6" x2="154" y2="715.6" stroke="#444" stroke-width="0.5"/><text x="154" y="718.5" font-family='"Liberation Sans", sans-serif' font-size="4.6" font-weight="normal" fill="#333" text-anchor="middle" dominant-baseline="central">40</text><line x1="154" y1="537.2" x2="154" y2="538.7" stroke="#444" stroke-width="0.5"/><line x1="154" y1="572.4" x2="154" y2="573.9" stroke="#444" stroke-width="0.5"/><line x1="154" y1="607.6" x2="154" y2="609.1" stroke="#444" stroke-width="0.5"/><line x1="154" y1="643" x2="154" y2="644.5" stroke="#444" stroke-width="0.5"/><line x1="154" y1="678.3" x2="154" y2="679.8" stroke="#444" stroke-width="0.5"/><line x1="205.7" y1="713.6" x2="205.7" y2="715.6" stroke="#444" stroke-width="0.5"/><text x="205.7" y="718.5" font-family='"Liberation Sans", sans-serif' font-size="4.6" font-weight="normal" fill="#333" text-anchor="middle" dominant-baseline="central">60</text><line x1="205.7" y1="537.2" x2="205.7" y2="538.7" stroke="#444" stroke-width="0.5"/><line x1="205.7" y1="572.4" x2="205.7" y2="573.9" stroke="#444" stroke-width="0.5"/><line x1="205.7" y1="607.6" x2="205.7" y2="609.1" stroke="#444" stroke-width="0.5"/><line x1="205.7" y1="643" x2="205.7" y2="644.5" stroke="#444" stroke-width="0.5"/><line x1="205.7" y1="678.3" x2="205.7" y2="679.8" stroke="#444" stroke-width="0.5"/><line x1="257.4" y1="713.6" x2="257.4" y2="715.6" stroke="#444" stroke-width="0.5"/><text x="257.4" y="718.5" font-family='"Liberation Sans", sans-serif' font-size="4.6" font-weight="normal" fill="#333" text-anchor="middle" dominant-baseline="central">80</text><line x1="257.4" y1="537.2" x2="257.4" y2="538.7" stroke="#444" stroke-width="0.5"/><line x1="257.4" y1="572.4" x2="257.4" y2="573.9" stroke="#444" stroke-width="0.5"/><line x1="257.4" y1="607.6" x2="257.4" y2="609.1" stroke="#444" stroke-width="0.5"/><line x1="257.4" y1="643" x2="257.4" y2="644.5" stroke="#444" stroke-width="0.5"/><line x1="257.4" y1="678.3" x2="257.4" y2="679.8" stroke="#444" stroke-width="0.5"/><line x1="309.1" y1="713.6" x2="309.1" y2="715.6" stroke="#444" stroke-width="0.5"/><text x="309.1" y="718.5" font-family='"Liberation Sans", sans-serif' font-size="4.6" font-weight="normal" fill="#333" text-anchor="middle" dominant-baseline="central">100</text><line x1="309.1" y1="537.2" x2="309.1" y2="538.7" stroke="#444" stroke-width="0.5"/><line x1="309.1" y1="572.4" x2="309.1" y2="573.9" stroke="#444" stroke-width="0.5"/><line x1="309.1" y1="607.6" x2="309.1" y2="609.1" stroke="#444" stroke-width="0.5"/><line x1="309.1" y1="643" x2="309.1" y2="644.5" stroke="#444" stroke-width="0.5"/><line x1="309.1" y1="678.3" x2="309.1" y2="679.8" stroke="#444" stroke-width="0.5"/><text x="179.7" y="724.3" font-family='"Liberation Sans", sans-serif' font-size="4.8" font-weight="normal" fill="#333" text-anchor="middle" dominant-baseline="central" textLength="29.2" lengthAdjust="spacingAndGlyphs">Time (nsec)</text><text x="15" y="501" font-family='"Liberation Serif", serif' font-size="16.5" font-weight="bold" fill="#111" text-anchor="start" dominant-baseline="auto" stroke="#111" stroke-width="0.35">E</text></g></svg></div></body></html>
